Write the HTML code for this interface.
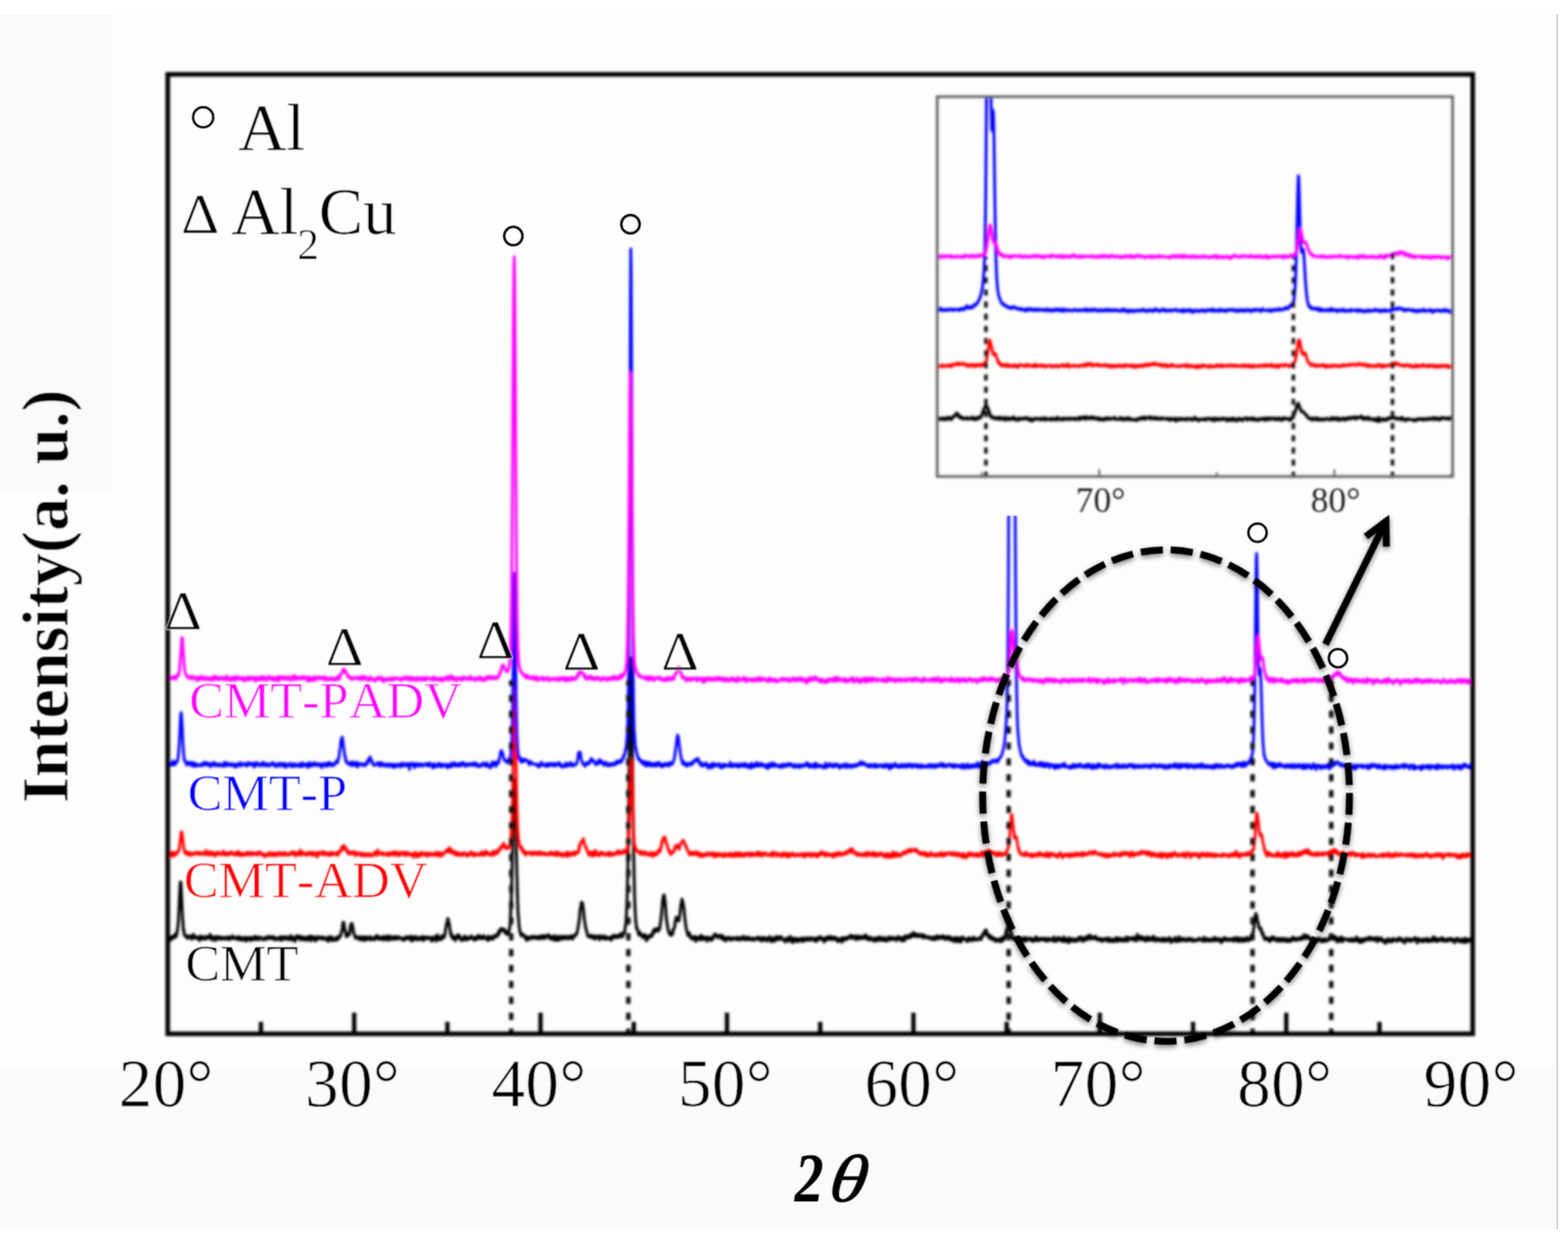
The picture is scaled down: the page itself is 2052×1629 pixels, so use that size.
<!DOCTYPE html>
<html lang="en"><head><meta charset="utf-8"><title>XRD patterns</title>
<style>html,body{margin:0;padding:0;background:#fff;}body{width:2052px;height:1629px;overflow:hidden;}svg{display:block;}</style></head>
<body>
<svg width="2052" height="1629" viewBox="0 0 2052 1629">
<defs>
<filter id="soft" filterUnits="userSpaceOnUse" x="0" y="0" width="2052" height="1629"><feConvolveMatrix order="3" kernelMatrix="0.0529 0.1242 0.0529 0.1242 0.2916 0.1242 0.0529 0.1242 0.0529" divisor="1" edgeMode="none" preserveAlpha="false"/></filter>
<filter id="pb" filterUnits="userSpaceOnUse" x="200" y="80" width="1750" height="1300"><feGaussianBlur stdDeviation="1.4"/></filter>
<filter id="soft2" filterUnits="userSpaceOnUse" x="1190" y="90" width="760" height="600"><feGaussianBlur stdDeviation="1.4"/></filter>
<filter id="soft3" filterUnits="userSpaceOnUse" x="1380" y="620" width="440" height="70"><feGaussianBlur stdDeviation="0.9"/></filter>
<filter id="sh" filterUnits="userSpaceOnUse" x="1200" y="600" width="700" height="850"><feGaussianBlur in="SourceAlpha" stdDeviation="3.5" result="b"/><feOffset in="b" dx="0" dy="3" result="o"/><feComponentTransfer in="o" result="s"><feFuncA type="linear" slope="0.5"/></feComponentTransfer><feMerge><feMergeNode in="s"/><feMergeNode in="SourceGraphic"/></feMerge></filter>
<clipPath id="cm"><rect x="219.5" y="97" width="1708" height="1256"/></clipPath>
<clipPath id="ci"><rect x="1226.5" y="126.5" width="674.5" height="497"/></clipPath>
</defs>
<rect x="0" y="0" width="2052" height="1629" fill="#ffffff"/>
<rect x="0" y="18" width="2038" height="1590" fill="#fdfdfd"/>
<rect x="0" y="18" width="147" height="626" fill="#f9f9f9"/>
<rect x="0" y="1398.5" width="2038" height="209.5" fill="#fafafa"/>
<rect x="2037.2" y="18" width="1.6" height="1590" fill="#c4c4c4"/>
<g filter="url(#soft)">
<g filter="url(#pb)">
<g clip-path="url(#cm)" fill="none" stroke-linejoin="round" stroke-linecap="round">
<path d="M221 1225.7l.5 2.4 .5 .6 .5 2 .5-3.1 .5-.5 .5-.1 .5-1.3 .5-.1 .5 2.7 .5-.1 .5-.7 .5-2.9 .5-.5 .5 2.1 .5 .1 .5-3.2 .5-1 .5 2.3 .5 1.1 .5-3.4 .5-.3 .5-3.4 .5-4.7 .5-3 .5-6.6 .5-9.3 .5-9.7 .5-12.1 .5-11 .5-8.1 .5 .2 .5 5.9 .5 10.9 .5 10.7 .5 11.3 .5 9.4 .5 5.5 .5 9.3 .5-.3 .5 4.7 .5 2.5 .5 .1 .5 .3 .5-.7 .5 2 .5-1.7 .5 .3 .5 3.4 .5 .1 .5-2.5 .5 .4 .5-.5 .5 .9 .5-.1 .5 .5 .5-2 .5 2.7 .5-1.1 .5 .7 .5 2.1 .5-4.1 .5 1.4 .5-1.3 .5-2.6 .5 4.7 .5-.3 .5-2.4 .5 3.2 .5 .1 .5-1.4 .5 .8 .5-.5 .5 1.1 .5-1.3 .5-.2 .5-.1 .5 1.5 .5 .2 .5 2.3 .5-3.6 .5 4.1 .5-4.4 .5-1.5 .5 3.4 .5-.1 .5 .2 .5-2.1 .5 2 .5-1.8 .5 .8 .5-.3 .5-1 .5 3.4 .5-1.5 .5-.4 .5-1.5 .5 2.7 .5-3.1 .5 1.3 .5-.8 .5 .4 .5 1.7 .5-.7 .5-1.8 .5 1.5 .5-1.1 .5-2.2 .5-.9 .5 3.8 .5-2.2 .5 5 .5 .3 .5-4 .5 1.6 .5-1.1 .5 .3 .5 .9 .5-.9 .5 1.1 .5 3.3 .5-1.8 .5-.3 .5-3.3 .5 3.6 .5-1.4 .5 1.4 .5-.9 .5-2.8 .5 1.6 .5 1.3 .5-.9 .5-.9 .5 2.5 .5-.3 .5-2.6 .5 .6 .5 1.1 .5 .2 .5-.2 .5 1.3 .5-2.7 .5 .1 .5 .2 .5 1.5 .5-.2 .5-.8 .5 .9 .5 .6 .5-1.1 .5-1 .5 2.5 .5-1.1 .5 .6 .5-.2 .5-2.1 .5-.5 .5 .8 .5 2 .5 .9 .5-1.8 .5 .5 .5-1.4 .5 1.6 .5-1.4 .5-1.6 .5-.3 .5-.4 .5 2.2 .5-.1 .5 1.3 .5-1.2 .5 .9 .5 .5 .5 0 .5-1.6 .5 .7 .5 .2 .5 1.5 .5-2.1 .5 1.9 .5-3.4 .5 2.5 .5-.2 .5-.4 .5 2.3 .5-.4 .5-.6 .5-2.5 .5 3.6 .5-.8 .5-.4 .5 1.6 .5-.4 .5-2 .5-.5 .5 .7 .5-1.2 .5 2.8 .5-.7 .5-2.5 .5 0 .5 5 .5-1.4 .5-3.1 .5 2.9 .5-1.3 .5 1.2 .5-.5 .5-.1 .5-1.7 .5-.9 .5 .1 .5 1.4 .5 2.7 .5-2.7 .5 .8 .5-2.1 .5 1 .5 1.8 .5-2.3 .5 2.2 .5-2 .5-.8 .5-.1 .5-1.2 .5 4.4 .5-2.1 .5-1.2 .5 1.5 .5-2 .5 2.9 .5-2.6 .5 1.2 .5 2 .5 .4 .5-1.5 .5 .1 .5-2.2 .5 1.2 .5-.5 .5-.4 .5 1.4 .5-.5 .5 .6 .5 .6 .5 1 .5-.6 .5 .8 .5-1.6 .5-.6 .5 .9 .5-.2 .5-1.9 .5 0 .5 3 .5-.7 .5-.1 .5-.9 .5-1.9 .5 1.5 .5-.8 .5-1.1 .5 2.2 .5-.1 .5 .2 .5-.8 .5 1.3 .5-1.4 .5-1 .5-.1 .5 .5 .5 1.6 .5 1.1 .5-3.2 .5 .9 .5 2.1 .5 .3 .5-.4 .5 1.4 .5-2.8 .5 2 .5-.8 .5-.6 .5 .7 .5-.8 .5-.3 .5 1.2 .5 .8 .5-2.8 .5 2.3 .5-3 .5 3.7 .5-1.9 .5 0 .5 1.1 .5 1.7 .5-5 .5 3.1 .5-.1 .5-1.3 .5-.5 .5-.2 .5 .6 .5 1.6 .5-2.7 .5 2.9 .5-.9 .5-.8 .5-1.5 .5 1.5 .5 0 .5 0 .5 2.5 .5-2.3 .5 .2 .5 .1 .5-1.7 .5 1 .5-2.8 .5 1.3 .5 4.8 .5-2.8 .5 1.3 .5-2.1 .5 1.3 .5-1.4 .5 .6 .5-.6 .5 2.5 .5 2.9 .5-2.1 .5-1.2 .5-.6 .5 0 .5-3.9 .5 2.2 .5-1.3 .5 2.7 .5-2.9 .5 3.3 .5-2.5 .5 2.2 .5-1.5 .5-1.1 .5 4.7 .5-1 .5-2.2 .5 .5 .5 1.7 .5-2.7 .5 1.6 .5-1.9 .5 1.6 .5 2.2 .5-.6 .5-2.3 .5 3 .5-1.1 .5-1.2 .5 .2 .5-.1 .5 2.7 .5-4.6 .5 3 .5-.8 .5 .2 .5 .4 .5 .7 .5-2.1 .5-2.5 .5 3.8 .5 2.5 .5-3.7 .5 .6 .5-.8 .5-1.2 .5 3.2 .5-1.1 .5-.8 .5-1.5 .5 .7 .5 3.3 .5 1.4 .5-2.1 .5 1.8 .5-3.9 .5 2 .5-.7 .5 .5 .5-3.2 .5 1.8 .5 1.1 .5-1.6 .5 .8 .5-.9 .5-.2 .5 2 .5-1.6 .5-.5 .5-.4 .5 1.2 .5 1.2 .5 .5 .5-1.6 .5 1.3 .5-2.2 .5 1.2 .5-.4 .5 1.3 .5 .8 .5 .2 .5-1.8 .5 .7 .5 .3 .5 1 .5-1.3 .5 3.5 .5-6.1 .5 1.4 .5 .4 .5 2.2 .5-.3 .5-2.6 .5 .7 .5-1.3 .5-.6 .5 1 .5 4.2 .5-.7 .5 0 .5-.7 .5 .8 .5 .1 .5-1.7 .5-.1 .5-.8 .5 1.1 .5-2.4 .5 3.6 .5-.8 .5-1.3 .5 .4 .5 .7 .5-3.2 .5-.4 .5-.6 .5 1.6 .5-.9 .5-1 .5-1 .5-2.7 .5-.6 .5-3.5 .5-.1 .5-6.3 .5-3.7 .5 1.6 .5-1.3 .5 5.9 .5 1 .5 4.5 .5 .1 .5 2.3 .5 4.6 .5 .2 .5-.6 .5-3.8 .5 3.6 .5-.8 .5-.5 .5-.2 .5-.4 .5-1 .5-4.2 .5-5.9 .5-1 .5-1.5 .5 .2 .5-1.1 .5 1.2 .5 3.7 .5 1.1 .5 5.4 .5 1.8 .5 .3 .5 1.9 .5 .5 .5 3 .5 .6 .5-1.4 .5 .4 .5-.8 .5 .5 .5 .5 .5-1.1 .5 .4 .5 2.7 .5-1.5 .5 .5 .5-2.2 .5 2.9 .5-1.7 .5 2.9 .5-1.4 .5-1.8 .5 1.6 .5-2.7 .5 4.5 .5-3 .5-.3 .5 .1 .5 2.1 .5-2.6 .5 4 .5-4.7 .5 1.7 .5-1.4 .5 2.1 .5 .9 .5-.3 .5 .1 .5-1.5 .5 1 .5-.8 .5-.4 .5-1.4 .5 4.2 .5-1.9 .5-1.4 .5-.4 .5 1.7 .5-.4 .5 .5 .5 .1 .5 1.3 .5-.1 .5 .6 .5-1.5 .5-2 .5 2.5 .5-1.9 .5-1.6 .5 2 .5-3.5 .5 3.7 .5-2.4 .5 2.8 .5 .6 .5-1.2 .5-1.9 .5 3.6 .5-2.2 .5 1.7 .5-.6 .5-1.4 .5 .6 .5-.5 .5-.7 .5 3.4 .5-.6 .5-.9 .5-2.7 .5 4 .5 .6 .5-1 .5-2.7 .5 3.3 .5-1.3 .5-.4 .5-1.5 .5-1.5 .5 4.3 .5 .4 .5-2 .5-.5 .5 3.4 .5-2.5 .5-3.2 .5 1.9 .5-.6 .5 1 .5 .4 .5 .1 .5 1.5 .5-2.1 .5 2.3 .5-2.3 .5-1.3 .5 2.2 .5 .2 .5 .5 .5 .3 .5-3.4 .5 2.2 .5-1.4 .5 1.9 .5 .8 .5-.2 .5-1.3 .5-.4 .5-1.3 .5 1.7 .5-.6 .5-.3 .5 1.5 .5 .6 .5-1 .5 0 .5 .1 .5 .2 .5 .8 .5-1.2 .5 1.2 .5 2 .5-1.6 .5-1.6 .5 .3 .5 1.5 .5-2.2 .5-.8 .5 .1 .5-.8 .5 2.9 .5-1.3 .5 .9 .5-1.8 .5 .5 .5 .6 .5 .3 .5 1.3 .5-1.9 .5 2.1 .5-4.5 .5 1.6 .5 3.8 .5 1.3 .5-5.3 .5 2.8 .5-1.1 .5 2.3 .5-1.4 .5 .1 .5-2.5 .5 .6 .5-1.5 .5 3.4 .5-1.9 .5 1.2 .5-.3 .5 1.8 .5 .6 .5-3.7 .5 2.8 .5-1.3 .5-.5 .5 1.2 .5-1.5 .5 2 .5-.3 .5-2.8 .5 3 .5-1.8 .5-.3 .5-1.4 .5 1.5 .5 3.6 .5-1.4 .5-.9 .5-2.5 .5 1.1 .5 1.8 .5-1.7 .5 1.4 .5-1.6 .5 1.3 .5-1.8 .5 .9 .5-1.2 .5 1.8 .5-.8 .5 1.3 .5-1.3 .5 .2 .5 .2 .5 .3 .5 .8 .5-.7 .5 3.6 .5-5.5 .5 4.9 .5-2.2 .5 1 .5-1.2 .5 .7 .5-.1 .5-.8 .5-1.3 .5-1.7 .5 3 .5 3.1 .5-2.8 .5-1 .5-4.4 .5 5.6 .5-.4 .5-.9 .5 .3 .5 2 .5-2.8 .5 2.5 .5-1.9 .5-1.4 .5 3.3 .5-1.5 .5-3.8 .5 1.6 .5 1.5 .5-.9 .5-1.7 .5 2.3 .5-2.5 .5-.1 .5-2.7 .5-5.8 .5-1.4 .5-2.7 .5-3.6 .5-.5 .5-2.5 .5-3.3 .5 .5 .5 5.1 .5-.2 .5 2.1 .5 4 .5 3.1 .5 4.9 .5 .4 .5 3.5 .5-3.4 .5 3.6 .5-.7 .5 3.5 .5-2.7 .5 2.9 .5-1.2 .5-1.4 .5 1.1 .5 .9 .5 2.9 .5-4.5 .5 .3 .5-1.8 .5 .1 .5 1.8 .5-.3 .5-3.3 .5 4.6 .5-1.8 .5 1.1 .5-2.4 .5 2 .5 2.3 .5-1.2 .5 1.1 .5 .9 .5 1.3 .5-2.4 .5 1.1 .5-2.2 .5 1.8 .5-1.9 .5-2.1 .5 2.7 .5 .9 .5-2.3 .5-1.2 .5 3.6 .5 1.3 .5-1.5 .5 .4 .5-2.3 .5 1.8 .5-1.2 .5-.3 .5 1.3 .5-.2 .5-2.1 .5 0 .5 1.9 .5-3.6 .5 1.6 .5 .7 .5 .4 .5-.2 .5-.3 .5 .4 .5 1.2 .5 2 .5-2.9 .5 .5 .5 .8 .5-2.6 .5 3.4 .5-3.1 .5 1.5 .5 .5 .5-.5 .5-3.6 .5 1.3 .5 1.9 .5-2.2 .5-.9 .5 3.8 .5-.8 .5-1.9 .5 .5 .5 1.7 .5-1.3 .5 2.1 .5-.6 .5-3 .5 2.1 .5-2.7 .5 2.8 .5 .6 .5-.4 .5-.3 .5 0 .5 .2 .5 1.9 .5-.4 .5-1.3 .5-1.2 .5-1.1 .5 5.5 .5-3.2 .5 .7 .5-.7 .5-.3 .5 1.3 .5 .4 .5-3 .5-.5 .5 2 .5-.7 .5 1.6 .5 .8 .5-2.9 .5 .9 .5 .2 .5-1.2 .5-2.2 .5 1.1 .5 .8 .5-.2 .5-1 .5-.4 .5 1.6 .5-2.8 .5-.6 .5-2.3 .5 .3 .5 2.2 .5-4.9 .5-.2 .5 1.9 .5-3.9 .5 1 .5-1.3 .5 .6 .5-.3 .5 1.5 .5 .5 .5-1.1 .5-.8 .5 1.2 .5-.5 .5 .8 .5 3.7 .5-2.4 .5 3.2 .5 .6 .5-1.4 .5 1.5 .5-1.4 .5 2 .5-4.3 .5 1.7 .5-1.4 .5-2.9 .5-.9 .5-7.2 .5-6.7 .5-11.2 .5-10.1 .5-18.5 .5-20.5 .5-20.5 .5-25.6 .5-26.2 .5-20.2 .5-18.2 .5-10.2 .5 1.4 .5 12.6 .5 19.9 .5 18.2 .5 27.6 .5 26.4 .5 20.3 .5 18.8 .5 16.5 .5 14.5 .5 3.9 .5 7.6 .5 5.3 .5 2.7 .5 4.3 .5 1.6 .5-1.3 .5 4.5 .5-2.8 .5 2.4 .5-.7 .5 .1 .5-1.1 .5 .6 .5 .8 .5 1.3 .5-.7 .5 1.9 .5 1.6 .5-2 .5 .5 .5-.8 .5 4.8 .5-3.9 .5-.3 .5 .5 .5-.7 .5 2.7 .5-.7 .5 .3 .5-.4 .5-.3 .5-1.3 .5-.7 .5 1.6 .5-.3 .5 1 .5-3.1 .5 2.8 .5-1 .5-.6 .5 1.2 .5-1.2 .5 .9 .5-1.6 .5 1.6 .5-.1 .5 1 .5-1.8 .5-.7 .5 .7 .5 2 .5-1 .5-1 .5-.1 .5 2.5 .5-3.6 .5 2.5 .5-.7 .5 .6 .5-.7 .5-2.1 .5 3.6 .5-.7 .5 0 .5-.5 .5-2.9 .5 2.6 .5-.6 .5 2.1 .5-2.3 .5-.5 .5 .3 .5-.3 .5-1.3 .5 .8 .5 .6 .5 .4 .5 .7 .5-3.7 .5 4.5 .5-1.8 .5 1.7 .5 1 .5-2.5 .5 2.8 .5-3.1 .5 3.3 .5-2.9 .5 .3 .5 2.6 .5-3.4 .5 .5 .5 4.3 .5-5.3 .5-.6 .5 3 .5 .7 .5 0 .5 2.6 .5-3 .5-.9 .5 2.1 .5-1.9 .5-1.9 .5 5.5 .5-.3 .5-1.4 .5-2.4 .5 .6 .5 1.4 .5 .1 .5-.9 .5-2.7 .5 3.7 .5-.3 .5-1.9 .5 1.4 .5 .8 .5-3.1 .5 1.7 .5 1.1 .5-.9 .5-2.2 .5 2.2 .5-.6 .5-.5 .5-1 .5 3.2 .5-1.7 .5 .2 .5 .5 .5-1.3 .5-.8 .5 1.4 .5 1.4 .5-1.5 .5 1.1 .5-3.3 .5 1.8 .5 .7 .5-1.4 .5 3 .5-1.1 .5-1.2 .5-1.5 .5-1.2 .5 1.1 .5-.8 .5 .6 .5-1 .5-.3 .5-2.5 .5 .5 .5-1.9 .5-2.8 .5-3.7 .5-1.8 .5-3.7 .5-3.5 .5-3.6 .5-8.2 .5-3.3 .5-.9 .5-3.8 .5-3.6 .5 .9 .5 1.9 .5-.9 .5 4.6 .5 3.9 .5 4.3 .5 6.6 .5 3.3 .5 2.8 .5 3 .5 4.4 .5 .1 .5 3.2 .5 .1 .5 3.7 .5 1.9 .5 .7 .5 .9 .5-.6 .5 0 .5-.3 .5 .6 .5 .9 .5-2.6 .5 1.7 .5-.1 .5-1.3 .5 .3 .5 3.2 .5-1.2 .5-1.3 .5-.3 .5 .5 .5-.7 .5 4.2 .5-2.4 .5 2.1 .5-1.3 .5-.4 .5-1.3 .5-.6 .5 .8 .5 .1 .5 .8 .5-1.8 .5 1.9 .5 3 .5-1.6 .5-1.3 .5 1.2 .5-2.5 .5-1 .5 2.4 .5-.5 .5-.1 .5 1.4 .5 .3 .5 .6 .5-1.3 .5-.2 .5-2.5 .5 1.7 .5-.6 .5 3.4 .5-1.1 .5-.9 .5-.4 .5 1.2 .5-.3 .5-.6 .5 1.3 .5-.3 .5-.9 .5 1.3 .5 .9 .5-1.7 .5-.9 .5 3.4 .5-5.2 .5 1.8 .5-.9 .5 1.8 .5-1.2 .5-2.4 .5-.1 .5 1.3 .5 1.1 .5-.4 .5-1.6 .5 2 .5 .3 .5-1.4 .5-.9 .5 2.6 .5-1.3 .5 .3 .5-.1 .5-.2 .5-2.3 .5 .4 .5 2.5 .5-4.4 .5 1.9 .5-.4 .5 1 .5-.3 .5 2 .5-3.1 .5-2 .5-.7 .5 .7 .5 .5 .5-2.6 .5-3.3 .5-4.5 .5-.3 .5-8.2 .5-9.8 .5-12.3 .5-16.6 .5-19.5 .5-34.4 .5-34.9 .5-41.6 .5-43.6 .5-45.3 .5-43.3 .5-26.5 .5-13.5 .5 7.2 .5 21 .5 39.4 .5 41.9 .5 43.7 .5 44.3 .5 37 .5 33.2 .5 24.5 .5 21.3 .5 13.5 .5 8.9 .5 10.2 .5 1.1 .5 6.8 .5-1 .5 1.2 .5 1.7 .5 2.2 .5 1.7 .5 2.4 .5-3.1 .5 2 .5-2.6 .5 3.5 .5-.9 .5 1.8 .5-.6 .5 1 .5 .8 .5 1.6 .5-1.4 .5-1.3 .5-1.2 .5 2.1 .5 2 .5-4.1 .5 1.3 .5-.3 .5 3.3 .5 3.7 .5-3 .5 .7 .5-2.2 .5 2.1 .5-1.6 .5-.1 .5-2.4 .5 1.6 .5-2.4 .5 .3 .5 .3 .5 1.4 .5 0 .5-2.9 .5 1.7 .5-4.1 .5 1.1 .5-3.2 .5-1.4 .5 .6 .5 2.8 .5-4.5 .5 1.8 .5-.1 .5-.7 .5 .9 .5-1.8 .5 1.5 .5-2.6 .5 .4 .5 3.3 .5-1.7 .5-.3 .5-.6 .5-2.2 .5-4.3 .5-3.2 .5-2.7 .5-5.2 .5-5.5 .5-4.4 .5-7.6 .5-4.2 .5-3.3 .5-1.5 .5-.8 .5 2.7 .5 3.3 .5 4.2 .5 5.2 .5 9.1 .5 6 .5 3.2 .5 4.1 .5 2.5 .5 3.2 .5 1.9 .5 4 .5-.6 .5 1.6 .5-.8 .5-.1 .5 3.5 .5-.2 .5-3.5 .5 3.2 .5-.8 .5-.1 .5-1.4 .5-5.5 .5 1 .5-1.7 .5-1.4 .5-.8 .5-6.9 .5-.8 .5-2.1 .5-2.9 .5 2.1 .5 .6 .5 .1 .5-1.1 .5 3.3 .5-1.2 .5 1 .5-4.9 .5-2.5 .5-2 .5-6.3 .5-3 .5-5.1 .5-.7 .5-3.8 .5 3.2 .5-.1 .5 2.6 .5 4.6 .5 1.4 .5 4.8 .5 7.4 .5 2.6 .5 5.3 .5 2.9 .5 2.8 .5 3.3 .5 1.3 .5 1.4 .5 3.1 .5 .9 .5-1.6 .5 1.3 .5-3.1 .5 1 .5 4.2 .5-.8 .5 2.2 .5-1.7 .5 .2 .5 .5 .5 2.6 .5-2.5 .5 .7 .5 .9 .5-1.2 .5-1.3 .5-.3 .5 4.5 .5-3.1 .5 5.2 .5-.7 .5-.8 .5-3.5 .5 1 .5 .2 .5-1.3 .5 1.3 .5 .2 .5-2.6 .5 2.8 .5 1.4 .5 .2 .5-3.9 .5-2.1 .5 1.8 .5 1 .5-1.5 .5 3.7 .5-2.2 .5 1.8 .5-2.6 .5 3.6 .5-2.4 .5 .2 .5 .1 .5-.7 .5 1.9 .5-2.5 .5 2.5 .5 2.8 .5-4.4 .5-.1 .5 1.3 .5-1.7 .5 .4 .5 .9 .5 1.8 .5-.8 .5-.1 .5-.8 .5 2.6 .5-1 .5-3.7 .5 2.1 .5-.2 .5 .5 .5-4.1 .5 .7 .5-.9 .5-1.8 .5 1 .5-.8 .5 2 .5-.8 .5 .6 .5 .3 .5 2.5 .5-1.6 .5 .3 .5 1 .5-.7 .5-2.5 .5 .9 .5 1.9 .5-.2 .5-1.4 .5 3.4 .5-2.2 .5-1.7 .5-.1 .5 1.5 .5 .5 .5 3.7 .5-1.6 .5-.4 .5-.8 .5 1 .5 3.4 .5-2.2 .5-1.3 .5 1.7 .5-1.2 .5-1.5 .5 .3 .5 .6 .5-.4 .5-1 .5 2.3 .5 .9 .5-.4 .5-.4 .5-.2 .5 1.5 .5-.9 .5-1.2 .5-1.3 .5 1.2 .5 1.1 .5-.9 .5 .7 .5-.1 .5-1.2 .5 1 .5 .3 .5-1.5 .5 .9 .5-1.2 .5 2.8 .5-1.1 .5-2.2 .5 2.4 .5-1 .5 .6 .5 1.2 .5-2.3 .5 .7 .5-1.3 .5 2.9 .5-1.3 .5 .1 .5 .4 .5-2.3 .5 2.3 .5 0 .5-3.8 .5 3.4 .5 .3 .5-.7 .5 1.6 .5-2.2 .5 1.8 .5-.2 .5 .3 .5-2.6 .5 .2 .5-1 .5 .2 .5 3.2 .5-2.1 .5 .9 .5 1.7 .5-1.9 .5 .7 .5 0 .5-.4 .5-.8 .5 .5 .5-.1 .5 2.3 .5-2.5 .5 1.8 .5 .5 .5-1.4 .5-.7 .5-.2 .5 1.3 .5 .3 .5 .1 .5-1.7 .5-.1 .5 .1 .5 1.3 .5-3.1 .5 1.8 .5-.2 .5 .6 .5 .7 .5-1.4 .5 3.3 .5-1.7 .5-.5 .5-1.2 .5 1.7 .5-1.5 .5 3.8 .5-4.8 .5 1.1 .5-.3 .5 2.3 .5-1.9 .5 1.4 .5-1.6 .5 2.1 .5-2.3 .5 .5 .5 3.7 .5-2.1 .5 .7 .5-2.1 .5 1.8 .5-.9 .5-2 .5 2.8 .5-4.1 .5 2.9 .5 .8 .5 2.5 .5 .5 .5-3.3 .5 1.3 .5-.3 .5-2.7 .5 .9 .5 1.1 .5 1.8 .5 .7 .5-3.9 .5 .6 .5-.2 .5-2.6 .5 4 .5-1.6 .5-2.3 .5 1.6 .5 1.2 .5 .2 .5-2.9 .5 3.8 .5-2.6 .5-.4 .5 1.8 .5-1.8 .5 .7 .5-1.8 .5 2.1 .5 1.3 .5 0 .5 .1 .5 .8 .5-.6 .5 1.5 .5 .1 .5-1.6 .5 3.4 .5-3.3 .5 0 .5 .5 .5-2.7 .5 .7 .5 1.6 .5-.8 .5-.4 .5 3.5 .5-2.7 .5-.2 .5-1.4 .5-2.2 .5 4.1 .5-.3 .5 1.7 .5-1.4 .5 0 .5 4 .5-5.2 .5-.5 .5 4.9 .5-1.9 .5-2.5 .5 .8 .5-1.4 .5 1.9 .5-1.3 .5 3.2 .5-2.4 .5 .8 .5 .8 .5 1.7 .5-1.7 .5-2.5 .5 2.4 .5-.6 .5-1 .5 1.2 .5-1.6 .5-.2 .5 1.5 .5 2 .5-4.5 .5 2 .5 .1 .5 .8 .5 .2 .5 1 .5-2.9 .5-.1 .5-.8 .5 0 .5 2.9 .5-3.5 .5 1.3 .5-.6 .5 1.7 .5-1.7 .5 2.1 .5-1.4 .5 2.2 .5-2.1 .5-.4 .5-.8 .5-.2 .5 1.2 .5 1.3 .5-1.8 .5-.1 .5 2 .5-1.8 .5 1.9 .5-2 .5 .5 .5 .4 .5-.4 .5 3.2 .5-3.7 .5 3.6 .5-3.7 .5 .6 .5 3.2 .5-2.4 .5 .2 .5 .5 .5-3.6 .5 1 .5 .9 .5-1.1 .5 1 .5 .6 .5-2.8 .5 3.3 .5-2 .5 1.2 .5 .2 .5 .6 .5-1.1 .5 .9 .5 .3 .5 3.6 .5-4.2 .5 2.2 .5-3.8 .5 2.2 .5-1.6 .5-.5 .5-.2 .5 3 .5-4 .5 1.3 .5-.2 .5 2 .5-3.4 .5 2 .5-.3 .5 1.8 .5-3 .5 .1 .5 1.9 .5-2.5 .5 4 .5-2.1 .5-.1 .5-.2 .5 1.6 .5 0 .5-1.8 .5-.7 .5 1.5 .5 .5 .5 1.6 .5-2.7 .5 1.7 .5-.1 .5 3 .5 .4 .5-1.4 .5 .5 .5-2.6 .5 0 .5 .7 .5-.6 .5-.7 .5 2 .5-2.6 .5 5.4 .5-5.5 .5 4.4 .5-3 .5-.5 .5-1.1 .5 1.5 .5-1.1 .5 2.2 .5-2.8 .5 1.1 .5-.7 .5-.6 .5 2.6 .5-1.2 .5 .2 .5-1.3 .5 .3 .5-1.8 .5 1.1 .5 .5 .5-.4 .5-1 .5-.4 .5-1.7 .5 3.9 .5-1.8 .5 2.4 .5-1.2 .5-1 .5-.9 .5 1.8 .5-1.4 .5 .3 .5-1 .5 .1 .5 .9 .5 3.8 .5-.7 .5-2.5 .5 .3 .5-1.9 .5 3.1 .5-.7 .5 1.8 .5 0 .5-2.4 .5-1.3 .5 2 .5 .7 .5-1.6 .5-1.1 .5 .2 .5 .8 .5 1.5 .5 .4 .5-.8 .5-.2 .5 .8 .5-3.5 .5 1.3 .5 1.8 .5-2.2 .5-2.2 .5 2.8 .5 .5 .5-.5 .5 3.3 .5-1.4 .5 .1 .5-1.7 .5 3.7 .5-2.6 .5 1.1 .5 .5 .5 .3 .5-3.1 .5 2.9 .5 1 .5-1.3 .5 1 .5-.8 .5 .2 .5 .1 .5-1.2 .5 3.2 .5 .3 .5-4.3 .5 4 .5-2.5 .5 1.2 .5-1.4 .5 .3 .5-1.8 .5 2.3 .5 1.4 .5-.5 .5-2.6 .5-.7 .5-1.1 .5 0 .5 4.2 .5-1.3 .5 1 .5-1.7 .5-.7 .5 3.4 .5-2.6 .5-.5 .5 2.1 .5-.5 .5-2.7 .5 2.4 .5 2 .5-1.2 .5-1.7 .5 .2 .5 3.2 .5-1.1 .5-1.1 .5-.8 .5-.1 .5 .4 .5-3.1 .5 1 .5 3.6 .5-1.2 .5-1.6 .5 2.1 .5-1.8 .5 .8 .5 .7 .5-1.2 .5-1.9 .5 2.8 .5-1 .5 1 .5-1.7 .5 .3 .5 1.6 .5 .3 .5-1.6 .5 1.2 .5 1.6 .5-.8 .5-1 .5-2.9 .5 .6 .5-1.1 .5 .7 .5-.1 .5 .6 .5 2.9 .5-1.9 .5-.3 .5 .1 .5 .2 .5 3.4 .5-4 .5 1.2 .5-1.8 .5 1.8 .5 .3 .5-.6 .5 3.1 .5-3.4 .5 .3 .5-3.5 .5 2.9 .5 .6 .5-3.3 .5 1 .5 .8 .5-.6 .5 .7 .5-.2 .5 1.1 .5-3.2 .5 .4 .5-1.8 .5 1.7 .5 1.8 .5-2.9 .5 .5 .5-1.3 .5 2.6 .5-1.8 .5-3.3 .5 .4 .5 4.3 .5-2.3 .5 .1 .5-1 .5 2.5 .5 1.1 .5-3 .5 1.9 .5 .4 .5 .8 .5-2.8 .5 2.4 .5-2.3 .5 .9 .5 1.9 .5-1.8 .5-.4 .5 1.7 .5 .5 .5-1.7 .5 1.3 .5-1.5 .5-.8 .5 3.8 .5 .7 .5-3.4 .5 1.8 .5-.8 .5-.9 .5 1.8 .5-1.1 .5 2.1 .5-.4 .5-.2 .5-.4 .5 1.6 .5-.2 .5-.5 .5 .3 .5 .1 .5-1.3 .5 2.5 .5-1.4 .5-.4 .5 0 .5 1.7 .5-1.1 .5 .9 .5 1.3 .5-1.9 .5 1.6 .5-1.5 .5-1.5 .5 .5 .5 2.8 .5 .3 .5-1.3 .5-.7 .5-1.6 .5 1 .5-2.5 .5 2.5 .5-2.1 .5 3.8 .5-1.7 .5 0 .5-1.4 .5 .9 .5 1.3 .5 0 .5-2.3 .5-.4 .5 1.4 .5-.3 .5 1.7 .5-2.8 .5-.7 .5 3 .5 .5 .5-2.6 .5 .4 .5 2 .5 .2 .5 1.5 .5-2 .5 .8 .5 .1 .5-2.7 .5 2.8 .5 .3 .5-1.5 .5 .5 .5-2.4 .5 3.4 .5-.1 .5-2.1 .5 3.3 .5 .8 .5-1.3 .5 .1 .5 .3 .5-1.2 .5-1.1 .5 3.1 .5-1.4 .5 3 .5-3.7 .5 2.6 .5-2.1 .5-2 .5 .5 .5 1 .5 3.8 .5-5.5 .5 2.9 .5-2.2 .5 2.1 .5 .2 .5-1.8 .5 4.5 .5-.9 .5-2.3 .5-2 .5 5.5 .5-3.8 .5 1.7 .5-2.2 .5-2.4 .5 2.4 .5-.3 .5-.7 .5 1.7 .5-1 .5 .4 .5 .1 .5 .9 .5 .3 .5 .6 .5-1.4 .5 3.2 .5-2.4 .5-1.7 .5 2.9 .5-.2 .5-3.9 .5 2.1 .5 .6 .5-2 .5 .4 .5 .9 .5 .6 .5 1.7 .5-1.1 .5-.7 .5-1.7 .5 .5 .5-2 .5 2.9 .5-1.1 .5 .8 .5 1.6 .5-2.3 .5 .8 .5 .4 .5 .5 .5-.1 .5 .4 .5-1.1 .5-1 .5 0 .5 .3 .5 .9 .5-1.1 .5-1.6 .5 .9 .5 1.6 .5 .5 .5-2.1 .5-2.2 .5 .4 .5-3.4 .5 2.5 .5-1 .5-1.7 .5 .3 .5-4.2 .5 2.1 .5-.5 .5 .1 .5-3.1 .5 .9 .5 4.9 .5 1.7 .5-1.1 .5-.4 .5 1.7 .5 .5 .5 2.8 .5-4.1 .5 1.9 .5 .1 .5 1.6 .5-.6 .5-1 .5 3.9 .5-1.5 .5-1.1 .5 .9 .5 1.8 .5 .1 .5-2 .5 .8 .5 1.2 .5-.9 .5 3.2 .5-2.4 .5-.9 .5 .3 .5 2.2 .5-.8 .5-.4 .5-.7 .5 1.3 .5 .4 .5-.6 .5 .9 .5 1 .5-4.9 .5 3.3 .5-.5 .5 .4 .5 .8 .5-2.9 .5 2.6 .5-5 .5 3.5 .5-.9 .5-.6 .5-.5 .5-2.1 .5-3.4 .5-1.6 .5-3.1 .5 2.8 .5-5.3 .5-1 .5 .4 .5 1.1 .5-5.4 .5 1.9 .5 4.2 .5-2.7 .5 2.7 .5 1.9 .5 .9 .5 2.6 .5 1.1 .5 .1 .5 4.4 .5 1.5 .5 .8 .5-2.4 .5 2.2 .5-.7 .5 0 .5-.9 .5 .3 .5 1.5 .5-3 .5 1.7 .5-.4 .5 .9 .5 0 .5 .2 .5-.6 .5-.5 .5 .7 .5 1.4 .5 .2 .5-2 .5-.9 .5-.3 .5 2.9 .5 2.1 .5-2.4 .5-1 .5 0 .5 1 .5 1.5 .5-.7 .5 1.6 .5-5.3 .5 1.9 .5 .4 .5-1 .5 1.7 .5 1.3 .5-2.3 .5-.1 .5 .5 .5-1.3 .5 .3 .5 .6 .5 .5 .5-.9 .5 2.1 .5-1.7 .5-1 .5 3.1 .5-1.7 .5 2.6 .5-2.2 .5 2.7 .5-.5 .5-1.6 .5-1.5 .5 1 .5 .7 .5 .3 .5-1.1 .5-3.6 .5 1.5 .5 3.5 .5-.4 .5 .8 .5-2.9 .5 1.1 .5 1.5 .5-1.6 .5 0 .5 .8 .5-.8 .5-1.3 .5 1.8 .5-1.1 .5 1.3 .5-.5 .5-1.7 .5 .4 .5 1.9 .5-.5 .5-1.8 .5 1.6 .5 1.3 .5-2.5 .5 1.3 .5-.2 .5-1 .5 3.4 .5-.8 .5 .1 .5-1.4 .5 .2 .5-2.1 .5 1.5 .5 1.4 .5-1.5 .5 .6 .5-.6 .5 .3 .5 .8 .5-1.2 .5 1.4 .5 .7 .5-2.2 .5 1.4 .5-4.3 .5 5.7 .5-2.9 .5-.6 .5 1.4 .5 0 .5-.6 .5 3 .5-2.6 .5 .5 .5 0 .5-3.3 .5 1.7 .5 .6 .5 1 .5-.4 .5 .5 .5-2.4 .5 2.1 .5 1.1 .5-.3 .5-1.4 .5 2.8 .5-.7 .5 .4 .5 .3 .5-5.9 .5 4.2 .5-2.7 .5 2.3 .5 .4 .5 2.1 .5-2.7 .5-1 .5 1.6 .5-.8 .5-.5 .5 1.5 .5 .3 .5 2.8 .5-6.4 .5 2.6 .5 2.7 .5-.1 .5-1 .5 .1 .5-1.6 .5 .5 .5-1.8 .5 .7 .5 .2 .5 1.8 .5-2.4 .5-.1 .5 1.3 .5 2.2 .5-2.9 .5 2.1 .5-1.4 .5-.3 .5-.6 .5 1.8 .5-1.6 .5-1.1 .5 3 .5-1.1 .5-1.8 .5-1.9 .5 3.2 .5-.4 .5-2.6 .5-.5 .5 3.6 .5-.6 .5-.7 .5 1.3 .5 2.3 .5-2.7 .5-1.2 .5 2.8 .5-4 .5 2 .5 1.1 .5-2.2 .5 2.3 .5-3.6 .5 .9 .5-1.8 .5 4.1 .5-2.4 .5-2.7 .5-.2 .5 .8 .5 .6 .5 0 .5-.7 .5-1.1 .5 5.3 .5-.8 .5 0 .5-1.7 .5 0 .5 1.1 .5 0 .5-1 .5-.8 .5 2.4 .5-.6 .5-.4 .5-2.5 .5 4 .5-.8 .5 .3 .5 .4 .5-1.1 .5 1.5 .5 1.3 .5-1.7 .5-.8 .5 1.1 .5 .9 .5-2.2 .5 2.1 .5-1.1 .5 1.9 .5 .8 .5-.1 .5 .6 .5-3.3 .5-.1 .5 .8 .5 .4 .5-.5 .5-.1 .5-1.4 .5 2 .5 .6 .5-1.9 .5 .8 .5 .7 .5 1.2 .5-2.9 .5-1 .5 4.1 .5 .6 .5-1.1 .5-1.4 .5-1.3 .5 .6 .5 2.8 .5-1.9 .5-.5 .5 1.3 .5-1.1 .5 2.6 .5-2 .5 1.4 .5-1.7 .5-.6 .5 3 .5-2.6 .5-1.4 .5 1.1 .5-1.9 .5 2.4 .5-2.7 .5 2.8 .5 2.1 .5-1.4 .5 .8 .5-2.9 .5-.3 .5-.2 .5 .9 .5 1.2 .5 .5 .5 .6 .5-3 .5 1.7 .5-.6 .5-.8 .5 .6 .5 2.6 .5-.3 .5-.3 .5-2.4 .5 2.7 .5-.5 .5-2.8 .5-.8 .5-1.2 .5 2.2 .5-.6 .5 4.1 .5-2.7 .5-1 .5-.7 .5 2.1 .5-2.3 .5-.3 .5 1.8 .5-.1 .5 .6 .5-.1 .5-1.1 .5 1.8 .5 .1 .5-1.2 .5 .4 .5-2.7 .5 2.1 .5 .4 .5 1.4 .5-2.1 .5 1.2 .5 1.5 .5-4.4 .5 4.5 .5-6.2 .5-2.1 .5 4.4 .5 1.2 .5-1.9 .5 1.6 .5-.4 .5-.9 .5 3.2 .5-4.5 .5 2.3 .5-.8 .5-1 .5 3.8 .5-.5 .5-2 .5-.6 .5 .5 .5-.2 .5 .8 .5 2.5 .5 1.2 .5-1.3 .5-1.3 .5-.6 .5 2.7 .5-4.4 .5-.8 .5 2.8 .5 1.9 .5-.5 .5-.6 .5 1.2 .5-3.1 .5 2.5 .5-1.6 .5 1.5 .5-2.7 .5 2.5 .5-.6 .5 1.4 .5-.9 .5 1 .5-5.5 .5 4.1 .5 .4 .5 .3 .5-1.1 .5 .4 .5 2.5 .5-3.8 .5 2 .5 .2 .5-2.1 .5 1.2 .5 1 .5 .1 .5-2 .5 1.6 .5-.1 .5 2 .5-2.6 .5 1.1 .5 .5 .5-1.7 .5 1 .5 .6 .5-2.1 .5-.8 .5 4.5 .5-3.4 .5 .5 .5 .5 .5-1.6 .5 .7 .5 1.8 .5-1.9 .5 2.4 .5-.3 .5 .7 .5-2.5 .5-.7 .5 1.5 .5-.6 .5-2.4 .5 2.4 .5 .9 .5-1.9 .5 3.1 .5 2.2 .5-2.5 .5-1.5 .5 1.7 .5 .1 .5 0 .5-.2 .5 .2 .5-1.2 .5-1 .5-2.5 .5 2.4 .5 .7 .5 1.8 .5-.7 .5 1.4 .5-2 .5 1.8 .5-3.4 .5-1.3 .5 1 .5-2.6 .5 5.3 .5-3 .5 1.6 .5-.7 .5 2.4 .5-1.6 .5 0 .5 .2 .5-2.2 .5 .1 .5 .1 .5 2.4 .5 .2 .5 .5 .5-2.4 .5 .6 .5 1.2 .5 .7 .5-1.1 .5-.3 .5 0 .5 1.2 .5-2.4 .5-1 .5 2.5 .5-1.6 .5 .8 .5 1.5 .5-.6 .5-.8 .5-1.2 .5 2.4 .5-1.1 .5 .3 .5 .2 .5 1.8 .5-2.7 .5 2.4 .5-.9 .5-.7 .5 .7 .5 .6 .5-.8 .5-.3 .5 0 .5-.7 .5 1.2 .5 0 .5 .3 .5-.3 .5-.8 .5-1.5 .5-.5 .5 .4 .5 1.1 .5 .4 .5-.2 .5 .1 .5-.2 .5 1.3 .5-.9 .5 2 .5-.9 .5-.1 .5-4.3 .5 3.3 .5-1.1 .5 3 .5-2 .5 1 .5-2 .5 1.3 .5 .7 .5-2.7 .5 1.5 .5 1.8 .5-1.1 .5 .9 .5-1.5 .5 1.1 .5-.4 .5 1.3 .5-2.8 .5 2.1 .5-1.2 .5 .4 .5-.7 .5 1.5 .5-1.9 .5-.8 .5 1.8 .5-3.1 .5 4.1 .5-.1 .5 .1 .5-3.4 .5 2.1 .5 .2 .5-.5 .5 .1 .5-1.3 .5 2.5 .5 .2 .5 .1 .5-.3 .5-1.8 .5-.1 .5 1.6 .5 .3 .5 2.9 .5-4.3 .5-.6 .5 3.8 .5-1.3 .5-.1 .5-2 .5-.1 .5-1.3 .5-.8 .5 1.3 .5 1.9 .5 .3 .5-.5 .5-1.4 .5 .5 .5 1.8 .5-2.2 .5 2.1 .5-.3 .5-1.8 .5 1.5 .5 .5 .5-.2 .5-1.2 .5-.5 .5 .5 .5 1 .5-1.2 .5-.2 .5 2.3 .5-3.3 .5 1.2 .5-.3 .5-.9 .5 3.9 .5-1 .5-2.4 .5-.4 .5 2 .5-.1 .5-3.2 .5 1.3 .5 1.2 .5 2.9 .5-2 .5 2.2 .5-1.3 .5-3.1 .5 .5 .5-.2 .5 2.7 .5-.1 .5 .4 .5-3.3 .5 3.2 .5 1.1 .5-.5 .5-2.8 .5 1.7 .5-2.3 .5 2.8 .5-.6 .5 1.1 .5-.5 .5-1.3 .5-1.3 .5-1.7 .5 1.5 .5 2.7 .5-.7 .5 .4 .5-1.6 .5 1.6 .5-.8 .5 .6 .5-3.7 .5 1.3 .5-2.4 .5 .7 .5-3.1 .5 4.4 .5-3.9 .5-2.3 .5-1.2 .5-4.4 .5-3.1 .5-4.8 .5-3.2 .5-6.3 .5 .5 .5-3.5 .5 1.1 .5 1.7 .5 1.5 .5 4.8 .5 2.7 .5 .3 .5 5 .5 .8 .5-.6 .5 3 .5-1.9 .5 3.3 .5-2.2 .5 1.5 .5 3.3 .5-.3 .5 3.7 .5-2.5 .5 1.1 .5 4 .5 .1 .5 1.5 .5 2.1 .5-.4 .5-1.2 .5 .3 .5-1 .5 2.4 .5 .3 .5-2.4 .5 .3 .5 2 .5 .2 .5 .8 .5-.6 .5 2.1 .5-.3 .5-3.9 .5 2 .5 .7 .5-2.3 .5-2.4 .5 1.2 .5 1.4 .5 1.2 .5-2.8 .5-.6 .5 2.1 .5 .9 .5-.6 .5-1 .5 .8 .5 1.3 .5 .2 .5 1.7 .5-2.5 .5-.8 .5 1.7 .5 0 .5-2.3 .5 2.6 .5-1.7 .5 1.9 .5 1.3 .5-3 .5 .4 .5 .3 .5 .4 .5-2.4 .5 2.3 .5 1.3 .5-1.9 .5-.6 .5 .2 .5 .1 .5-.7 .5 3.3 .5-1.4 .5-.4 .5-1.3 .5 3.1 .5-3.1 .5 3.5 .5-2.2 .5 .8 .5 .4 .5-1.4 .5 2.3 .5-2.8 .5 1.5 .5 1 .5-3.5 .5 2.2 .5-1.6 .5 1.4 .5-.1 .5-3.7 .5 2 .5 .6 .5-.9 .5 1.8 .5-2.1 .5 3.1 .5-2 .5 .9 .5-2 .5 2.3 .5-.6 .5-.9 .5 1.6 .5-1.4 .5-.5 .5 1.3 .5-.5 .5-2.2 .5 .3 .5 2.2 .5-1.6 .5 1.9 .5-2.4 .5-.4 .5 1.3 .5-.9 .5-2.7 .5 1.6 .5-3.1 .5 1.6 .5 3.9 .5-3.1 .5-.8 .5-.2 .5 1 .5 2.1 .5-1.6 .5 .7 .5-2.5 .5 1.3 .5 .3 .5 3 .5-1.2 .5 .8 .5 .9 .5-.2 .5 .3 .5-1.8 .5 1.8 .5-.7 .5 .5 .5 1.3 .5 .3 .5-2.3 .5 0 .5 2.2 .5-1.6 .5 3.8 .5-3.4 .5-1 .5 1.5 .5 2.2 .5-1.3 .5-1.8 .5 .4 .5 1.5 .5-1.6 .5-2 .5 1 .5-.1 .5 2.2 .5-1.4 .5 1.8 .5-.1 .5 1.8 .5-2.5 .5-1.3 .5 .9 .5 2.5 .5-2 .5 2.1 .5-2.1 .5 1 .5-2.8 .5 2.6 .5-1.9 .5 2.4 .5-1.8 .5-.2 .5 1.9 .5-1.1 .5-.1 .5-.9 .5-.4 .5 .9 .5-4.2 .5 .2 .5 1.1 .5-1.5 .5 1.7 .5 .5 .5-.2 .5 1.3 .5-3.6 .5-.2 .5 1.6 .5 1 .5-1.8 .5 3.8 .5-3 .5-1 .5 3.4 .5-2.3 .5 3.6 .5 .7 .5 2 .5-3.6 .5-.5 .5 0 .5 .1 .5-1.3 .5 1.7 .5 2.2 .5-1.7 .5-1 .5-2.7 .5 4.3 .5-.1 .5 2.1 .5-.6 .5-.8 .5-3.3 .5 1.4 .5-.2 .5 1 .5-.1 .5 .1 .5-.3 .5 0 .5-.9 .5-.2 .5 .7 .5 0 .5 1.6 .5 .5 .5-.9 .5 .1 .5 .6 .5-.1 .5 .3 .5-3 .5 2.9 .5-.5 .5 .8 .5 .3 .5-3.1 .5 3.1 .5-2.5 .5 .9 .5-.7 .5 1.8 .5-2.3 .5-.7 .5 .9 .5 1 .5 .8 .5-4.8 .5 5.1 .5-.7 .5-2 .5 0 .5 3 .5-1 .5 2.8 .5-3.7 .5-.2 .5 .8 .5-1.3 .5 1.1 .5 3 .5-3.9 .5 .6 .5-.7 .5 2.4 .5-1.2 .5 1.4 .5-2.2 .5-1.3 .5 2 .5 .4 .5-.6 .5-1.8 .5 .1 .5 .9 .5-1 .5 .4 .5 1.4 .5-3.2 .5-.5 .5 0 .5 3.8 .5-3.2 .5 2.9 .5-.9 .5 0 .5-1.9 .5 1.1 .5 1.7 .5-.7 .5 .8 .5 .5 .5-2.3 .5 0 .5 1.5 .5-2.1 .5-.6 .5 1.7 .5-.5 .5 .5 .5 3.6 .5-4.9 .5-.1 .5 1.2 .5 1.1 .5 1.2 .5-2.6 .5 2.7 .5-1.5 .5 0 .5-1.4 .5-.7 .5 2.4 .5 .1 .5 1.9 .5 .2 .5-1.5 .5-.3 .5-.1 .5 .8 .5 .1 .5 3.5 .5-3.4 .5 3.5 .5-1.2 .5-.9 .5-2.9 .5 2.3 .5-1.7 .5-1.6 .5 2.1 .5-.1 .5 1.9 .5-1.1 .5 1.2 .5-2.4 .5 0 .5-.8 .5 1.7 .5-.6 .5 2.3 .5-2.3 .5-1.6 .5 0 .5-.6 .5 2 .5-.5 .5 .6 .5 .5 .5-.4 .5-.6 .5 1.6 .5 .3 .5 .1 .5-2.8 .5 .6 .5-.6 .5-1.5 .5 .2 .5 2.4 .5 .4 .5-2.1 .5 1.6 .5-2.1 .5 1 .5 1.7 .5 1.4 .5-2.2 .5 .4 .5 2.2 .5 0 .5-1 .5-.3 .5 3.1 .5-2.1 .5-1.2 .5-2.9 .5 2 .5 .1 .5 .1 .5 .2 .5-.2 .5 1.2 .5-1.1 .5-1.9 .5 3.1 .5-.8 .5-1.7 .5 2.8 .5-1.6 .5 1.1 .5-1.6 .5-.3 .5 .8 .5 .7 .5 .1 .5-1 .5-1.5 .5 .9 .5-1.7 .5-.7 .5 3.1 .5-2.1 .5 1.2 .5 1.4 .5 3.5 .5-2.5 .5-1.9 .5 2.2 .5-3.6 .5 2.9 .5-1.3 .5 .6 .5 .1 .5-.9 .5 2.3 .5-1.7 .5 1 .5-1.6 .5 2.6 .5-3.5 .5 .5 .5 3 .5 0 .5-1.6 .5-.9 .5-.8 .5 .4 .5-.6 .5 1.3 .5 1.2 .5 .5 .5-1.3 .5 1.5 .5-3.9 .5 4.5 .5-3.1 .5 .7 .5 1.1 .5 .4 .5-1.5 .5 .2 .5 1 .5-1.6 .5 2 .5-.3 .5-2.2 .5-3.3 .5 2.1 .5-.7 .5 3.9 .5-1.8 .5 1 .5-3.4 .5 3 .5-1.2 .5 2.4 .5 .9 .5-2.6 .5-.1 .5 2.1 .5-2.1 .5 1.5 .5-.1 .5-2.3 .5 1.6 .5-.8 .5-.4 .5 .8 .5 .4 .5-3 .5 0 .5 4.5 .5-.8 .5 0 .5 .3 .5-2.3 .5 2.2 .5-.5 .5 0 .5-1.1 .5 1.5 .5-1.1 .5 2.2 .5-2.6 .5 1.4 .5-.6 .5-1.7 .5 .8 .5 .9 .5-1.3 .5-.4 .5 .6 .5 1.8 .5-2.9 .5 2 .5 .9 .5-1.8 .5 1.8 .5-.4 .5 .4 .5 .1 .5-1.5 .5 4.2 .5-4.1 .5-.5 .5-.2 .5 .8 .5 1.1 .5-1.4 .5-.9 .5-.8 .5 1.8 .5 2.2 .5-1.3 .5 1.5 .5-1.6 .5 .5 .5-.3 .5 .5 .5 1.8 .5-2.1 .5-2.2 .5 2.9 .5-.1 .5 .9 .5-1.5 .5-.5 .5 3.2 .5-2.7 .5 1.2 .5-4.2 .5 3.6 .5-.7 .5 2.7 .5-3.5 .5 1 .5 .8 .5-2.8 .5 2.3 .5 .3 .5-2 .5 2.3 .5-1.9 .5 1.9 .5 0 .5-3.3 .5 1.4 .5-.4 .5 .4" stroke="#000000" stroke-width="3.8"/>
<path d="M221 1117.1l.5 1 .5-.7 .5-1.5 .5 .8 .5 .4 .5-1.8 .5 2.1 .5 3.5 .5-2 .5-2.1 .5 .4 .5-2.1 .5 1.2 .5 3.3 .5-1.8 .5-1 .5-.2 .5 .8 .5 .7 .5-.1 .5-1.1 .5-2.9 .5 1.1 .5-1.2 .5-1.2 .5 .7 .5-1.9 .5-2.7 .5-5.5 .5-4.8 .5-3.4 .5-6.4 .5-.3 .5 .1 .5 2.6 .5 5.6 .5 4.2 .5 3.2 .5 6.3 .5 .7 .5 3.5 .5 1.1 .5 1.2 .5-2.5 .5 1.3 .5-.8 .5-.3 .5 3.2 .5 .3 .5-1.7 .5 1 .5-2.4 .5 .3 .5 .9 .5 2.8 .5 .4 .5-3.4 .5 .1 .5 1.5 .5-.4 .5 .7 .5-1.1 .5 .7 .5 .7 .5-.2 .5-1 .5 1.2 .5-2.6 .5 1.4 .5-1.8 .5-.1 .5 1.1 .5 .4 .5-.9 .5 1.6 .5 .3 .5-.2 .5 .2 .5-2.2 .5 1.1 .5 1.4 .5-1.2 .5 .6 .5-.7 .5-1.1 .5 2.5 .5-2.5 .5 .2 .5 .2 .5 .4 .5 .1 .5 .2 .5-.2 .5 2.1 .5-2.6 .5-1.1 .5-2.1 .5 4.9 .5-1.4 .5 1.7 .5-2.6 .5 .7 .5-.8 .5 3.4 .5-1.3 .5-1.3 .5-1.6 .5 1.5 .5 1.5 .5 .6 .5-1.8 .5 1.3 .5 1.3 .5-3.9 .5 1.7 .5-.8 .5 1.2 .5 .8 .5-.9 .5 1.6 .5 1.9 .5-4.4 .5 2.4 .5-1.6 .5 1.2 .5-2.8 .5 3 .5-.9 .5-2.5 .5 2.5 .5-1 .5 1.1 .5 .4 .5-.5 .5-.7 .5 1.5 .5 .3 .5-2.1 .5 .5 .5 .9 .5-1.8 .5-2.3 .5 3.8 .5 1 .5-3.1 .5 2.3 .5 .1 .5-2 .5 3.1 .5-1.8 .5-.1 .5-.9 .5-.1 .5 1.6 .5-.6 .5 2.1 .5-1.8 .5-1.4 .5 1.8 .5-1.9 .5-.5 .5-.1 .5 1.5 .5-.3 .5-1.8 .5 2.8 .5-1 .5 0 .5 .1 .5 1.5 .5 .8 .5-.7 .5-1.2 .5 1.8 .5-.8 .5-.7 .5-2.2 .5 1.2 .5 2.3 .5-2.9 .5 .6 .5-1.9 .5 2.4 .5-1.6 .5 4.2 .5-1.6 .5 .6 .5 1.4 .5-3.3 .5 3.1 .5-1.6 .5-1.3 .5 .7 .5-.3 .5 1.9 .5-2 .5 2.6 .5-2.4 .5 .7 .5-1.1 .5 .5 .5 1.3 .5-1.1 .5 0 .5-2.5 .5 .5 .5 0 .5 3.5 .5-1.9 .5-.3 .5 1.4 .5-1.3 .5-.9 .5 2.3 .5-.1 .5 1 .5-4 .5 1 .5 1.2 .5-.6 .5 1.1 .5-1.3 .5 .5 .5-.4 .5 1.7 .5-.5 .5-.2 .5-1.5 .5-.3 .5 2.6 .5-1.6 .5 2.1 .5-.9 .5-.2 .5-2.6 .5 2.1 .5-1.2 .5 .2 .5 0 .5-1.5 .5 1.3 .5 2.4 .5-1.4 .5 .2 .5-.2 .5 1 .5 .7 .5-.6 .5-.3 .5 3.1 .5-.5 .5-3 .5 .3 .5 .9 .5 .2 .5 .1 .5 .9 .5-1.7 .5-.6 .5 .3 .5-1.6 .5 2.4 .5-3.2 .5 4.1 .5-2.2 .5 .4 .5 .7 .5 .2 .5 0 .5-.7 .5-2.3 .5 1.9 .5 2.4 .5-.4 .5 .1 .5-2.5 .5 0 .5 .2 .5-1.5 .5 2.4 .5 1 .5-.5 .5-1.4 .5 2.3 .5-1.9 .5-.6 .5-1.1 .5 .8 .5-1.7 .5 .7 .5 .5 .5 2.4 .5-1.4 .5 1 .5-1.2 .5 1.7 .5-3.1 .5 .8 .5 1 .5 .5 .5 .8 .5-.8 .5-2.4 .5 1.7 .5 1.3 .5-.6 .5-1 .5-.8 .5 2.2 .5 .2 .5-.1 .5 .4 .5-1.7 .5 1.8 .5-1.4 .5-.3 .5-.9 .5 1.2 .5 .1 .5-.2 .5-2.1 .5 .9 .5-1.7 .5 3.4 .5-3.8 .5 2.1 .5-1.4 .5 .3 .5 2.1 .5-.4 .5 2.9 .5-2.4 .5-.6 .5 2.1 .5-3.5 .5 0 .5 2.4 .5 .7 .5-2.8 .5 2.1 .5-2.3 .5 .5 .5 2.5 .5-6.2 .5 4.8 .5-.4 .5 2.4 .5-.4 .5-3.3 .5-.4 .5 .2 .5 .3 .5 .9 .5-.8 .5 .3 .5 2 .5-.1 .5 .8 .5-1 .5-.9 .5 .4 .5 1.9 .5-.5 .5-.8 .5-.8 .5-2 .5 2.4 .5-1.4 .5 2.1 .5-2.3 .5-.5 .5 0 .5 2.1 .5 .3 .5-.3 .5 2.1 .5-2 .5-2.4 .5 2 .5 1.3 .5 .6 .5-2.5 .5-.4 .5 1.6 .5 .5 .5 0 .5 1.3 .5 2 .5-2.2 .5-3.8 .5-.2 .5 2.4 .5-2.9 .5 1.4 .5 .9 .5 .9 .5-.8 .5-.7 .5-.2 .5 .6 .5-1.2 .5 .2 .5-1.9 .5 4.6 .5-3 .5 1.1 .5-.1 .5 .3 .5-1.4 .5 2.9 .5-.6 .5-1.2 .5-.9 .5 3.2 .5-.8 .5 .5 .5-.1 .5 .3 .5-1.3 .5-.9 .5 .9 .5 2 .5-.5 .5-4 .5 2.1 .5 0 .5-1.5 .5 2.2 .5 .8 .5 0 .5-2.3 .5 0 .5 1.2 .5-.1 .5 .4 .5-1.3 .5 1.3 .5 0 .5-2.2 .5 1 .5 2.1 .5 .7 .5-1.6 .5-1.8 .5-.1 .5-2.1 .5 .4 .5 .8 .5-2.3 .5 .8 .5-.4 .5-2.6 .5-2.7 .5 .8 .5 1.3 .5-1.2 .5 2.8 .5-5.4 .5 1.2 .5 .1 .5 1.5 .5 1.1 .5-.2 .5 0 .5 3.9 .5 1 .5-2.1 .5 1.2 .5 1.5 .5 2.1 .5-2.4 .5-.1 .5 1.8 .5-.9 .5 1.6 .5-.2 .5-.9 .5-1.3 .5 2.6 .5-1.6 .5 .5 .5-1.8 .5 0 .5 .4 .5-.7 .5 .2 .5 .8 .5 4.3 .5-2.5 .5-.9 .5 2 .5-2.4 .5 .7 .5 1 .5 .3 .5-1.3 .5 .8 .5-.3 .5 .3 .5-1.5 .5 1.5 .5 2.3 .5-.8 .5-2 .5 2.5 .5-1.1 .5-1.3 .5 2.9 .5-2.3 .5-1 .5 2.3 .5 .8 .5 .2 .5-2 .5-.1 .5 .2 .5 1 .5-1.8 .5 2 .5-2.2 .5 3 .5-1.9 .5-.2 .5 1.4 .5-1.1 .5-1.2 .5 .9 .5-.5 .5 2.3 .5-1.3 .5 .6 .5 1.2 .5-1.5 .5 .2 .5-.9 .5-.9 .5 .5 .5 .4 .5-3.4 .5 .9 .5 0 .5 .2 .5 1.8 .5 2.1 .5-3.4 .5 1.4 .5-5.4 .5 3 .5 .7 .5 1.2 .5-.3 .5 .4 .5 .4 .5 0 .5-1.3 .5-.6 .5-.1 .5-.3 .5 2.5 .5 1.2 .5-2.7 .5 0 .5 1.6 .5 0 .5-.6 .5 .2 .5-.6 .5 1.7 .5-.3 .5-.2 .5 .7 .5-1.3 .5-1.7 .5 1 .5 2.9 .5-2.7 .5 .3 .5-.5 .5 1.5 .5-2 .5 2.2 .5-.3 .5-.1 .5-2.9 .5 2.3 .5 1 .5-1.2 .5 0 .5-.9 .5 .4 .5-2.2 .5-.5 .5 5.4 .5-3.1 .5-.5 .5 1.1 .5 1 .5-.9 .5 1.1 .5-.8 .5-2.3 .5 3.8 .5 1.1 .5-3 .5 1.4 .5-2.3 .5 .8 .5 .9 .5-.7 .5-2.1 .5 1.8 .5 1 .5-2.5 .5 .2 .5 1.6 .5 0 .5-.3 .5 3 .5-4.7 .5 2.3 .5 .8 .5-1.6 .5 1.5 .5 .5 .5-3.3 .5 3.5 .5-2.1 .5 1.2 .5-1.2 .5 1.3 .5-.3 .5-.7 .5 1.9 .5-1.3 .5 .4 .5-.9 .5-.1 .5 1.6 .5-.1 .5 3.5 .5-4.5 .5 .9 .5 .7 .5-1.8 .5-2 .5 1.5 .5 3.3 .5-.7 .5-2.7 .5 .6 .5 4.3 .5-2.4 .5-1.2 .5-.1 .5-1 .5 2.1 .5-.8 .5 1.9 .5-2.3 .5-2.9 .5 2.5 .5-1.6 .5 .3 .5 1.9 .5 0 .5 .3 .5 1 .5-1.3 .5 .4 .5-1.4 .5 1.4 .5-2.8 .5 2.5 .5-.3 .5 .1 .5 2.7 .5-3.1 .5-.4 .5-.7 .5 0 .5 1 .5 .7 .5 1.2 .5-2.3 .5 .7 .5-1.5 .5 2.7 .5-1.3 .5-.4 .5 1.9 .5-1.9 .5 1.2 .5-.4 .5-.3 .5 1.5 .5-1 .5-1 .5-1.7 .5 1 .5 2 .5-1.3 .5-.9 .5 3.6 .5-1.9 .5-2.7 .5 3.2 .5 1 .5-2.6 .5-1 .5 4.5 .5 .2 .5-2.7 .5-1.3 .5 2.6 .5-.6 .5-2.5 .5 3 .5-2.2 .5 .2 .5-1.2 .5 0 .5-.2 .5-.2 .5-1.1 .5 .8 .5-2.4 .5 .6 .5-1.4 .5 1.8 .5 .5 .5-2 .5 2.7 .5-4.7 .5-1 .5 3.4 .5-2.9 .5 5.9 .5-4 .5 1.3 .5 .9 .5-.1 .5 2.1 .5-2.7 .5 3 .5-.9 .5-.9 .5 1 .5 2.9 .5-1.6 .5 1.8 .5-2.2 .5 1.3 .5-2.9 .5 2.7 .5 1.6 .5 .3 .5-2.7 .5 1.1 .5-.5 .5 1.6 .5-2.6 .5 .1 .5 .9 .5 .9 .5 0 .5 1.9 .5-2.3 .5 1 .5-1.7 .5-1 .5 0 .5-.3 .5 2.2 .5-1.2 .5 1.4 .5-1.3 .5 1.4 .5 1.7 .5-1.2 .5-2.1 .5 .7 .5 1.4 .5 1.2 .5-.6 .5-1.6 .5 .5 .5-1.3 .5 1.3 .5 .5 .5-4.3 .5 1.6 .5 1.1 .5-1.1 .5 1.6 .5-.9 .5 1.9 .5-2.2 .5 3.8 .5-3 .5 2.3 .5-3.3 .5 2.2 .5 .1 .5 .5 .5-.2 .5-.9 .5 .2 .5-.2 .5 1 .5-.5 .5-1.1 .5-.7 .5 1.7 .5-.1 .5-.6 .5 1.6 .5-.8 .5-1.2 .5-2.9 .5 1.4 .5 1.5 .5 1.1 .5 .7 .5-2.1 .5 2.5 .5-2.3 .5 1.4 .5-3.8 .5-1.2 .5 2.8 .5-.2 .5 1.7 .5-.2 .5-2.4 .5 0 .5 1.8 .5 1.1 .5-1.1 .5 1.9 .5-.9 .5 1.1 .5-1.8 .5 .4 .5 .9 .5-.7 .5-2.1 .5 3.2 .5-5.2 .5 3.3 .5 2 .5-1.2 .5-.5 .5-.2 .5-3.1 .5-.1 .5 3.4 .5 0 .5-1.3 .5-.9 .5-2.4 .5 3.8 .5-2.9 .5-1.2 .5 .5 .5-.4 .5-3.2 .5 2.8 .5-2.1 .5-2.2 .5 2.2 .5-1.2 .5-2.8 .5-.3 .5 0 .5 2.2 .5-4.9 .5 4.1 .5-1.4 .5 .8 .5-.1 .5 .4 .5 3.8 .5-.3 .5-.2 .5-1.2 .5-.4 .5 1 .5-1.7 .5 .6 .5 1.6 .5-1.8 .5-2.5 .5-2.8 .5-4.1 .5-3.3 .5-5 .5-9 .5-6.3 .5-17.9 .5-24.1 .5-33.1 .5-33.3 .5-34.9 .5-26.6 .5-11.9 .5 10 .5 28.3 .5 33.2 .5 34.9 .5 30.4 .5 24.1 .5 19.3 .5 11.1 .5 7.1 .5 7.5 .5 2.1 .5 1 .5 4.8 .5 .5 .5 1.1 .5 .3 .5 1.7 .5-2.7 .5 .9 .5 4.7 .5 .7 .5-.5 .5-1.8 .5 .9 .5 2.6 .5 1.9 .5-.2 .5 1.2 .5 .2 .5-3.9 .5 .4 .5 .3 .5 .4 .5 .9 .5-1 .5-.2 .5 .4 .5-1 .5 1.3 .5-1.1 .5 .4 .5 1.2 .5-1.4 .5 3.2 .5-3 .5-.3 .5 1.5 .5 1.2 .5-1.8 .5 .3 .5-1.5 .5 1.9 .5-1.8 .5 1.7 .5-.6 .5-.5 .5 2.6 .5-.7 .5-1.1 .5-.5 .5 .7 .5-1.9 .5 3.5 .5-.4 .5-3.4 .5 .3 .5 1 .5 .8 .5 .9 .5-1.6 .5 2.5 .5-.3 .5-1.6 .5-.8 .5 .5 .5 1.4 .5-1 .5 1 .5-1.8 .5 2 .5 .4 .5-1.1 .5 .1 .5 1.7 .5-.8 .5 0 .5-.6 .5 .6 .5-1.2 .5 .1 .5-1.4 .5-.5 .5 3.2 .5-1.3 .5-.3 .5-.5 .5-1.1 .5 1.1 .5 .1 .5 2.3 .5-1.4 .5-1 .5-.3 .5 1 .5-.6 .5-.7 .5 3.5 .5-1.8 .5-.5 .5-1.1 .5-1.2 .5 4.9 .5-2.9 .5-.5 .5 2.3 .5-.4 .5 .3 .5 0 .5-1.9 .5 1.8 .5-.3 .5 2 .5-3.4 .5 4 .5-2.8 .5-.1 .5 1.9 .5-1.3 .5-.1 .5-.8 .5 2.3 .5-2.3 .5 .7 .5-1.8 .5 1.1 .5 3.3 .5-.8 .5-4.8 .5 1.7 .5 .8 .5 .4 .5-2.3 .5 4.6 .5-2.9 .5 1.3 .5-1.1 .5 .7 .5-1 .5-.2 .5-1.1 .5 2.8 .5-2.3 .5 2 .5-1.4 .5-.2 .5-2.1 .5 1.8 .5 2.4 .5-1.9 .5 0 .5-.7 .5 .2 .5-1.8 .5-.6 .5 1.2 .5-1.7 .5 2.2 .5-2.3 .5-6.9 .5 3.6 .5-3.5 .5-3.8 .5 .4 .5 0 .5-2.2 .5-.2 .5-.6 .5-.9 .5-1.1 .5-.8 .5 3.2 .5 3 .5 .1 .5 3 .5 .6 .5 2 .5-1.1 .5 1.7 .5 .9 .5 3.1 .5 .3 .5 1 .5 1.8 .5 2.2 .5-2.3 .5 .3 .5 .8 .5-2.4 .5-.9 .5 .6 .5 2.6 .5-1.1 .5 3.7 .5-5.7 .5 3.7 .5-1.6 .5-.8 .5 2.7 .5 .6 .5-3.6 .5-3.3 .5 2.9 .5 1.5 .5-2.1 .5 3.4 .5-1.2 .5 .2 .5-.2 .5 1.7 .5 1.3 .5-1.5 .5 0 .5 .2 .5-3.8 .5 1.4 .5 .2 .5 .5 .5-1.1 .5 .6 .5 1.5 .5-2.7 .5 1.3 .5-.4 .5 1.3 .5 .3 .5 1.1 .5-.9 .5 .8 .5-1.2 .5 .4 .5-.8 .5 .8 .5 .5 .5-3.3 .5 1.8 .5 2.5 .5-.1 .5-2 .5-.7 .5-1.5 .5 2.4 .5 .2 .5-.5 .5 2.2 .5 0 .5-.9 .5-1.2 .5-1 .5 1.8 .5-.2 .5-.3 .5 .2 .5 .1 .5-2.3 .5 1.7 .5 .2 .5-.9 .5 .4 .5-.4 .5-3.8 .5 2 .5 .8 .5-1.3 .5-.4 .5 3.4 .5-.4 .5-1.7 .5 0 .5-.1 .5 1.8 .5-2.2 .5 1.7 .5 0 .5-.8 .5-3.4 .5 2.9 .5-1.4 .5-.2 .5 1.2 .5-.3 .5 1.6 .5-2.8 .5 .7 .5-5.1 .5 1 .5-.6 .5-4.9 .5-3.7 .5-10.4 .5-9.3 .5-16 .5-20.3 .5-21.4 .5-18.1 .5-10.6 .5 .9 .5 15.3 .5 19.9 .5 17.6 .5 19.8 .5 13.8 .5 10.6 .5 9.5 .5 4.6 .5 .8 .5 .6 .5 2.8 .5 0 .5 2.7 .5 .4 .5-.6 .5 .6 .5 .7 .5-.1 .5 .4 .5 .1 .5 1.5 .5-2.7 .5 4.1 .5-1.8 .5 .4 .5 .5 .5-2.8 .5 1.9 .5-.6 .5 1.8 .5-1.5 .5 2.6 .5-2.5 .5-1.3 .5 3.3 .5-2 .5 .9 .5-1.7 .5 1.8 .5-.1 .5 .6 .5 .8 .5-.7 .5 1.7 .5-1.1 .5 1 .5-2.7 .5 .6 .5 1.2 .5-2.9 .5 3 .5-.1 .5-1.5 .5 2.3 .5 1.9 .5-2.8 .5-2.4 .5 .1 .5 1.2 .5-1.1 .5 .7 .5 1 .5 1.5 .5-1.3 .5 .7 .5-1.6 .5 .4 .5-2.6 .5 1.9 .5-4.4 .5 2.9 .5-.8 .5-.3 .5-1.5 .5 1.7 .5-5 .5-2 .5 1.8 .5-8.2 .5 2.8 .5-2.2 .5-3 .5-2.2 .5 .6 .5-1.1 .5-.5 .5 1 .5-.4 .5 2 .5 4 .5 2.2 .5-.3 .5 .9 .5 2.1 .5 3.2 .5 1.1 .5 1.8 .5 1.2 .5-1.6 .5 1 .5 4.1 .5 0 .5-1.5 .5 2.1 .5-2.9 .5-.4 .5 .2 .5 0 .5-1.1 .5-.2 .5 1 .5-2.7 .5-3.1 .5 1.2 .5-2.8 .5-.8 .5 .5 .5-1.1 .5-.2 .5 1.3 .5 1.9 .5 1 .5-.6 .5-2 .5 3.9 .5-3.7 .5-2.5 .5 .2 .5-1.7 .5-.2 .5-1.4 .5-.1 .5-1.7 .5 .7 .5-1.5 .5 1 .5 1.2 .5 .5 .5 1.6 .5 2.3 .5-.2 .5 2.3 .5-1.2 .5 2 .5 2.8 .5-.4 .5 1.5 .5 1.4 .5 1.6 .5-.3 .5 .1 .5 3.2 .5-1 .5 0 .5-1.5 .5-1.4 .5 3.2 .5-2.9 .5 1.7 .5 0 .5 .9 .5-.5 .5 .9 .5-3 .5 1.9 .5 .8 .5-1.1 .5 .8 .5-.8 .5-2.3 .5 3.7 .5 .3 .5-.1 .5-.1 .5 1.7 .5-2.4 .5-1.9 .5 3.4 .5-1.4 .5 2.6 .5-2.5 .5 1.1 .5-.8 .5-.8 .5 3.1 .5 .9 .5-2.4 .5 .7 .5-.9 .5-1.4 .5 1.9 .5-1.1 .5 .8 .5-1.1 .5 1.5 .5 .6 .5-2.9 .5-.8 .5 1.5 .5 .1 .5-1.5 .5 1.1 .5 .4 .5-.1 .5 1.5 .5-2.6 .5 .9 .5-.9 .5 .7 .5 1.5 .5-1.9 .5 .6 .5-1.3 .5 1.7 .5-1.7 .5 5.3 .5-1.9 .5 1.8 .5-4.3 .5 2.8 .5-.6 .5-2.6 .5 2.2 .5 .9 .5-.2 .5 .6 .5-3.1 .5 .6 .5-.1 .5-.5 .5 2.5 .5-3 .5 2.3 .5-.9 .5 1.3 .5-.3 .5 1.7 .5-2.5 .5-.1 .5 2.6 .5 0 .5-3.2 .5-1.1 .5 4 .5-3.6 .5 2.3 .5-1.4 .5 1.5 .5-.5 .5 1.6 .5-2.1 .5-.6 .5-.3 .5 2.5 .5-2.3 .5 .5 .5 .7 .5-1.4 .5-1.1 .5 4.5 .5-3.1 .5 1.3 .5-1.4 .5 1.6 .5-.8 .5-.6 .5 1 .5 2.5 .5-3.6 .5-.2 .5-1.6 .5 2.2 .5-1.7 .5 3.2 .5-.9 .5 .5 .5 .9 .5-3.9 .5 .2 .5 4.4 .5-.9 .5-1.7 .5-2.2 .5 2.8 .5 .4 .5 1 .5-.8 .5-2.3 .5 1.4 .5 1.1 .5 .3 .5 .9 .5-3.9 .5 2.5 .5-1.8 .5 1.4 .5 .7 .5 .3 .5-2.5 .5-1.2 .5 .2 .5 .5 .5 1.1 .5-1.6 .5 .6 .5 .6 .5 2.3 .5-2.7 .5-.9 .5 2.3 .5 0 .5 1.2 .5-3.5 .5 3.8 .5-1.7 .5-.8 .5-1.3 .5 .3 .5 2.6 .5 .3 .5-1.7 .5 1.3 .5-.6 .5-.2 .5 1 .5-.1 .5-3.6 .5 2.6 .5-2 .5 1.9 .5-3.1 .5 4.2 .5 .8 .5-3.9 .5 2.8 .5-3.2 .5 .4 .5 2.4 .5-2.3 .5 2.1 .5-1.7 .5 4.1 .5-3.8 .5 .3 .5 0 .5 .3 .5 .4 .5-1.9 .5 .3 .5-.1 .5 1.8 .5-1.6 .5 2.1 .5 .5 .5 .1 .5 .1 .5 .2 .5-1.1 .5 .1 .5 .6 .5 0 .5 .4 .5-2.1 .5 1.7 .5-.1 .5-2.3 .5-.2 .5 0 .5-1.5 .5 5.8 .5-3 .5-2 .5 2.1 .5-.2 .5-.3 .5-.3 .5 0 .5 .2 .5-1.2 .5 4.3 .5-3.4 .5 2.4 .5-2.5 .5 .8 .5-.5 .5 .5 .5 1.4 .5-.3 .5 .1 .5 .4 .5 1.6 .5-.5 .5-2.4 .5 .8 .5-2.7 .5 4.5 .5-2.3 .5-.9 .5-.5 .5 1.5 .5-.5 .5-1.4 .5 1.9 .5-1.7 .5 3.9 .5 .7 .5-2.9 .5-.5 .5-1.3 .5 2.6 .5 .8 .5 .6 .5 1 .5-4.4 .5 2.3 .5-.1 .5-1.4 .5-.8 .5 2.3 .5-.6 .5-2.4 .5 2.8 .5-.7 .5 .3 .5-1.4 .5 1.9 .5-.2 .5 1.5 .5-1.9 .5 .2 .5-.2 .5-.5 .5 1.4 .5-1.4 .5-1.1 .5 1.6 .5 .3 .5 .3 .5 .4 .5 .5 .5-1.2 .5-.4 .5 0 .5-1.7 .5 .4 .5 1 .5-.5 .5 2.3 .5-2.9 .5 3.1 .5-.3 .5-2.4 .5 3.7 .5-1.2 .5-1.4 .5-2.2 .5 .7 .5 1.4 .5-.3 .5 1.1 .5-1.5 .5 2.2 .5-3.3 .5 1.9 .5-2 .5-.4 .5 .1 .5 2.3 .5 .3 .5 1.6 .5-.6 .5-.2 .5-.1 .5 .8 .5-3.9 .5 .6 .5 .1 .5 1 .5 .5 .5 .3 .5-1.9 .5-.2 .5 1.8 .5 2.5 .5-3.1 .5-1.1 .5 1.2 .5-.6 .5 3 .5-.8 .5-3 .5 1.6 .5-2.5 .5 2.3 .5-2.1 .5-1.6 .5 3.6 .5-2.8 .5 .1 .5 2.2 .5-2.8 .5 1.5 .5 .7 .5 1.2 .5 .1 .5 2.1 .5-1.9 .5 1 .5-3.6 .5 .3 .5 .2 .5 2.1 .5 .6 .5-1.2 .5 .9 .5 .9 .5-2.1 .5-.5 .5 .6 .5 0 .5 .4 .5 .4 .5-.5 .5 .5 .5 2.3 .5-1.6 .5 .7 .5 1.3 .5-4.3 .5 2.4 .5-1.5 .5 1.2 .5-1.7 .5-1 .5 3.9 .5-2.6 .5-.1 .5 1.7 .5-2.3 .5-1.4 .5 3.1 .5-.5 .5-1.1 .5 1.3 .5 .5 .5-3.3 .5 1.1 .5 2.4 .5-1.7 .5 1.2 .5-1.5 .5 1.9 .5-2 .5-.5 .5 .4 .5 .5 .5 .1 .5 .5 .5-2.9 .5 1.7 .5-2.2 .5 .9 .5 1.9 .5-3.8 .5 .3 .5 .8 .5-.7 .5 .1 .5-1.2 .5 2.1 .5-.8 .5 1.2 .5-4.6 .5 5.2 .5-5.4 .5 1.5 .5-1.6 .5 .9 .5 .2 .5 1.9 .5 .9 .5 .6 .5 1.8 .5-.4 .5-.6 .5 .4 .5-1.1 .5 3.1 .5-2 .5 1 .5 1.7 .5-2.4 .5 2.1 .5-1.5 .5 2.4 .5-1.2 .5 .8 .5-1.7 .5 .3 .5 .3 .5-.9 .5 1.4 .5 1.3 .5-2 .5 1.5 .5-.2 .5 .8 .5-1.2 .5-2 .5 2.3 .5-2.3 .5 1.1 .5 1 .5-1.7 .5-.7 .5 4.3 .5-3.3 .5-2.4 .5 3 .5 0 .5 .1 .5 .4 .5-.4 .5 .1 .5-1.3 .5 .5 .5-1.5 .5 3.9 .5-1.4 .5 .1 .5-1.6 .5 .1 .5 2.1 .5-3.8 .5 3 .5 2.4 .5-1.9 .5 1.4 .5-3.1 .5-.7 .5 2.3 .5 1 .5-1.6 .5-1 .5 1.7 .5-.4 .5 1.6 .5-1.7 .5 .1 .5-2.2 .5 2.3 .5-.5 .5-1.5 .5-.5 .5 2.5 .5-.1 .5 .7 .5-.8 .5 .8 .5 .4 .5 2.3 .5-2.3 .5-1.5 .5 .3 .5 1.2 .5 1.4 .5-4.3 .5 1.2 .5-.8 .5 1.2 .5 4 .5-3 .5-1.2 .5 1 .5 .6 .5 .4 .5-2.5 .5 1.6 .5 3.3 .5-3.1 .5 .7 .5 .1 .5 .4 .5-5.8 .5 2.6 .5 .7 .5 .6 .5 2.9 .5-1.8 .5-1.4 .5-2.1 .5 2.8 .5-3.2 .5 2.5 .5 2.1 .5-3.2 .5 1.2 .5-1.1 .5 1.4 .5-.4 .5 .3 .5 2 .5-2.2 .5-.4 .5 1.5 .5-.9 .5 0 .5-1.6 .5 1.5 .5-1.1 .5-1.1 .5-1.8 .5 .4 .5 .8 .5-.5 .5 1.7 .5 0 .5 .2 .5-1.7 .5-2.5 .5 2 .5-1.3 .5 1.2 .5-1.6 .5 .7 .5-1.6 .5 2.6 .5-.1 .5-3.9 .5 3.7 .5-.2 .5-.2 .5-1.5 .5 .1 .5 .1 .5 .3 .5 .1 .5-1.8 .5 1.9 .5-.8 .5-.4 .5-.9 .5 1.7 .5 1 .5-1.6 .5-1 .5 1.2 .5 .8 .5 .9 .5 1.7 .5-.3 .5 .1 .5-1.2 .5 2.8 .5-1.5 .5 1.9 .5 .7 .5-.4 .5 .2 .5-.8 .5 0 .5-1.8 .5 1.8 .5 0 .5-.1 .5-2 .5 4 .5-2.1 .5 1.8 .5-3.1 .5 1.6 .5-.4 .5 3.1 .5-3.4 .5 1.8 .5 1.5 .5-2.6 .5 .3 .5 1.1 .5 1.1 .5-1.8 .5-1.3 .5 1.2 .5-3 .5 3.6 .5 0 .5 .7 .5-.1 .5 .2 .5-1.4 .5 1.6 .5-1.7 .5 1 .5 1 .5-2.1 .5 1.3 .5-1 .5-1.2 .5 2.9 .5-2.2 .5 .7 .5 1.5 .5-2.4 .5 1.1 .5-1.2 .5 1 .5 .9 .5-.9 .5-3.1 .5 2.3 .5 1.1 .5 1.4 .5-.5 .5-1.3 .5-1.8 .5 .6 .5 .3 .5 .2 .5 2.5 .5-.3 .5-3.9 .5 2.1 .5 .2 .5-1.1 .5-.5 .5 .1 .5 1.1 .5-.7 .5-.2 .5-1.4 .5 .3 .5 .3 .5-.3 .5 .7 .5 .9 .5 1 .5-2.2 .5 1.2 .5 1.5 .5-1.2 .5 .2 .5-2.4 .5 1.8 .5 1.7 .5-2 .5 .4 .5 .8 .5-1 .5-1.4 .5 3.7 .5-2.7 .5 2.2 .5 1.1 .5-2.7 .5-.2 .5 1.5 .5-1.5 .5-.5 .5 .4 .5 1.2 .5 1.3 .5 1.1 .5-2.9 .5 1.6 .5 .5 .5-.9 .5 2.9 .5-5.3 .5 1.5 .5 1.7 .5-1.7 .5 1.2 .5-.2 .5 3.5 .5-.7 .5-2.9 .5 1.1 .5-1.1 .5 2.4 .5-4.5 .5 2.8 .5-3.9 .5 .7 .5 2.8 .5 0 .5-.9 .5-.6 .5-1.2 .5-.1 .5 1.4 .5-1.8 .5 3.5 .5 .4 .5-1.8 .5 1.2 .5-.2 .5 .3 .5-1.5 .5 .7 .5-1 .5-1.1 .5 .9 .5 1.8 .5 1.5 .5-3.7 .5 2.1 .5-.5 .5-1.4 .5 .1 .5 1.1 .5 2.2 .5-2.5 .5-1.2 .5 1.5 .5 0 .5-4 .5 3.5 .5 .9 .5-1.5 .5-2.5 .5-.3 .5 6 .5-2.8 .5-1 .5-1.3 .5 2.4 .5-.1 .5-4.5 .5 1.6 .5-2 .5 2 .5 0 .5 2.3 .5-.1 .5-4 .5-1.2 .5 4.2 .5 .8 .5-2.3 .5 1.5 .5-1.5 .5 1.4 .5 .4 .5-2.1 .5 1.4 .5 1.7 .5-2.4 .5 .6 .5 1.9 .5-.7 .5 .8 .5-.3 .5-.5 .5 3.2 .5 0 .5-3.4 .5-1.2 .5-.1 .5 3.6 .5 .4 .5-.2 .5-1.8 .5 .3 .5-.5 .5-.6 .5-.9 .5 3.8 .5-3 .5 1.2 .5 2 .5 0 .5-.9 .5-1.1 .5 .3 .5 .3 .5-.1 .5-.9 .5-1.7 .5 2.1 .5-1.6 .5-1.9 .5 .8 .5-2.2 .5-1.6 .5-1.6 .5 .7 .5-3.9 .5-3.7 .5-4 .5-6.2 .5-7.8 .5-7 .5-2.5 .5-9.1 .5 .2 .5 .5 .5 7.4 .5 3.8 .5 3.3 .5 7.4 .5-.3 .5 8.1 .5-.9 .5-.7 .5 2.3 .5-1.1 .5-1.3 .5 1.9 .5 4.2 .5 2.9 .5 3.3 .5 2.5 .5 3.4 .5-2.6 .5 3.5 .5 1.3 .5 2.4 .5-1.6 .5 1.5 .5-.6 .5 1 .5 .8 .5-1.5 .5 1.1 .5 .5 .5-.8 .5 .7 .5-1 .5 2.3 .5-4 .5 2.7 .5-1.9 .5-1.8 .5 2.4 .5 1.7 .5-1.8 .5 .8 .5 1.4 .5-1.3 .5 .8 .5-.9 .5 1.3 .5-1 .5 .1 .5 2.9 .5-1.3 .5-2.9 .5 1.5 .5 .4 .5-.9 .5 2.8 .5-1.1 .5 .6 .5-2.5 .5-.2 .5 1.4 .5-1.8 .5 1 .5-.8 .5 .5 .5 1.5 .5-2 .5 2.9 .5-1.8 .5 .1 .5-1.5 .5-1.8 .5 .3 .5 2.9 .5-2.5 .5 3 .5-2.7 .5 2.3 .5-1.5 .5 .5 .5 .3 .5-.2 .5 2.5 .5-1.2 .5-1.2 .5 2 .5 .3 .5-.3 .5-2.2 .5 .3 .5-2.5 .5 4.1 .5 1.4 .5-3.9 .5 .1 .5 2.5 .5 .7 .5 .4 .5 .5 .5-5.3 .5 .1 .5 1.3 .5 1.5 .5-1.5 .5-.8 .5 2.1 .5-.7 .5 1.3 .5 .1 .5-.9 .5-1.1 .5 2.2 .5-1.7 .5 1.1 .5-.5 .5 2 .5-1.4 .5-.4 .5 1.4 .5-.6 .5 2.3 .5-3.7 .5-.6 .5 .2 .5 .6 .5-2.3 .5 1.1 .5-1.1 .5 3 .5 .3 .5 1.5 .5 .3 .5 1.2 .5-1.5 .5-2 .5 1.6 .5-1.2 .5 .2 .5-1.9 .5 1.2 .5 1.2 .5-1.6 .5 .1 .5-.7 .5 1.1 .5 1 .5-2.5 .5 .9 .5 1.6 .5 0 .5 1.5 .5-3.3 .5-.5 .5 2.7 .5 0 .5-1.6 .5-.5 .5-1.2 .5 2.5 .5-1.1 .5 1.1 .5 .7 .5 .7 .5-2.3 .5-1.6 .5 1.9 .5-.3 .5-.2 .5-2.2 .5 1.8 .5 1.4 .5 .1 .5-.4 .5 .6 .5-2.9 .5 1.9 .5-.5 .5-.2 .5 1.1 .5-2.8 .5 2.8 .5-1.6 .5 1.3 .5-2.3 .5 3.8 .5-1.9 .5-2.9 .5 3.7 .5-2.8 .5 .6 .5 .7 .5-1.3 .5 2.3 .5-1.1 .5-.4 .5 1.2 .5 .2 .5-.7 .5-.6 .5-1 .5 1.5 .5-.6 .5-2.7 .5 3 .5-1.4 .5 .1 .5-.7 .5 .2 .5 .3 .5 .1 .5-1.7 .5 3.5 .5-.6 .5-2.1 .5 2.4 .5-1.7 .5-.8 .5-1.3 .5 .7 .5 1.3 .5-.1 .5 .1 .5 1.2 .5-.1 .5 1.1 .5 .2 .5-.8 .5 .3 .5-.7 .5 1.4 .5-1 .5 .9 .5-1.5 .5-.2 .5 2 .5-.4 .5-.1 .5 2.1 .5-2.6 .5 2.8 .5-2.9 .5-.3 .5 .7 .5-.1 .5 2.6 .5 .5 .5 .7 .5-.7 .5-1.5 .5-.8 .5-1.1 .5 .2 .5 3.3 .5-.5 .5-2 .5 1 .5-1 .5 2.3 .5-1.4 .5-.8 .5 .3 .5 .3 .5 .6 .5-1 .5-1 .5 1.6 .5-3.5 .5 2.6 .5-1.3 .5 2.7 .5-1 .5-.5 .5-.6 .5 .9 .5-1.6 .5 1 .5-.3 .5 .2 .5-1.1 .5 1.2 .5-.3 .5 2.7 .5-1.8 .5-.9 .5 .9 .5 .8 .5-4.2 .5 3.3 .5 .4 .5-1.7 .5-.1 .5 .3 .5 .8 .5-1 .5-1.6 .5-.7 .5 2.8 .5-1.5 .5 2.1 .5-1.4 .5-.1 .5 .1 .5-1.3 .5 .5 .5-.1 .5 .9 .5 1.9 .5 1.8 .5-4.2 .5 4.4 .5-4.2 .5 1.7 .5 .1 .5-3.8 .5 1.3 .5 .4 .5-.2 .5 2.3 .5 1.9 .5-3.8 .5 1 .5-.2 .5 .1 .5 .9 .5-1 .5 1.2 .5-.4 .5-2 .5 .1 .5 .4 .5 .4 .5-1.1 .5 .3 .5 .2 .5 1.9 .5-2.7 .5 1.4 .5-2.5 .5 1.1 .5 .4 .5-2.4 .5 1.7 .5-.2 .5 1.5 .5-.3 .5-1.4 .5-.1 .5 .8 .5-.3 .5-.2 .5 2.1 .5-3.1 .5 2.4 .5 2.2 .5-3.4 .5 .6 .5 .3 .5-.6 .5-.8 .5 3.4 .5-2.7 .5-.4 .5 .7 .5 .2 .5 4.5 .5-1.2 .5-.2 .5 .2 .5-2.9 .5 .4 .5 1.6 .5-2.2 .5 1.7 .5 1.8 .5-2.6 .5 2.6 .5-.6 .5-1.2 .5 1.1 .5 1.8 .5-1.3 .5 .7 .5-1.2 .5 .6 .5-2.5 .5 4 .5-4.4 .5 .5 .5-.8 .5 2 .5-.8 .5-.7 .5 5.3 .5-2.1 .5-3.1 .5 1.7 .5 1.8 .5-1.5 .5-.2 .5-.2 .5-1.9 .5 1.1 .5 0 .5 2.1 .5-.8 .5 3.3 .5-1.6 .5-3.1 .5 .7 .5 1.9 .5-2.5 .5 .2 .5-1.2 .5 3.1 .5-2.9 .5 4 .5-3 .5 3.1 .5-1.6 .5-2.9 .5 3.9 .5-2.9 .5 1.6 .5-1.1 .5-1.4 .5-1.4 .5 1.6 .5-.1 .5 1 .5 .9 .5-.1 .5-1.7 .5 3.6 .5-.7 .5-.8 .5 0 .5 1.1 .5-1.5 .5 .6 .5-1.6 .5 1 .5 0 .5-.3 .5-.8 .5 2 .5-1.3 .5 2.4 .5-3.5 .5 1.8 .5-2.5 .5 .7 .5-.8 .5 1.9 .5 1.4 .5 1.8 .5-1.2 .5 1 .5-3.7 .5-.5 .5-.4 .5-1.2 .5 2.4 .5 .1 .5-.1 .5-.5 .5 1.2 .5-.1 .5 3.7 .5-3.3 .5-.7 .5-.4 .5-.9 .5 2.7 .5-.6 .5-1.9 .5 2.1 .5-1.2 .5-1.1 .5 2 .5-.5 .5 .5 .5-.3 .5-.5 .5-1.1 .5 2.8 .5-.3 .5-.1 .5-.1 .5 2.1 .5-3.7 .5 3.3 .5 1.3 .5-2.6 .5-.1 .5-.8 .5-1.4 .5 .3 .5-1.4 .5 2.3 .5 .8 .5-1.5 .5-1.2 .5 3.6 .5-.9 .5 .6 .5-2.3 .5 .5 .5 .3 .5 0 .5 2 .5-4 .5 3.7 .5-.1 .5-2 .5 1.2 .5-1.5 .5-.8 .5 2 .5 1.6 .5-.5 .5-2.4 .5-.4 .5 1.3 .5 1.4 .5-2.6 .5 1.2 .5 2.2 .5-1.7 .5-1.5 .5 1.5 .5 .6 .5-1.7 .5 3 .5-3 .5 .1 .5 .4 .5 .3 .5 1.2 .5-1.4 .5 .6 .5 .4 .5 .2 .5-.8 .5 0 .5 .4 .5 .2 .5 .6 .5 .7 .5-1.8 .5-.2 .5 0 .5-1.7 .5 2.5 .5-1.8 .5 1.6 .5 .5 .5-2.4 .5 1.6 .5 0 .5-.4 .5-.6 .5 .9 .5-.6 .5 1.6 .5 .2 .5-1 .5 1.7 .5-1.6 .5 .1 .5 1.5 .5-2.2 .5-1.3 .5 .3 .5 .6 .5 1.1 .5-.8 .5 .2 .5 1.4 .5-2.7 .5-1.4 .5 1.8 .5-.3 .5 2.6 .5-1.6 .5 .4 .5-.3 .5-.6 .5-4.3 .5 2.9 .5 1.6 .5 2.1 .5-1.3 .5-.2 .5 .7 .5-1.7 .5 .6 .5 3.5 .5-3.8 .5-1.3 .5 1.2 .5-1.2 .5 1.8 .5-1.3 .5 1.6 .5-.5 .5-1 .5 .6 .5 .3 .5 .8 .5-1.7 .5 .7 .5 0 .5-2.2 .5 2 .5-.3 .5 1.7 .5-.9 .5-2.2 .5-.8 .5 0 .5 2.6 .5-1.2 .5-.1 .5 1.2 .5-2.2 .5-.6 .5 .6 .5-2.9 .5 .3 .5 .3 .5-.7 .5 0 .5-1.4 .5-4.5 .5-4.4 .5-4.7 .5-3.9 .5-11.3 .5-6.7 .5-5.6 .5-6.4 .5 .2 .5 2.1 .5 3.7 .5 3.2 .5 5.2 .5 7.5 .5 3.3 .5 2.3 .5 .4 .5 2.1 .5-1.4 .5-1.6 .5 2.9 .5 .3 .5 3.1 .5 2.6 .5 3.6 .5 1.5 .5 1.6 .5 3.7 .5 2.6 .5-1.2 .5 5.2 .5-2.5 .5 2.4 .5 0 .5 3.5 .5-1.7 .5 1.1 .5-.4 .5-.3 .5-4.1 .5 2.1 .5 1.3 .5-.4 .5-.2 .5 1.8 .5-1.9 .5 1 .5 .3 .5 .4 .5 1.2 .5-1.9 .5 1.4 .5-1.4 .5 .5 .5-.3 .5-.2 .5-.2 .5 1 .5 1.5 .5-.3 .5 0 .5-3.3 .5-2.4 .5 2.2 .5 2.1 .5-2 .5 3 .5-2.7 .5 1.6 .5-.1 .5-1 .5 1.4 .5 2 .5-3.2 .5-.8 .5-.1 .5 .7 .5-1.3 .5 1.3 .5 .9 .5-3 .5 6.5 .5-4.7 .5-1.6 .5 1.8 .5 2.3 .5-2.8 .5 3.9 .5-4.7 .5-.2 .5 2.3 .5 2 .5-3.8 .5 1.6 .5-.4 .5-1.9 .5 .8 .5 1.4 .5 .8 .5 .3 .5-2.1 .5 .8 .5-2.7 .5 4.1 .5-.8 .5 1.2 .5-2.6 .5 1.1 .5 1.6 .5-1.8 .5-.6 .5-.2 .5 .1 .5 1.8 .5 .8 .5-1.2 .5-1.3 .5-2.8 .5 3.7 .5-.6 .5 1.2 .5-3 .5 .3 .5-.5 .5 .5 .5 2 .5-1.7 .5-2.7 .5 .4 .5 1.9 .5-1 .5 .1 .5-.7 .5-2.4 .5 3.8 .5-.2 .5-1 .5-.4 .5 .1 .5 1.8 .5-1.9 .5-3.2 .5 5.2 .5 .3 .5-.9 .5 2 .5-3.9 .5 3.4 .5-1.9 .5 2.4 .5-.7 .5-.3 .5 .4 .5 .1 .5 1.9 .5-.8 .5-1.6 .5-.6 .5 0 .5 .9 .5-.7 .5 2.3 .5-.9 .5-1.4 .5 3.3 .5-3.2 .5 1.6 .5-.8 .5-2.1 .5 2.9 .5 .8 .5-1.2 .5 .8 .5-.6 .5-.8 .5 .2 .5 .7 .5 0 .5-.1 .5-2.4 .5 3.3 .5-1.3 .5-.2 .5 1.2 .5-1.2 .5 .2 .5-1.7 .5 .9 .5 .3 .5-.1 .5-.9 .5 1.1 .5-1.4 .5-.1 .5 1.5 .5-2.2 .5 5.2 .5-5.1 .5 2.9 .5-2.9 .5 .9 .5-2.9 .5-.2 .5 2.2 .5-.3 .5-1.2 .5 1.3 .5 .5 .5-1.3 .5-2 .5-1 .5 3.8 .5 .4 .5-.8 .5 .9 .5-3.1 .5 4.2 .5-2.4 .5-.2 .5 3 .5 .3 .5 .6 .5 .3 .5-.1 .5-1.9 .5 2.2 .5-.8 .5 2.5 .5-2.7 .5 1 .5 .7 .5-.5 .5 1 .5-5.1 .5 5.7 .5-1.6 .5 1.1 .5-1 .5-1 .5 .1 .5 1.7 .5-.3 .5-1.1 .5 .9 .5-.7 .5-1.1 .5-.3 .5-.3 .5 2.1 .5-.8 .5-1.8 .5 1.9 .5-2 .5 3.5 .5-2.3 .5 1.2 .5-2.9 .5 .8 .5 1 .5-2.2 .5 1.4 .5 1.1 .5 .2 .5 1.3 .5 .8 .5-2.7 .5 .7 .5 2.6 .5-2.7 .5-.9 .5 .8 .5 .6 .5 1 .5-.7 .5-.7 .5 .6 .5-.6 .5 1.3 .5-1.4 .5 1.2 .5-.3 .5 1.8 .5 1.7 .5-3.7 .5-.6 .5-.4 .5-.8 .5 3.1 .5 2 .5-2.6 .5 .1 .5 .1 .5 0 .5 .5 .5-.4 .5 1.5 .5-1.7 .5 0 .5-1.8 .5 1 .5-.7 .5 .7 .5 1.9 .5-2.5 .5 1 .5-1.2 .5 3.1 .5-1.7 .5 1.6 .5-.5 .5-1.5 .5-.6 .5 1.5 .5-.9 .5-.6 .5 2.4 .5-2.1 .5 1.1 .5-.5 .5 1.9 .5-.5 .5 0 .5 .7 .5-1 .5 0 .5 .7 .5-.9 .5-.7 .5-.1 .5-.5 .5 1.1 .5-.8 .5 .1 .5 .6 .5-.5 .5 2 .5-2.2 .5-1.8 .5 1.3 .5 2.2 .5-2.2 .5-.7 .5 .9 .5-.8 .5 0 .5 2.7 .5-1.2 .5-.1 .5-.1 .5 .4 .5-.7 .5-2.6 .5 2.6 .5-1.7 .5 4 .5-.6 .5 .5 .5-2.8 .5 1.5 .5 .7 .5-2.5 .5 .3 .5 0 .5 3.1 .5-.9 .5 .7 .5-3.5 .5 1 .5-1.2 .5 2.4 .5-1 .5-.5 .5-2 .5 3.6 .5-.2 .5-.2 .5 .3 .5-.3 .5-.7 .5 1.4 .5-1.9 .5 1.1 .5-2.3 .5 1.7 .5-.3 .5-.5 .5-.7 .5 .2 .5 2 .5-.4 .5 0 .5 0 .5-.9 .5 1 .5-.1 .5-.6 .5 0 .5-.5 .5 1.7 .5 .5 .5-2.3 .5-.1 .5 1.2 .5 1.3 .5-.3 .5-1.4 .5-.4 .5-.8 .5 2.5 .5-.8 .5-.1 .5 .2 .5 1.3 .5-3 .5 1.8 .5 .5 .5 .4 .5-1 .5 1.1 .5-3 .5 1.1 .5-.3 .5 3.7 .5-.7 .5-2.1 .5 1.5 .5-1.3 .5-.2 .5 2 .5-2.8 .5 .7 .5-.5 .5 1 .5 2 .5-1.6 .5-.6 .5 1.3 .5-1.1 .5-.2 .5-1.2 .5 2 .5-1.6 .5-.2 .5 .9 .5 2.5 .5-1.8 .5-.2 .5-1.5 .5 .6 .5 .2 .5-.4 .5 .4 .5-2.5 .5 2.3 .5 1.6 .5-2.5 .5 2.8 .5-1.1 .5 .9 .5 .1 .5-1.3 .5-.5 .5 .7 .5 2.5 .5 .1 .5-1.8 .5 .2 .5-2 .5 0 .5 .3 .5 .6 .5 .1 .5-.7 .5-.2 .5 2.3 .5-3 .5 .2 .5 1.5 .5 .7 .5-.7 .5-2.6 .5 .4 .5 2.1 .5-.7 .5 .6 .5 .8 .5-2.5 .5-.4 .5 1.2 .5 .3 .5 1.1 .5 1.1 .5-3.8 .5 2.7 .5 1.3 .5 2.4 .5-4 .5 .7 .5-.1 .5-.9 .5 .7 .5-.4 .5-2.1 .5 1.5 .5 .1 .5 .4 .5-.5 .5-.3 .5 0 .5 .1 .5-1.9 .5 2.7 .5 .5 .5-2.2 .5 .5 .5 .1 .5 1.5 .5-2 .5 1.1 .5-.7 .5 1.3 .5 .1 .5 0 .5-1.9 .5 .9 .5 1.4 .5-.2 .5-1.1 .5-.5 .5-.2 .5 0 .5 3.3 .5 1 .5-1.2 .5 .2 .5-1.3 .5 0 .5-1.3 .5 .8 .5 3.5 .5-1.5 .5-2.4 .5 .5 .5 2.3 .5-.9 .5-2.2 .5-1.5 .5 2.7 .5 .3 .5 .7 .5-1.9 .5-.7 .5 .6 .5 1.7 .5 .4 .5-3.9 .5 1.1 .5 2.7 .5-3.2 .5 1 .5-1.5 .5 1.7 .5 .6 .5-2.2 .5 1.7 .5-1.8 .5-.1 .5 3.4 .5-2.9 .5 .3 .5 .2 .5 2.3" stroke="#ff0000" stroke-width="3.6"/>
<path d="M221 998.4l.5 2.6 .5-.2 .5-1.6 .5 1.2 .5 .6 .5-2 .5 0 .5 1.9 .5-2.8 .5-2.4 .5 2.8 .5 2.2 .5-2.7 .5 .1 .5-.8 .5 1.2 .5 2 .5-4.2 .5 .9 .5-.8 .5 .8 .5-1.2 .5-1.9 .5-2.3 .5-4 .5-7.1 .5-4.7 .5-11.1 .5-9.6 .5-12 .5-7.1 .5-3.8 .5 2.9 .5 9.1 .5 7.1 .5 14.2 .5 7.6 .5 9.7 .5 3.8 .5 6.9 .5 1.6 .5-.7 .5 2.4 .5 .9 .5-.7 .5 2.6 .5 1.4 .5-1.9 .5 .7 .5-1.2 .5-1.5 .5 1.7 .5-.6 .5 .8 .5-1.3 .5 .9 .5-.8 .5 4 .5-3.3 .5-.6 .5-.6 .5 2.6 .5 1.3 .5-.9 .5-.3 .5-1.1 .5 4 .5-3.4 .5-1.2 .5 2.7 .5-.7 .5 1.4 .5-1.6 .5 1.7 .5-.3 .5 .2 .5-1.4 .5 .2 .5 .6 .5 .1 .5 .3 .5-.9 .5-.4 .5 .7 .5-1.2 .5 2.1 .5-2.9 .5 2.1 .5-2.2 .5 1.9 .5 0 .5-1.2 .5-2.4 .5 2.4 .5 .5 .5 .6 .5-.9 .5-.6 .5-1.4 .5 2.4 .5-.2 .5-.3 .5 1.6 .5-2.3 .5-.2 .5 1 .5-.4 .5 .5 .5 3.4 .5-2.9 .5-1.4 .5 .9 .5 .9 .5 .3 .5-.5 .5-1.9 .5-.3 .5-1.2 .5 4.1 .5-.7 .5 1.2 .5-.9 .5-.1 .5 .4 .5-2 .5 2.1 .5-.6 .5-.3 .5 .5 .5-1.2 .5 2.6 .5-1.1 .5-.6 .5-1.2 .5 .4 .5 .2 .5 1.3 .5-.3 .5-.5 .5 .2 .5-.2 .5 2.5 .5-2.7 .5 .3 .5-3.5 .5 2.5 .5 1.1 .5 .3 .5-2.3 .5 3.4 .5-2.4 .5-1.6 .5 1.3 .5-.4 .5 1.6 .5 .6 .5-.8 .5 .6 .5-1.9 .5 .7 .5-.1 .5 1.6 .5 .4 .5-1.5 .5 1.4 .5-2.5 .5 1.1 .5 1.3 .5-1.1 .5 1 .5 0 .5-1.7 .5 4 .5-2.1 .5-.3 .5-.5 .5 .9 .5 1.2 .5-3.6 .5 1.5 .5 .1 .5-.6 .5-.9 .5 .5 .5 1.1 .5 0 .5-3.4 .5 4.8 .5-1.7 .5-.5 .5-.5 .5 .5 .5 0 .5-.1 .5 0 .5-.5 .5-1 .5 .8 .5 1.7 .5-.1 .5-1.2 .5 2.1 .5 .3 .5 .1 .5-.1 .5-1.9 .5-2.5 .5 2 .5-1.4 .5-.4 .5 2 .5-1.2 .5 1.9 .5-1.8 .5 .1 .5 0 .5 1.3 .5 .1 .5-1.2 .5-.3 .5-.5 .5 4.6 .5-2.4 .5 .6 .5 2.1 .5-3.4 .5 1 .5-3.2 .5 1.5 .5-1.2 .5 1.1 .5-.1 .5-.7 .5 2.2 .5 1.1 .5-1.5 .5 0 .5 1.5 .5-1.2 .5 .6 .5-.7 .5 1.4 .5-3.3 .5 2.8 .5-1.4 .5 .7 .5-3.3 .5 2.7 .5-.2 .5-.8 .5 3.1 .5-2.5 .5 2.3 .5-.2 .5-2.4 .5 2.2 .5-.3 .5-2.1 .5 .2 .5 2.7 .5-.7 .5 0 .5 1.3 .5-2.1 .5 0 .5-.1 .5-.5 .5-.9 .5 1.5 .5-2 .5-.3 .5-.5 .5 1.5 .5 1.4 .5-1.3 .5 1.9 .5 1.2 .5-2.4 .5 1.1 .5 2.1 .5-1.7 .5-1 .5-.6 .5-.2 .5 1.3 .5-2 .5-.2 .5 2.5 .5-1.3 .5 3 .5-2.9 .5-1.1 .5 .7 .5-.4 .5 .2 .5-.7 .5 2.1 .5-.3 .5 2.1 .5-1 .5-1.4 .5 1 .5-2.5 .5 .7 .5 .1 .5 4.7 .5-3.5 .5-.5 .5 1.7 .5-1.6 .5 1.3 .5-1.2 .5 1.4 .5-1.6 .5-.4 .5 1.3 .5-2.6 .5 .8 .5 2.1 .5 1.3 .5-1.5 .5 .5 .5-1.3 .5-.6 .5 3.3 .5-.5 .5-3.5 .5 1.6 .5 1.4 .5-.8 .5-1.7 .5 .3 .5 1.2 .5 .3 .5 1.2 .5-.1 .5-.7 .5-.1 .5-1.6 .5 1.3 .5-1.8 .5 1.3 .5 1.2 .5 1.1 .5-3.2 .5 1.5 .5 0 .5-3.8 .5 4.9 .5 0 .5-1.2 .5 .9 .5-1.6 .5-.9 .5 .4 .5-.9 .5 1.7 .5 .4 .5-1.7 .5 .2 .5 1.7 .5-1.5 .5 .9 .5 3.4 .5-3.4 .5 .1 .5-3.6 .5 3.2 .5-.4 .5 .6 .5 1.5 .5-.8 .5-2.1 .5-.6 .5 2.6 .5-2.4 .5 2.8 .5-3.5 .5 1.4 .5 .7 .5-2.4 .5 1.2 .5-1.3 .5 1.3 .5 1.3 .5 1.2 .5 .1 .5-2.4 .5 1.7 .5 0 .5-.5 .5-1.5 .5 .2 .5 1.5 .5 .8 .5-2.2 .5-.2 .5 1.5 .5-1.3 .5 4.9 .5-1.9 .5 .5 .5-3.5 .5 1.4 .5-1.3 .5 1 .5-1.7 .5 .8 .5-.8 .5 .2 .5 3.6 .5-.9 .5-2.5 .5 3.1 .5-4.2 .5 2.7 .5-.8 .5 1.5 .5-1.7 .5-2.4 .5 2.8 .5 .5 .5 .1 .5 .1 .5-2.2 .5 1.9 .5 1.5 .5-2.9 .5 .7 .5 .6 .5 .4 .5-1.2 .5 1.2 .5-1.5 .5-.9 .5-1.5 .5-.7 .5-.6 .5 0 .5 1.6 .5 .7 .5-1.4 .5-3.8 .5-.4 .5-.6 .5-5.4 .5-4 .5-2 .5-3 .5-7 .5-2.5 .5-1.8 .5-1.4 .5-.5 .5 3.8 .5 4.2 .5 4.2 .5 2.7 .5 5.2 .5 2.2 .5 3.4 .5 .3 .5 6 .5-.1 .5-1 .5 1.5 .5 2.2 .5-.8 .5-.2 .5 .4 .5 1.6 .5-1.1 .5-.1 .5-.2 .5 1.7 .5-.9 .5 2.5 .5-4.9 .5 2.7 .5-3 .5 2.5 .5 .6 .5 1.8 .5-2.3 .5 1.2 .5-.3 .5-.7 .5-1.6 .5 3.5 .5-3.1 .5-1.3 .5 1.1 .5 5.6 .5-3.7 .5 1.6 .5-.5 .5-1.8 .5 2 .5-.9 .5-1.2 .5-.2 .5 1.1 .5 .6 .5-1.5 .5-.2 .5 2.1 .5-1.1 .5 1.1 .5 .5 .5-.4 .5 .2 .5-.3 .5-1.5 .5 2.4 .5-1.2 .5-.6 .5-.8 .5-2.6 .5 2 .5 .4 .5-1.5 .5-4 .5-.7 .5 1.1 .5-.1 .5-3 .5-.7 .5 1.6 .5 4 .5-.5 .5 .6 .5 2.2 .5-1.7 .5 2.4 .5 1.6 .5-.2 .5 .4 .5 .9 .5-.3 .5-.4 .5-.1 .5 .1 .5-.5 .5-.2 .5 .1 .5-2.5 .5 2.4 .5-2 .5 1 .5 2 .5 .6 .5 .7 .5-4.1 .5 2.2 .5-3 .5 2.3 .5 1.3 .5-1.2 .5-1.3 .5 3 .5 .2 .5-1 .5 .2 .5-.8 .5 2.2 .5-2.4 .5 .9 .5-1.6 .5 .5 .5 .3 .5 1.6 .5-.2 .5-1.5 .5 3.1 .5-3 .5-.5 .5 1.3 .5-.5 .5 .8 .5-1.3 .5-.3 .5 2.1 .5 1.1 .5-.6 .5-.1 .5-2 .5 1.2 .5 2.9 .5-2.8 .5 1.9 .5-2.4 .5-1 .5 3 .5-2.1 .5-.6 .5 2.8 .5-.9 .5 .1 .5-.3 .5-.5 .5-1.4 .5-.2 .5-.2 .5 1.8 .5-.8 .5 3 .5-3.7 .5 1.3 .5-1.5 .5-1.1 .5 1 .5 1.6 .5-1.6 .5 2.7 .5-3.3 .5 .6 .5 .8 .5-.4 .5 .6 .5 1 .5 .3 .5-2.7 .5 2.7 .5-2.1 .5 2.1 .5-.3 .5-2.9 .5 2 .5 .7 .5 5.4 .5-6.1 .5-.9 .5-.1 .5 1.2 .5-2.3 .5-.4 .5 1.8 .5 .8 .5 .4 .5-1.8 .5 2.7 .5-2.4 .5 4.8 .5-3.3 .5-2 .5 1.9 .5-2.4 .5 3.4 .5-2.6 .5 .7 .5 .8 .5 .1 .5-1.1 .5 2 .5 .4 .5-2.9 .5 .5 .5-.2 .5-.6 .5 2.2 .5-2 .5 2.2 .5 .6 .5 .1 .5-1.8 .5-.3 .5 .6 .5-.3 .5 .7 .5-.8 .5-.8 .5-.4 .5-.1 .5 1.5 .5-.9 .5 1.9 .5 .1 .5 .3 .5-2.2 .5-1.4 .5 3.7 .5-1.9 .5-.1 .5-1.5 .5 2.4 .5-.8 .5 1.1 .5 .6 .5 .2 .5 .9 .5 1.8 .5-2.6 .5-2.8 .5-.4 .5 2.5 .5 1.1 .5-1.7 .5 .2 .5 1.7 .5 .6 .5-.3 .5-1.8 .5-1.1 .5 .9 .5-1.8 .5-.7 .5 2.6 .5 .3 .5 1.2 .5-3.1 .5 0 .5 1.2 .5 1.4 .5 .6 .5 .6 .5-4 .5 .9 .5 .9 .5 .2 .5-.7 .5 .5 .5-.4 .5 .1 .5 1.4 .5-2.4 .5 1.6 .5-1.5 .5 .7 .5 4 .5-3.2 .5 0 .5-.5 .5 .2 .5 1.5 .5 .7 .5-3.9 .5 1.6 .5-2.3 .5 4 .5 .3 .5-2.9 .5 1.3 .5-1.4 .5 1.2 .5-3.1 .5 1.3 .5 1.7 .5-3.2 .5 2.2 .5 1.9 .5 .2 .5-.1 .5-2.6 .5 2 .5-.3 .5-1.8 .5 .4 .5 2.2 .5-2.7 .5 2.2 .5 .7 .5-3.9 .5 1.5 .5-.8 .5 2.6 .5-1.4 .5-2.3 .5 .1 .5 2 .5 .3 .5-2.7 .5 2.4 .5 .5 .5-1.3 .5 3.4 .5-1.2 .5-1.7 .5-.2 .5 1.8 .5-2.2 .5 .9 .5 1.9 .5-.7 .5-1.6 .5 1.4 .5-.9 .5-.3 .5-.9 .5 1.8 .5-1.6 .5 1.2 .5-1.2 .5 .9 .5 1.1 .5-2.1 .5 2.2 .5-.9 .5 1 .5-2.6 .5-1.1 .5 1.3 .5 1.9 .5-2.4 .5 .8 .5 1.2 .5 .4 .5 2 .5-.4 .5-2.7 .5 1.6 .5 .3 .5-.8 .5 .1 .5 .8 .5 1.2 .5-1.2 .5-.4 .5 .4 .5-2.1 .5 .8 .5-1.1 .5 .8 .5-2.1 .5 3.1 .5-1.1 .5 .1 .5-1 .5 1.7 .5-.4 .5 2.4 .5-3.3 .5-.4 .5-1.3 .5 4.1 .5-1.6 .5 1.3 .5-.3 .5 .1 .5 .6 .5 1.2 .5 1.4 .5-3.2 .5 1.8 .5-.3 .5-2.7 .5-2.9 .5-.8 .5 1.4 .5 .6 .5 2.5 .5-.7 .5-.4 .5-.5 .5-1.9 .5-.6 .5 5.7 .5-3.6 .5-.6 .5 1.3 .5-2.5 .5 1.6 .5-1.5 .5 1.2 .5-5.4 .5 .5 .5-3.3 .5-2.2 .5-4.3 .5-1.1 .5-.8 .5 .3 .5 3.8 .5-.9 .5 .3 .5 3.2 .5 3.2 .5 1.8 .5 .8 .5-1 .5 1.3 .5 1 .5 0 .5-.1 .5 .3 .5 1.9 .5-.9 .5-1.9 .5 2.2 .5-2.5 .5-.5 .5-1.6 .5-1 .5-.9 .5 0 .5-4.8 .5-5.3 .5-6.7 .5-9.6 .5-19.2 .5-26.1 .5-39.9 .5-45 .5-45.4 .5-36.2 .5-2.8 .5 31.2 .5 45.9 .5 48.1 .5 37.3 .5 29.2 .5 19.3 .5 12.1 .5 8.7 .5 2.5 .5 3.7 .5 5.2 .5-2.8 .5 2.3 .5-1.7 .5 2.8 .5 3.4 .5 .5 .5-1.5 .5-1.4 .5-.3 .5-1 .5 2.7 .5 .6 .5-3 .5 1.9 .5-2 .5 .8 .5 1 .5-1.9 .5 1.5 .5-.1 .5 0 .5 1.2 .5 .2 .5 .4 .5 1.8 .5-2.5 .5 3.2 .5 1.6 .5-1.6 .5-1.2 .5 .8 .5-2.3 .5 1.9 .5 .4 .5 .6 .5-.3 .5 0 .5 .5 .5 .1 .5 0 .5 .6 .5-.4 .5 .5 .5-.6 .5 0 .5 .5 .5-.6 .5 1.8 .5-1.2 .5 1.7 .5 1.3 .5-2.5 .5 1.2 .5 1.1 .5-3.1 .5 .2 .5-.4 .5 1.9 .5-4.7 .5 3.8 .5-1.4 .5 1 .5-.1 .5 .3 .5 .6 .5-.8 .5 .1 .5 1.9 .5-2.2 .5 .8 .5-1.4 .5 2.1 .5 .6 .5 .7 .5-3.9 .5 3.4 .5-.2 .5-1.1 .5-2 .5 2.3 .5-.7 .5 .4 .5-2 .5 2.2 .5-2.3 .5 2.4 .5-2 .5 .1 .5-.7 .5 3.1 .5-.3 .5 0 .5-2.6 .5 2.5 .5 .6 .5-1.8 .5 0 .5 1.2 .5-2.5 .5 1.2 .5 .1 .5-.4 .5 .7 .5-1.2 .5-1.8 .5 2.3 .5-.6 .5 2.5 .5-2.2 .5 .4 .5 1.2 .5 .7 .5 1.9 .5-1.9 .5 .6 .5-.6 .5 1.2 .5-1.8 .5 .8 .5-1.3 .5 1.7 .5-3.4 .5 .7 .5-1.7 .5 4.7 .5-2.3 .5 .3 .5 .9 .5-.9 .5-.8 .5 1.5 .5-.7 .5-1.7 .5 2.1 .5-3.7 .5 2.9 .5 .6 .5 1.1 .5-2.4 .5 2 .5-2.5 .5 .9 .5 0 .5 1.6 .5-.4 .5 .1 .5-.7 .5-.6 .5 .2 .5-1.1 .5 .3 .5-.6 .5-4 .5-1.5 .5-3.6 .5-4.9 .5 .8 .5 .6 .5-2.3 .5 .1 .5 0 .5 5.9 .5 3.3 .5 1.2 .5 .6 .5 2 .5 .5 .5 2.2 .5 .6 .5-.8 .5 .4 .5-.4 .5 .1 .5 2.8 .5-1.5 .5-2.8 .5 .9 .5-1.2 .5 1.2 .5-.2 .5 0 .5 0 .5 .6 .5-2.8 .5 1.9 .5-2.5 .5 .1 .5-3 .5 2.4 .5-3.5 .5 1.9 .5 .3 .5 1.1 .5 .9 .5-.5 .5-.7 .5 1.9 .5-.6 .5 1.7 .5-.6 .5 3.1 .5-.6 .5-.5 .5-.4 .5-.3 .5-1.8 .5 .1 .5 2.5 .5-2.7 .5-3.1 .5 3.9 .5-.5 .5 .4 .5-1.6 .5-.9 .5-.1 .5 3.2 .5 .7 .5 .4 .5 .5 .5-1.7 .5 1.5 .5 .3 .5 1.5 .5-3.1 .5 .3 .5-1.7 .5 1.9 .5-.2 .5 1.1 .5 1 .5-.8 .5 2.3 .5-2.9 .5 .9 .5-.9 .5 .4 .5 2 .5-2 .5-.6 .5 1.7 .5-1.4 .5 1.8 .5-1.9 .5-.6 .5 1.9 .5-1.7 .5 2.1 .5-1.1 .5-.3 .5 0 .5-1.6 .5 2.3 .5 0 .5-4.4 .5 2.1 .5 .5 .5-2.7 .5 1.8 .5-1 .5-.7 .5 1 .5 1.2 .5-.3 .5-3.2 .5 .4 .5 1.2 .5-.1 .5 .7 .5-1.2 .5-2.9 .5-.2 .5-2.5 .5 1.9 .5-3.5 .5-1.7 .5 1.1 .5-3.2 .5-4.5 .5 1.4 .5-4.6 .5-5.5 .5-5.5 .5-7.7 .5-11.9 .5-21 .5-34.1 .5-61.1 .5-81 .5-111.2 .5-128.8 .5-119.3 .5-64.4 .5 28.6 .5 104.5 .5 128 .5 120.2 .5 98.5 .5 63 .5 43 .5 29.1 .5 16.8 .5 5.7 .5 7.3 .5 5.6 .5 5.1 .5-.4 .5 4.4 .5 .4 .5 2.6 .5 2.7 .5-.2 .5 3.4 .5-1.9 .5 1.4 .5 1.4 .5-.9 .5 1.2 .5 .1 .5 1.4 .5 1.8 .5-2.7 .5 1.3 .5-1.1 .5 3.5 .5-1.1 .5-1.1 .5 .8 .5 .8 .5 2.9 .5-2.1 .5-2.7 .5 4.1 .5 1.3 .5-1.4 .5 .6 .5-2 .5 .3 .5-2.3 .5 3.5 .5-3 .5 4.1 .5-.6 .5-3.4 .5 1.7 .5-.8 .5 1.1 .5 2.5 .5-.8 .5-1.6 .5-.6 .5 2.2 .5-.2 .5-2.6 .5 1.9 .5 .5 .5-2.2 .5 3.5 .5-2.4 .5-1.4 .5 .8 .5 1.9 .5-3.8 .5 3 .5-.4 .5 .3 .5-1.5 .5-1.3 .5 4 .5-1.2 .5 1.7 .5-1.5 .5 2.5 .5-1.9 .5-1.4 .5 2.6 .5-2 .5 .8 .5 1.5 .5-3.2 .5-.6 .5 2 .5-1.5 .5-.6 .5 1.4 .5 .5 .5 .1 .5-2.1 .5 .1 .5 .3 .5-.2 .5 3.7 .5-2.5 .5-1 .5-1 .5-.6 .5 2.4 .5 0 .5-1.4 .5 .9 .5 .4 .5-.6 .5-.9 .5-2 .5-1 .5-1.2 .5-2.7 .5-2.4 .5-3.7 .5-3.1 .5-5.1 .5-2 .5-6 .5-2.7 .5-4.6 .5 .2 .5 .8 .5 3 .5 5.5 .5 3 .5 5.3 .5 3 .5 3.4 .5 3 .5 2.2 .5 3.5 .5 1.3 .5-.8 .5 4.5 .5-1.6 .5 .1 .5-1.6 .5 3.5 .5-.6 .5 .1 .5 1.5 .5-.9 .5-1.3 .5 1.3 .5 2.4 .5-3.6 .5 2.1 .5-1.7 .5 .5 .5-1.7 .5 1.9 .5-.2 .5 .8 .5-1.8 .5 2 .5-1.6 .5-1 .5 1.3 .5-2.8 .5 2.4 .5-1 .5-1.3 .5-1.7 .5 1.5 .5-.4 .5-1.4 .5-.9 .5 .8 .5-.3 .5-1 .5-1.1 .5 2.2 .5-1 .5 2.7 .5-3.6 .5 4.2 .5 1.1 .5 .2 .5 1.3 .5 .4 .5 1.2 .5-1 .5-2.5 .5 2.7 .5 1.8 .5-.7 .5 .8 .5-.5 .5-.5 .5-1.2 .5 1.2 .5-.1 .5 .2 .5-2.8 .5-.7 .5 2.8 .5 .7 .5 1.1 .5-1.1 .5-.2 .5 4.1 .5-3.3 .5 0 .5-1.3 .5 2.2 .5-2.6 .5 2.6 .5-1.1 .5 2.1 .5 .7 .5-3.2 .5-3 .5 .2 .5 3 .5 1.1 .5-1 .5-.7 .5-1.6 .5 .2 .5 2 .5-.1 .5 .2 .5 .5 .5-2.2 .5 .3 .5 .3 .5 .2 .5-.1 .5 .7 .5-2.5 .5 2.5 .5 2.8 .5-3 .5 .9 .5-.1 .5-.3 .5 3 .5-2.5 .5 .3 .5-3 .5 .6 .5 1 .5 2.1 .5-1.6 .5-.6 .5-.6 .5 .6 .5-.3 .5 .1 .5 1.6 .5-1.2 .5 .8 .5 .5 .5-.8 .5-.4 .5 .9 .5-.9 .5-4 .5 2.3 .5 3.1 .5-.8 .5-1.4 .5 1.5 .5 1.2 .5-3 .5 1.8 .5-2.4 .5 3 .5-.5 .5-2 .5 .8 .5 1.1 .5-.9 .5 .2 .5 .4 .5-2.2 .5 3.7 .5-1.8 .5-.6 .5 2.7 .5-2 .5 .3 .5 1.5 .5-.9 .5-3.2 .5 .9 .5 1.7 .5 .4 .5 0 .5-1.4 .5 1.5 .5-2.8 .5-.3 .5 3.3 .5 .3 .5-1.9 .5-1.9 .5 2.1 .5 1 .5-3 .5 3.5 .5 1 .5-2.4 .5 .6 .5 1.4 .5 .4 .5-1.1 .5-1.1 .5-1 .5 .4 .5 4.2 .5-4 .5 2.7 .5-5.3 .5 4.2 .5 .4 .5-.4 .5 1.4 .5-.1 .5-3.7 .5 .3 .5 1.7 .5-1.3 .5 .6 .5 .9 .5-4.4 .5-.4 .5 2.5 .5 2.2 .5-2.7 .5-.3 .5 3 .5-2 .5 1.9 .5-.6 .5 .1 .5-3.3 .5 1.8 .5 .9 .5 1.2 .5-.1 .5-3.1 .5 2.1 .5 .5 .5-1.1 .5 .6 .5 .2 .5 .8 .5-1.6 .5 3.3 .5-1.5 .5-.5 .5 1 .5-1.7 .5 1.7 .5 2.8 .5-5.9 .5 1.3 .5-1.7 .5 2.9 .5 .1 .5 1.2 .5-3.5 .5-.1 .5 .6 .5 1.7 .5-4.4 .5 2.2 .5 1.9 .5 .2 .5-.5 .5-1.1 .5 2.5 .5-4.3 .5 3.4 .5-2.1 .5 1.4 .5-.3 .5 0 .5-.5 .5 1.6 .5-1 .5 1.1 .5-1.1 .5 1.9 .5-.3 .5-.3 .5 1.3 .5-2.4 .5 2.4 .5-2.2 .5-1.5 .5 1.2 .5-.3 .5 1.1 .5-.6 .5 2.2 .5-4 .5 1.2 .5 .1 .5 .1 .5 .3 .5-1.1 .5 2.1 .5-1.6 .5 1.7 .5-1.5 .5-1.8 .5 .7 .5-1.1 .5 1.3 .5 1.2 .5-.3 .5 .4 .5-1.8 .5 1.4 .5-.8 .5-1.2 .5 2.4 .5 .7 .5-.8 .5 1.9 .5-1.4 .5-.2 .5 .7 .5 .1 .5 1.5 .5-4 .5 1.4 .5 1.6 .5-1.2 .5 0 .5 1.2 .5-.3 .5 .7 .5-1 .5 .1 .5-2.2 .5 3.6 .5 .4 .5-1.7 .5-1.7 .5 1.6 .5-1 .5-.6 .5 .6 .5-.4 .5 1.7 .5-1.3 .5 1.4 .5-2.4 .5 1.6 .5-2.2 .5 1.6 .5-.8 .5 .4 .5 .4 .5-.9 .5-3 .5 4.2 .5-2.7 .5 3.1 .5-1 .5 .1 .5-1.6 .5 4.3 .5 0 .5-2.2 .5-1.3 .5 1 .5 .2 .5 1.1 .5-2.4 .5 1.4 .5-1.6 .5 1 .5 .8 .5 2.2 .5-2.6 .5 .1 .5-3.3 .5 4.3 .5 1.1 .5-2.2 .5-2.1 .5 1.2 .5 1.1 .5 .9 .5-.7 .5 .8 .5-.5 .5-1.1 .5 2 .5-1.2 .5-.9 .5 .6 .5 0 .5 .7 .5-.7 .5 1.5 .5 1.3 .5-1.7 .5-.3 .5 .1 .5 1.8 .5-1.2 .5-.2 .5-4.7 .5 2 .5 4 .5-2.2 .5 1.5 .5-3 .5 2.2 .5-1.5 .5 .9 .5-.6 .5 0 .5-2.9 .5 2.6 .5 .5 .5 .4 .5-.7 .5 .7 .5-.6 .5 1.7 .5-2.2 .5 2.5 .5-4.2 .5 .5 .5 1.1 .5-.7 .5 2.1 .5-.2 .5-.9 .5 .6 .5-2.3 .5 .7 .5 1.5 .5-1.6 .5 2.3 .5 .8 .5 .6 .5 1 .5-3.7 .5 3.7 .5-3.1 .5 .4 .5-.6 .5 0 .5-1 .5 .9 .5 1.1 .5-1.4 .5-.7 .5 3.5 .5-1 .5-1.1 .5-.9 .5 .9 .5-3 .5 2.9 .5-1.3 .5 1.1 .5 2.7 .5-.7 .5-1.2 .5-1.6 .5-.3 .5 .2 .5 1 .5-.8 .5-.1 .5 1 .5 2.7 .5-1.8 .5-.4 .5-.5 .5-.1 .5-.6 .5 1.6 .5-2.2 .5 1.7 .5 .6 .5-1.5 .5 1.6 .5-2.1 .5 .8 .5-1.3 .5 1.9 .5-.9 .5-2 .5 .8 .5-.4 .5-.1 .5 .9 .5-.5 .5-1.9 .5 .1 .5-1.8 .5 .9 .5 3.2 .5-2 .5 1 .5 .5 .5-2.4 .5 1.9 .5 .1 .5-1.5 .5 1 .5-.1 .5 2 .5-1 .5 0 .5 .8 .5 1.3 .5-.8 .5 1.3 .5-.4 .5-1.3 .5 1 .5 1.7 .5-3.4 .5 .9 .5-.8 .5 2.9 .5-.4 .5 .1 .5-.1 .5-1.9 .5 1.3 .5-1.7 .5 2.1 .5-1 .5 1.4 .5 .8 .5-4.2 .5 1.6 .5 2 .5-.3 .5-2.3 .5 .4 .5-.2 .5 2.7 .5-.6 .5-.3 .5 .2 .5-.6 .5-1 .5 .3 .5 .2 .5-1.4 .5 1.9 .5 .2 .5-.7 .5-.2 .5 .2 .5 2.5 .5-3 .5 1.9 .5-1.5 .5-.3 .5-1.5 .5 3.8 .5-1.7 .5-1.3 .5 2.5 .5-.3 .5-2.3 .5 2.2 .5 .1 .5-2.5 .5 .3 .5 3.3 .5 2.3 .5-3.5 .5-.3 .5-.5 .5-1.9 .5 0 .5 1.6 .5 2.9 .5-1.1 .5-1.6 .5-.2 .5 1.5 .5-.5 .5-2.5 .5-.1 .5-1.5 .5 1.8 .5 1.9 .5-.4 .5-.2 .5 1.1 .5-.3 .5-1.5 .5 3.3 .5-1.4 .5 0 .5 1.2 .5-1 .5-1.5 .5-.5 .5 .9 .5 1.2 .5-3.3 .5 3.2 .5-1.7 .5 1.9 .5 .3 .5-1.5 .5 0 .5-1.5 .5 2.3 .5 .5 .5-1.5 .5-1.6 .5-.1 .5 3.4 .5-1.4 .5-1.8 .5 1.1 .5 1.6 .5-3.1 .5 2 .5-.8 .5-.4 .5-1.1 .5 2.3 .5-.8 .5 2.1 .5-2.3 .5-.1 .5 3.3 .5-3 .5 1.1 .5-1.7 .5 2 .5-1.5 .5-.8 .5 1.4 .5 .7 .5 .6 .5-1.8 .5 1.4 .5 .4 .5-2.6 .5 3.2 .5 .7 .5-2.1 .5-.6 .5 .4 .5-.9 .5 .4 .5-.6 .5 3.3 .5-2.9 .5 .3 .5-.7 .5 3.2 .5-1.2 .5-.6 .5-.6 .5 1.9 .5-.6 .5-1 .5 1 .5 .2 .5 .2 .5 0 .5-.4 .5-1.1 .5 1.9 .5 .3 .5-.8 .5-2.8 .5 2 .5-1.7 .5-.4 .5 .1 .5 2.3 .5-.3 .5 .4 .5 1.6 .5-3 .5-1 .5 .3 .5 1.5 .5-.7 .5 .2 .5-.9 .5 1.7 .5 1.8 .5-1.8 .5-.3 .5-1.2 .5-.6 .5 .5 .5 2.5 .5-2.6 .5 1.3 .5-.9 .5 0 .5-.7 .5 1.9 .5-1.7 .5-.3 .5-1.7 .5 1.5 .5 2 .5-2.1 .5 1.2 .5-2.1 .5 3 .5-2.3 .5 3.6 .5-3.7 .5 2.3 .5-1.8 .5 1.7 .5-.7 .5 .2 .5 1.8 .5-1.2 .5 .1 .5 .1 .5-.9 .5-1.4 .5-.2 .5 1.1 .5-.5 .5-.3 .5 1.9 .5 .3 .5 0 .5-.1 .5 0 .5-1.9 .5 3.2 .5-1.3 .5-.6 .5-.3 .5-1.1 .5 3.9 .5-3.3 .5 1 .5 .2 .5 .1 .5 .5 .5-1.8 .5 1.5 .5 .3 .5 .5 .5-.4 .5-1.6 .5 .3 .5-.2 .5 .4 .5 2.5 .5-1 .5-.7 .5-.4 .5 1 .5-.3 .5-3.1 .5 5.4 .5-3.3 .5 .4 .5 0 .5-.4 .5-.7 .5 2.2 .5 1.9 .5-4.1 .5 .1 .5-.5 .5 .9 .5-1.1 .5-.7 .5 1.8 .5 2.7 .5 .7 .5-1.9 .5-.2 .5 .8 .5-1.2 .5-1.5 .5 .2 .5 1.3 .5 1.7 .5-.5 .5-1.9 .5 1.4 .5-2.7 .5 1.7 .5-1.5 .5 1.3 .5-.7 .5 2.7 .5-.8 .5-1.9 .5-.6 .5 .3 .5-3.2 .5 2.3 .5 1.5 .5 1.7 .5 0 .5 0 .5-3.8 .5 .4 .5 5.3 .5-4.2 .5 .7 .5-1.5 .5-1.2 .5-3.3 .5 3.4 .5 .4 .5 1.1 .5-1 .5 3 .5-3.2 .5 1.9 .5-2.1 .5 2.3 .5-.2 .5-3.6 .5 1.8 .5-.1 .5 .8 .5-1 .5-.6 .5 1.5 .5 .1 .5-.9 .5 .3 .5-1.2 .5-2.2 .5 2.3 .5-.7 .5-1.5 .5 .3 .5-.8 .5-1.5 .5 2 .5 0 .5 .4 .5-.8 .5 1.3 .5-.2 .5-2.2 .5-.1 .5-.5 .5-.5 .5 2.1 .5-.9 .5 2.3 .5-2.3 .5-.7 .5-1 .5-1.1 .5-1 .5 .1 .5-.3 .5-1.8 .5 0 .5-1.2 .5-2.5 .5-1.2 .5-2.4 .5-1.1 .5-3 .5-1.5 .5-4.5 .5-3.2 .5-7.2 .5-3.3 .5-8.8 .5-7.2 .5-10.3 .5-18.4 .5-23.4 .5-37.5 .5-63.2 .5-105.4 .5-151.3 .5-209.3 .5-193.2 .5 0 .5 0 .5 0 .5 0 .5 0 .5 191.9 .5 170.8 .5 99.5 .5 36.1 .5-8.5 .5-22.4 .5-11.7 .5 26 .5 62.2 .5 74.4 .5 68.8 .5 51.4 .5 35.7 .5 24.5 .5 17.6 .5 9.5 .5 5.3 .5 6.6 .5 5.7 .5 2.8 .5 2.1 .5 2.8 .5 2.3 .5 2.2 .5 1.8 .5 1.8 .5-.1 .5-.8 .5 3.3 .5-1.2 .5 2.2 .5 1.5 .5-.5 .5-.4 .5 1.3 .5-.1 .5 2.5 .5 .7 .5-.1 .5-2.3 .5 1.6 .5 .1 .5-1.7 .5 4.7 .5 .9 .5-4.3 .5 2.6 .5-.2 .5-.5 .5 .4 .5 .8 .5-1.3 .5 2.9 .5-2.2 .5-1.3 .5 2.2 .5-.3 .5-3.9 .5 4.5 .5 .3 .5-.9 .5-1.1 .5 .3 .5 3.2 .5-1.1 .5 .7 .5-1.4 .5-.1 .5 .9 .5-1.4 .5 1.7 .5-2 .5-1.8 .5 3.9 .5 .7 .5-.8 .5 .2 .5-1.6 .5-1.9 .5 4.3 .5 .2 .5-2 .5 1.4 .5-3.6 .5 4.8 .5-4.1 .5 1.3 .5 .5 .5 2.7 .5-.9 .5-2.7 .5-.3 .5-.7 .5 .2 .5 1.7 .5-1.1 .5 2.4 .5 0 .5 2.5 .5-2.9 .5-1.5 .5 1.4 .5-1.3 .5 .4 .5 .9 .5 .1 .5-1 .5 2.6 .5 .2 .5-.3 .5-2.4 .5 .8 .5 4.1 .5-4.6 .5-.1 .5 1.5 .5-1.1 .5 3.4 .5-3.8 .5 .8 .5-.9 .5 .2 .5 .6 .5-.8 .5 3.7 .5-2.4 .5 1.1 .5-1.6 .5-.1 .5 .3 .5 .6 .5-2.4 .5 1 .5 .2 .5-1 .5 2.8 .5-.9 .5-3.6 .5 3.6 .5-1.3 .5 2.7 .5-.6 .5-1.1 .5 1.3 .5 .3 .5-.5 .5-.1 .5 0 .5 1.2 .5 .3 .5-1.3 .5-.8 .5 3.2 .5-2.1 .5 1.4 .5-1.9 .5 1.4 .5-2.4 .5-1.1 .5 1.3 .5-2.1 .5 4.3 .5-2.6 .5 1.4 .5 1.2 .5-3.8 .5 .9 .5-.5 .5 2.3 .5-1.8 .5 1.1 .5-.6 .5 1.8 .5-3 .5 1.7 .5 .2 .5-2.7 .5 1.9 .5-1.9 .5-.3 .5 3.3 .5-1.1 .5 .7 .5 .8 .5-.2 .5 .2 .5 .7 .5-.3 .5-2.5 .5 .4 .5 .8 .5 .4 .5-.7 .5 2.4 .5-2 .5-2.4 .5 .8 .5 2.8 .5-2.8 .5 2.6 .5-.2 .5-3.7 .5 2.8 .5 0 .5-1 .5 2.8 .5-.4 .5 1.4 .5-2.3 .5 2.7 .5-4.6 .5 3 .5-3.7 .5 3.9 .5 .5 .5-3 .5 2.9 .5 .4 .5-1 .5 .1 .5-2.1 .5 1.9 .5 .7 .5-3.2 .5-1.9 .5 4.1 .5-1.2 .5-1.2 .5-1.5 .5 4 .5-2.2 .5 .6 .5-.3 .5-.7 .5 .1 .5 0 .5 1 .5 1.3 .5-1.2 .5 2.3 .5-.6 .5-1.7 .5 2 .5-.8 .5-2.7 .5 1.6 .5 2.4 .5-2.5 .5 .4 .5-1.3 .5 .6 .5 1.1 .5-.6 .5 1.3 .5 .8 .5 .4 .5-2.6 .5 1.9 .5-1.1 .5 .4 .5-1.2 .5 .9 .5-.4 .5 1.3 .5-.6 .5-.3 .5-2.3 .5 2 .5-.4 .5-.1 .5 0 .5-.1 .5-.3 .5-1.5 .5-1 .5 5.3 .5-4.5 .5 3.5 .5-1.1 .5-1 .5 1.1 .5-1.7 .5 2.8 .5-1.3 .5 1.4 .5-2.4 .5-.4 .5 3.2 .5-2.6 .5 0 .5 .9 .5 1.1 .5-1.9 .5-1.6 .5 1.2 .5 1 .5 1 .5 .5 .5-1.3 .5 .3 .5-1 .5-.2 .5 2.3 .5-3.6 .5 1.8 .5-.2 .5-.7 .5 .6 .5-.2 .5-1.9 .5 2 .5 .7 .5-1 .5-.1 .5 1.1 .5-2.5 .5 2.2 .5 .6 .5 1.8 .5-1.5 .5 1 .5 .1 .5-3.4 .5 2.1 .5-.7 .5 1.3 .5 .3 .5 0 .5 .2 .5-.9 .5-2.2 .5 3 .5 .1 .5-1.1 .5-1.4 .5 1.9 .5-.6 .5 .3 .5-.4 .5 .2 .5 .8 .5-.4 .5-2.3 .5 2.7 .5-1.6 .5-.1 .5 .7 .5-1.1 .5 1.9 .5-1.5 .5-.6 .5-1 .5 1.3 .5-.3 .5 1.3 .5-.5 .5 1.1 .5 .3 .5-.4 .5-.2 .5 .1 .5-2.4 .5 3.9 .5-2.5 .5 1 .5-.7 .5-1.6 .5 .5 .5 1.3 .5-1.5 .5 .9 .5 .1 .5-2.3 .5 2.4 .5 .1 .5-1.1 .5 .8 .5 1.7 .5-.1 .5 .1 .5-1.1 .5-.8 .5-1 .5 .9 .5 1.2 .5-1.1 .5 1.2 .5-2.8 .5 1.6 .5 .4 .5-.4 .5 1.4 .5-1.5 .5-.7 .5 1.1 .5 0 .5 2.4 .5-1.8 .5 1.6 .5-.5 .5-3 .5 2.1 .5 .8 .5 1.5 .5-.4 .5-1.4 .5 .4 .5-.8 .5-1.4 .5-.5 .5 2.9 .5-2.9 .5-.5 .5 4 .5-1.8 .5-.9 .5 .2 .5-1.3 .5 1.6 .5-.3 .5 .2 .5-1.5 .5 1.7 .5 1.1 .5-1.8 .5 1.2 .5-4.1 .5 1.3 .5 2.2 .5 1.5 .5-1.7 .5 .4 .5-.5 .5 1.2 .5-3.7 .5 1.6 .5-.8 .5 4.6 .5-4.8 .5 2.7 .5-1.9 .5 2.7 .5-.2 .5-.6 .5-3.5 .5 4.4 .5-1.8 .5 .3 .5-1.3 .5-.6 .5 .7 .5 0 .5 1.2 .5-.7 .5 1.7 .5-.9 .5-3.2 .5 3 .5-1.8 .5 1.7 .5 2.4 .5-3.3 .5 1.4 .5-1 .5-.8 .5 1 .5 1.8 .5-2.7 .5-.9 .5 2.6 .5-.6 .5 .8 .5-.5 .5-1.1 .5 2.7 .5 .6 .5-3.3 .5 1.3 .5-1.1 .5-.2 .5 3.1 .5-1.7 .5-2.3 .5 3.4 .5-.3 .5-.6 .5 .1 .5-1.5 .5 .8 .5-1.8 .5 1.9 .5-.7 .5 2.7 .5-1.1 .5-3.4 .5 2.9 .5 0 .5-3.5 .5 2.7 .5 .8 .5-1.6 .5 3.2 .5-1.7 .5 .4 .5-1.9 .5 1.9 .5 .1 .5 .4 .5 .7 .5-1.7 .5 .6 .5-1.9 .5 2.4 .5-.2 .5-1.5 .5 1.1 .5 1.2 .5-2.3 .5 .9 .5-.5 .5 .3 .5 .7 .5 1.5 .5-2.6 .5-.7 .5 .6 .5 2 .5-2 .5 3 .5-4.1 .5 3.8 .5-.9 .5-.8 .5-3.2 .5 .8 .5 1.3 .5 1.5 .5-.9 .5-2 .5 2.1 .5-2.3 .5 2.2 .5-1.2 .5 3 .5-1.2 .5-.6 .5-.8 .5 .4 .5-1.7 .5 2 .5-.9 .5 1.6 .5 .5 .5-1.6 .5 .9 .5 1 .5-.9 .5 .7 .5-1.6 .5 .4 .5 .1 .5-1.8 .5 1.7 .5-1.1 .5 .1 .5-.3 .5-.8 .5 1.9 .5-.5 .5 .4 .5 1.6 .5-.8 .5 .2 .5-1.9 .5 1 .5-.6 .5 1.2 .5 .7 .5 .7 .5-3.2 .5 1.4 .5 0 .5-1.3 .5-.7 .5 .5 .5-1.9 .5 1.5 .5 1.9 .5-.3 .5-2 .5-2.2 .5 3 .5-1.6 .5-.9 .5 0 .5 1.6 .5-1.3 .5 2.7 .5-2.3 .5 1.9 .5-3.2 .5 5.1 .5-2 .5 1.1 .5-.8 .5-1.9 .5 2.4 .5-5.3 .5 2.6 .5-.4 .5 4 .5-1.9 .5-1.7 .5-.6 .5 1.4 .5-1.4 .5 .8 .5-2.2 .5 1.3 .5 .1 .5-2.4 .5 .4 .5-1.5 .5 .6 .5-2.7 .5-1.6 .5 1.1 .5-.5 .5-5.1 .5-1.2 .5-3.8 .5-6.4 .5-10.8 .5-11.7 .5-23.4 .5-25.3 .5-43.2 .5-44.7 .5-47.2 .5-36.7 .5-8.6 .5 14.3 .5 38.4 .5 38 .5 29.9 .5 24.9 .5 13.1 .5-2.7 .5-1.6 .5-3.8 .5 .5 .5 11.5 .5 14.9 .5 17.1 .5 17.8 .5 14.6 .5 13.2 .5 9.1 .5 6 .5 6.7 .5 3.5 .5-.1 .5 2.3 .5 2.3 .5 .5 .5 .5 .5 1.5 .5-.3 .5 1.2 .5 1.3 .5-.7 .5 1.4 .5-1.1 .5 .8 .5 1.7 .5-.5 .5 .6 .5 1.1 .5-1.3 .5-2.7 .5 1.9 .5-.6 .5 .2 .5 3.7 .5 1.7 .5-3.8 .5 .1 .5-2.4 .5 1.7 .5 1.4 .5-.4 .5 2.7 .5-3.8 .5 2.2 .5-1.2 .5 1.5 .5-2 .5 1.7 .5-3.6 .5 1.9 .5-.3 .5-1.7 .5 3.1 .5 .8 .5-1.3 .5 .7 .5-.4 .5-1.2 .5 1.7 .5 0 .5 .2 .5-.1 .5 1.2 .5 0 .5-1.7 .5 2.6 .5-1.4 .5-.8 .5-1.8 .5-.2 .5 1 .5-.1 .5 2.2 .5-1.1 .5 .2 .5-.6 .5-1.1 .5 3.4 .5-1.6 .5 .7 .5-.2 .5-.7 .5-2.2 .5 4.1 .5-2.2 .5-.4 .5 0 .5 0 .5-.1 .5 3 .5-4.5 .5 2.3 .5 .2 .5-.8 .5 1.5 .5 .3 .5-1.1 .5 .2 .5 1.6 .5-4 .5 .1 .5 1.8 .5-1.8 .5 1.7 .5-.5 .5 2.1 .5-1 .5-.1 .5-1.4 .5 4.3 .5-2.9 .5 .7 .5-2.8 .5 4.6 .5-3.7 .5 2.6 .5-3.6 .5 5.4 .5-4.7 .5 1.1 .5 2.2 .5 .5 .5-1.7 .5 .6 .5-2.8 .5 1.6 .5 0 .5-2.4 .5 3.2 .5-.5 .5-.1 .5 2.2 .5 0 .5 .8 .5-.9 .5-3.4 .5 2.4 .5-2 .5 2.7 .5-5.5 .5 2.3 .5 1.4 .5-1.3 .5 1.1 .5 1.3 .5 .4 .5 2.8 .5-4.3 .5-1.6 .5 1 .5-.8 .5 1.5 .5-1.5 .5-.3 .5 .9 .5 2.5 .5-.1 .5-.4 .5 2.1 .5-3.6 .5-.5 .5 1.6 .5-1 .5-.2 .5 .8 .5-1.7 .5 3.2 .5-1.2 .5 .1 .5 0 .5 .8 .5-.3 .5-2.2 .5 0 .5-.6 .5 .9 .5 .2 .5-2.8 .5 3.7 .5 2.2 .5-1.5 .5 2.2 .5-3.1 .5-2.9 .5 2.7 .5-1.2 .5-.8 .5 1.5 .5 .5 .5-.8 .5-.7 .5-2 .5 1.7 .5-3.5 .5 2 .5-1.7 .5 2.2 .5-.3 .5-1.3 .5-1.1 .5-.4 .5-.3 .5-.4 .5 .9 .5 1.3 .5 .2 .5 .8 .5 .6 .5 1.3 .5 .5 .5-2.5 .5 .5 .5 1.4 .5-1.6 .5 2.3 .5-2.4 .5 .9 .5 .4 .5 .2 .5 1.7 .5 .1 .5-1 .5 1.1 .5-.2 .5 1.7 .5 .1 .5-.7 .5-1.8 .5 1.4 .5-1.4 .5 2.4 .5-2 .5-.5 .5 1.6 .5-.2 .5-.5 .5 1.5 .5-.6 .5-.3 .5-.2 .5 2 .5-2.6 .5-2.1 .5 3.3 .5 2.2 .5-2.2 .5 .3 .5-1.4 .5-.8 .5 4 .5-2.8 .5 .3 .5 1.5 .5-3.7 .5-.7 .5 .8 .5 1.5 .5-.5 .5 .3 .5-.8 .5 .6 .5-.6 .5 .8 .5-1.4 .5 1.8 .5 .8 .5 .2 .5-3.2 .5 1.8 .5 1.6 .5-1.7 .5 1.1 .5-1.5 .5 1.4 .5-1.2 .5 .2 .5 .7 .5 .3 .5 .6 .5-.3 .5-3.2 .5 3.2 .5 2 .5-.3 .5-1 .5 .8 .5-3 .5 .2 .5 1.3 .5-3.8 .5 .2 .5 2.6 .5 .4 .5-.8 .5-.5 .5-2 .5 1.7 .5 .6 .5 .3 .5-1 .5 1 .5 .6 .5-2.4 .5-.5 .5 3.4 .5-1.7 .5-.5 .5 3.6 .5-1.9 .5 1.6 .5-1.5 .5 1.3 .5-.9 .5-2.9 .5 3 .5 .4 .5-1.1 .5-.1 .5 2 .5-1.2 .5-.2 .5 2.1 .5-1.7 .5 2.1 .5-5 .5 1.1 .5-.6 .5 .9 .5 3.2 .5-3.9 .5 2.4 .5 .9 .5-1.1 .5-1.1 .5 .1 .5 .4 .5-1.4 .5-.2 .5 .2 .5 1.1 .5-.2 .5 2.8 .5-3.1 .5 1 .5 .3 .5 .7 .5-2.2 .5-.1 .5 .1 .5 2.1 .5 1.3 .5-3.6 .5 1.9 .5-2.1 .5-.9 .5 3.3 .5-1.8 .5 1.3 .5 .9 .5-1.8 .5-.2 .5-.8 .5 2.7 .5-.1 .5-.9 .5-1 .5-.6 .5 1.4 .5-.8 .5 .5 .5-1.6 .5 .8 .5-1.1 .5-1.2 .5 3 .5 .8 .5 1 .5-2 .5-2.1 .5 1.6 .5 .3 .5-2.4 .5 3 .5-1.2 .5 .1 .5 0 .5 1.3 .5 .3 .5 .3 .5-.6 .5 2.7 .5-4.9 .5-.2 .5-.2 .5 .8 .5 .1 .5 .2 .5 .4 .5 .8 .5-.9 .5 3.6 .5-2.3 .5-2.7 .5 2.1 .5 3.5 .5-3.7 .5 1.1 .5-.8 .5 .3 .5 .8 .5 .4 .5-1.2 .5 1.6 .5-1.2 .5-.4 .5-.1 .5-.1 .5-.1 .5 .2 .5 .2 .5 3.6 .5-5 .5 2.6 .5 1.1 .5 .3 .5-4.5 .5 2.7 .5-1.7 .5 .3 .5 1.6 .5-1.9 .5 .7 .5-1 .5-.2 .5 2.6 .5-2.7 .5 .8 .5 2.2 .5-3.8 .5 1.7 .5 1.1 .5-.6 .5-1.6 .5-.1 .5 4.7 .5-3.7 .5 .7 .5-1.1 .5-.7 .5 .6 .5 .7 .5 1.1 .5-1.9 .5 .4 .5 1.5 .5-.6 .5 1.5 .5-2.2 .5-.3 .5 1.1 .5 2.3 .5-2.4 .5-1.6 .5-1.2 .5 1.6 .5 3.6 .5-1.1 .5-1.4 .5-1.7 .5 .2 .5 .3 .5-.1 .5 2 .5-1.9 .5 1.6 .5 1.2 .5 .3 .5-1.7 .5-1.4 .5 2.1 .5-1.9 .5 1.7 .5 0 .5-.4 .5-1.3 .5-.3 .5 1.5 .5-.6 .5 1.2 .5 1 .5-2.6 .5 1 .5-1 .5-.1 .5 1.7 .5-2 .5 .1 .5 .4 .5-.5 .5 1.8 .5-.3 .5 1 .5-1 .5 .7 .5-3.5 .5 3.5 .5-.3 .5 2.6 .5-2.4 .5-1.8 .5 1.7 .5-.8 .5 .7 .5-1.6 .5 .9 .5 .8 .5-1.3 .5-.1 .5-1.5 .5 4.7 .5-.9 .5-1.2 .5-1.9 .5 2.5 .5-.1 .5-1.6 .5 3.6 .5-.3 .5-3.5 .5-.9 .5 1.7 .5-3.2 .5-.3 .5 3.1 .5-.5 .5-.7 .5-1.9 .5 3 .5-1.8 .5 2.5 .5 .3 .5-1.1 .5 .6 .5-.8 .5-.4 .5 1.6 .5 .7 .5 .3 .5-2.2 .5 2.7 .5-3.7 .5-1.7 .5 2.3 .5 .8 .5 3.1" stroke="#0000ff" stroke-width="3.6"/>
<path d="M221 888.3l.5 .3 .5 .2 .5-2.9 .5 1.3 .5-.9 .5-.4 .5 1.9 .5-.4 .5-.4 .5-.1 .5 1.1 .5-1.2 .5-1.1 .5 1.3 .5-.1 .5-1.5 .5-1.1 .5 4.5 .5-2.3 .5-.4 .5-.8 .5 .3 .5-1.1 .5-1.4 .5-2.4 .5 2.3 .5-4.5 .5-2.4 .5-6.8 .5-6.3 .5-7 .5-6.8 .5-9 .5-5.9 .5 0 .5 3 .5 8.3 .5 9 .5 7.7 .5 7.6 .5 5.7 .5 2.5 .5 2.1 .5 1.6 .5 .5 .5 2.1 .5-1.1 .5 2.5 .5-1.2 .5 1.5 .5-.5 .5 1.6 .5-.6 .5 .1 .5 .6 .5 .5 .5-2.2 .5 .2 .5 .7 .5-.8 .5-1.1 .5 3 .5 .7 .5-.8 .5-1.4 .5 0 .5 1.6 .5-.5 .5-.9 .5 .5 .5 1.8 .5-.2 .5 .1 .5-1.5 .5 3.6 .5-2.1 .5 .1 .5-2.9 .5 1.4 .5-.9 .5 1.9 .5-.7 .5 1.7 .5-3.4 .5 .9 .5-1.9 .5 2.2 .5 1.2 .5-1.5 .5 1.8 .5 .6 .5-1.3 .5-.9 .5 1 .5-1.6 .5 2.9 .5-1 .5 .9 .5-2 .5-.6 .5 2.5 .5-1.1 .5-.7 .5 .9 .5 1.4 .5-1.1 .5 1 .5-2.2 .5 1.1 .5-.9 .5-.7 .5 3.6 .5-1.2 .5-1.5 .5-.6 .5 2 .5 .2 .5-4.4 .5 2.5 .5-.6 .5 1.4 .5-2.6 .5 3.6 .5-1.4 .5-.5 .5-1.3 .5 1.8 .5 1.4 .5-1 .5-1 .5 2.6 .5-2.4 .5 1.5 .5-1.7 .5-.5 .5 1.4 .5-1.4 .5 1.6 .5 .3 .5-2.1 .5 1.4 .5-.2 .5 0 .5 .5 .5 1.5 .5-3.2 .5 3.2 .5-3.1 .5 2 .5 .3 .5-.9 .5-3.3 .5 5.2 .5-1.9 .5-.4 .5 .8 .5-.9 .5 1.3 .5-.4 .5 .9 .5-1.8 .5 3.3 .5-4.2 .5 1.3 .5 1.8 .5-2.1 .5-1.3 .5 2.1 .5-1.2 .5 1.5 .5-2.4 .5 4.2 .5-2.7 .5 1.2 .5-2.3 .5 .2 .5-1.5 .5 2 .5 2 .5-2 .5-1 .5 2 .5-1.2 .5 .8 .5-1.4 .5 1.6 .5-1.3 .5 1.9 .5-.9 .5 1.7 .5-.8 .5-1.6 .5 .4 .5 .5 .5-1.7 .5 .8 .5 3.9 .5-2.1 .5-.1 .5-.5 .5 2 .5-.2 .5-1.6 .5-1.5 .5 1.6 .5-2.8 .5 2.2 .5 1.2 .5-2.3 .5-.7 .5 3.4 .5-2.3 .5 2.3 .5-.5 .5-1.4 .5-.3 .5-1.5 .5 .7 .5 .1 .5 1.3 .5-1.4 .5 1.4 .5 1.4 .5-2.2 .5 1.5 .5-.9 .5 3.6 .5-3.7 .5-1.7 .5 1.4 .5 2.5 .5-1.6 .5-.8 .5 .7 .5-1.2 .5 2.5 .5-3 .5 1.4 .5 .5 .5 1.5 .5-2.9 .5-1.8 .5 1.8 .5 .4 .5 1.6 .5-1.1 .5-.4 .5 .9 .5 0 .5-.2 .5-2.9 .5 4.5 .5-.9 .5-1.2 .5 .4 .5 1.8 .5-1.5 .5 1.2 .5-1.9 .5 .6 .5-3.3 .5 1.7 .5 .2 .5-.5 .5 .8 .5-.1 .5 .2 .5 2.5 .5-3.5 .5 .5 .5 2.2 .5-3 .5 .5 .5 .1 .5 1 .5 .9 .5 2.2 .5-2.6 .5 1.4 .5-1 .5-1.8 .5-.2 .5 1 .5 2.7 .5-2.1 .5-2.8 .5 2.3 .5 3.4 .5-2.8 .5-1 .5-.4 .5-1.1 .5-.5 .5 3.1 .5-1.6 .5 .7 .5-.8 .5 1.7 .5-1.5 .5 1.8 .5-3.5 .5 3.2 .5-.8 .5 .8 .5 .5 .5 .4 .5-1.8 .5-1 .5 2.7 .5-2.8 .5 1.8 .5-1.1 .5-1.8 .5 2.1 .5 .9 .5-.4 .5 1.1 .5-.1 .5 1.4 .5-.6 .5-1.8 .5-.4 .5-2.6 .5 4.2 .5-1.3 .5-1.1 .5-.6 .5 .7 .5-2.6 .5 4.4 .5 1.1 .5-1.7 .5-1 .5-.7 .5 2.1 .5-1.3 .5-1.1 .5 1 .5 1.4 .5-1.2 .5 .5 .5-1 .5 1.8 .5-2.3 .5 2.7 .5-.1 .5-2 .5-.5 .5 .1 .5 1.5 .5-2.6 .5 2 .5-1.1 .5 .9 .5-1.1 .5 3 .5-3.3 .5 1 .5-.1 .5 .3 .5 1.6 .5-1.2 .5 .9 .5 3.1 .5-2.8 .5-2.7 .5 5.5 .5-1.3 .5-3.5 .5 2.5 .5-1.8 .5 2.3 .5-.8 .5-1 .5 .4 .5 3.1 .5-4.4 .5 .9 .5-.9 .5 2.4 .5-3.4 .5 1.8 .5 1 .5-2.4 .5 4 .5-2.7 .5-1.1 .5 1.9 .5-.2 .5-1.7 .5-.1 .5-.4 .5 .6 .5 1.1 .5 .7 .5-2 .5 1 .5-.4 .5 1.8 .5-.6 .5-.8 .5 .3 .5-1.1 .5 .7 .5-1.1 .5 2.8 .5-3.5 .5 1.3 .5 .9 .5 1 .5 1.8 .5-2.9 .5 .2 .5-.7 .5 1.4 .5-.7 .5 1.9 .5-.7 .5 0 .5 .7 .5-1.9 .5 0 .5-.4 .5 2.3 .5-2.7 .5 1.3 .5-1 .5 .5 .5 1.7 .5-.7 .5 .7 .5 .8 .5-.1 .5-2.2 .5 .7 .5 1.4 .5-1.5 .5-1.7 .5 1.2 .5-.9 .5 1.3 .5-2.9 .5 3.8 .5-2.3 .5-.4 .5 0 .5 2.1 .5-5.9 .5 .3 .5-.1 .5-1.2 .5-.2 .5-2 .5 .3 .5-1 .5-2.7 .5-.9 .5 .8 .5 .3 .5 1.8 .5-1.4 .5 3.4 .5 .7 .5-1.2 .5 1.2 .5 .6 .5 1.9 .5 1.6 .5-.7 .5 2.3 .5-.3 .5-.1 .5 1 .5-1.6 .5 2.6 .5-.9 .5-.6 .5 1.5 .5 1 .5-1.5 .5 .9 .5-1.3 .5 .9 .5-.3 .5-1 .5 .8 .5-1.2 .5 1.3 .5-.8 .5 .7 .5-1.2 .5 .6 .5 0 .5 1 .5-.4 .5-1.5 .5 .4 .5 1.3 .5 1.5 .5-3.1 .5 .7 .5-1 .5 2 .5 .9 .5-2.6 .5 1.6 .5-3 .5 4 .5-1 .5-.6 .5 2.1 .5-1.8 .5-1.6 .5 1.4 .5-.2 .5-1.5 .5 2.4 .5-.9 .5 .6 .5 2.2 .5-1.8 .5 .5 .5-.1 .5 2.1 .5-1.4 .5-.6 .5-3 .5 1.7 .5 1.3 .5-.7 .5-.4 .5 1 .5 .4 .5 .9 .5-1.3 .5 1.8 .5 .4 .5-1.7 .5 .7 .5-.6 .5 1.9 .5-1.4 .5-.4 .5-2.1 .5 0 .5 1.6 .5-2.5 .5 1.1 .5 1.7 .5-1.9 .5-.2 .5 .5 .5 1.7 .5-.3 .5-1 .5-.4 .5-1.4 .5 4.3 .5-1.3 .5 1.1 .5-1.4 .5 3.4 .5-2.3 .5-1.3 .5-.4 .5 .5 .5 1 .5-1.3 .5 1.8 .5-.8 .5-.5 .5 .2 .5-.9 .5 1.8 .5-.6 .5 .1 .5 .6 .5-2.6 .5 1.9 .5-1.2 .5 .9 .5-1.8 .5 1.6 .5 1.3 .5-2 .5-.3 .5 1.5 .5-1.8 .5 1.7 .5-.9 .5-1.7 .5 .8 .5 1.4 .5-1.4 .5 1.1 .5-.4 .5 .1 .5-.7 .5 .7 .5-1.1 .5 .9 .5 .7 .5-1 .5 1.5 .5-.7 .5-.1 .5 1.2 .5-.3 .5 1.3 .5-3.3 .5 1.1 .5 0 .5-1.1 .5-.9 .5-.2 .5 1 .5 .2 .5 1.7 .5-1.3 .5 .5 .5-2.1 .5 1.9 .5-2.1 .5 1.5 .5 1.5 .5-.1 .5 .2 .5-3 .5 3.6 .5-.3 .5-1.6 .5 .4 .5 .8 .5 .6 .5-1 .5-2.4 .5 2.6 .5 1.1 .5-2.3 .5 1.3 .5-1.7 .5 1.9 .5-.6 .5 .9 .5-.1 .5-.8 .5 1.3 .5 .8 .5-4.3 .5 1.8 .5 1.3 .5-1.1 .5-.3 .5-.2 .5-.5 .5 1.4 .5-1.2 .5 2.6 .5-3 .5 1.7 .5 .2 .5-1.8 .5 2.8 .5-1 .5-.7 .5-1.5 .5 1.6 .5 1.1 .5-.6 .5-.2 .5 .1 .5-1.9 .5 3.1 .5-.5 .5-2 .5 1 .5-.2 .5-.4 .5-1.2 .5 1.5 .5 .2 .5 .1 .5 .3 .5-.4 .5-.4 .5-.3 .5 1.9 .5-1.9 .5 .2 .5 1.4 .5 .7 .5-3.5 .5-.8 .5 .2 .5 .7 .5 3.5 .5-1.1 .5 .2 .5-1.4 .5 .7 .5-.6 .5 1.8 .5-2 .5 .8 .5 .2 .5-1 .5 2.2 .5 .4 .5-1.3 .5 1.5 .5-2.4 .5-.8 .5 1.4 .5-1.7 .5 2.7 .5-.7 .5 2.1 .5-2.3 .5 .7 .5 .3 .5-2.2 .5 1.6 .5-.6 .5 0 .5-.7 .5-2.2 .5 2.1 .5-1.1 .5-.6 .5 1 .5 3.2 .5-4.2 .5-.9 .5 3.2 .5-.7 .5-.6 .5-.8 .5 1.1 .5-3 .5 1.2 .5 2.2 .5 1.8 .5-.7 .5 .9 .5-3.8 .5 3.6 .5-3 .5 1 .5 1.4 .5-1.1 .5 .4 .5 1.5 .5 1.1 .5-3.7 .5-.2 .5 .1 .5 1.9 .5-.5 .5-1.4 .5 1.1 .5-.1 .5-.7 .5 .5 .5-.5 .5 2.9 .5-2.7 .5 1.4 .5 .4 .5-3.2 .5 .2 .5 2 .5-2.4 .5 2 .5 .8 .5-.4 .5-1.6 .5-.1 .5 1.7 .5 0 .5-.8 .5 1.5 .5-.5 .5-1.2 .5 1.4 .5-1.5 .5 1.6 .5 .3 .5-.3 .5-3.9 .5 2.2 .5 1.1 .5 .7 .5-1.5 .5 .2 .5 .4 .5-.4 .5 .9 .5-1.2 .5 0 .5 .3 .5 2.8 .5-2.6 .5 .5 .5-.9 .5 .3 .5 1 .5-1.7 .5 2 .5 .6 .5-.8 .5-1.3 .5 1 .5-2.9 .5 .8 .5 1.9 .5 1.3 .5-2.4 .5-.7 .5 .6 .5 1.6 .5 1.5 .5 .1 .5-2.1 .5 0 .5 1.3 .5-.9 .5 1.9 .5-3.1 .5 1 .5-2.3 .5 2.8 .5-3.4 .5 2.6 .5-.8 .5 1 .5-1.5 .5-.9 .5-1 .5 2.6 .5 .2 .5-1.2 .5-.8 .5 2.2 .5 .3 .5-.1 .5-2.5 .5 .2 .5 .7 .5-1.1 .5 2.5 .5-.1 .5-.2 .5-.7 .5-.2 .5 1 .5-1.1 .5-1.1 .5 2.6 .5-2.1 .5 .3 .5 .3 .5 .1 .5-2.5 .5 .2 .5-.4 .5-4.8 .5 1.9 .5-1.8 .5-1 .5-.6 .5-3.7 .5-2.9 .5 .1 .5-.6 .5 1.5 .5-2.1 .5 2.4 .5 .4 .5 2 .5 .7 .5 .8 .5 .8 .5-.2 .5 2 .5-1.8 .5 1.7 .5-1.2 .5-1.6 .5-.8 .5-.6 .5-4.5 .5-4 .5-6.6 .5-7.8 .5-19.6 .5-21.4 .5-37.1 .5-55 .5-70.5 .5-77.8 .5-87.7 .5-80.7 .5-52.5 .5-13.3 .5 32.3 .5 64.6 .5 83.4 .5 87.2 .5 76.9 .5 63.2 .5 45.2 .5 32.9 .5 21.9 .5 11.3 .5 6.6 .5 9.3 .5-.3 .5 4 .5 1.8 .5 .1 .5 2.3 .5 .2 .5 1.3 .5 .9 .5 .2 .5-.7 .5 .4 .5 2 .5-.4 .5 1.6 .5-.6 .5 1.4 .5 .2 .5-.9 .5-.7 .5 3.7 .5-4.4 .5 .5 .5 2.8 .5-1.3 .5 .4 .5 .7 .5 1.6 .5-.3 .5-1.3 .5-.3 .5 1.8 .5-.4 .5 .4 .5-1.4 .5 .8 .5-.6 .5 2.3 .5-3.4 .5 .8 .5-.2 .5 1.4 .5 1 .5 1 .5-.8 .5-.8 .5-1.3 .5 1.4 .5-2.3 .5 4.9 .5-.2 .5-2.3 .5 .3 .5 .5 .5 .2 .5-1 .5 .2 .5 .5 .5-.6 .5-.2 .5-1.7 .5 .2 .5 3 .5-2.6 .5-.4 .5 1.6 .5 2.2 .5-1.6 .5 1.3 .5-1.7 .5-.8 .5 .6 .5-.6 .5 1.2 .5-.9 .5 .5 .5-1.7 .5 1.1 .5 .3 .5 3.3 .5-3.6 .5 1.7 .5-1.1 .5 .5 .5-.4 .5 1.1 .5-.7 .5-.3 .5-.3 .5-.5 .5 .5 .5-.6 .5 2 .5-1.7 .5 2.5 .5-1.9 .5 .8 .5-.6 .5-.4 .5 1 .5-.6 .5-.6 .5-1.2 .5 1.5 .5 2.1 .5-.7 .5 .5 .5 .6 .5-1.7 .5-.6 .5-1.7 .5 2.3 .5-.7 .5-.3 .5 .5 .5-1.7 .5 2 .5-.2 .5-1.5 .5-.5 .5 3 .5 1.7 .5-1.9 .5-1.5 .5 1.8 .5-3.1 .5 2.3 .5-1.3 .5 .7 .5 2.2 .5-.1 .5-3.2 .5 .3 .5-.5 .5 .9 .5 1.4 .5-.3 .5 .8 .5-1.3 .5-2.3 .5 .4 .5 .5 .5 2.3 .5-1.6 .5 .1 .5 1 .5-1.9 .5 .2 .5-.4 .5 2.1 .5-2.1 .5 .6 .5-3.1 .5-1.1 .5 1 .5-1.8 .5 1.1 .5 .6 .5-5.9 .5 1.5 .5-1.2 .5 .3 .5-.4 .5-.4 .5 .2 .5 2.5 .5 .7 .5-.5 .5 .7 .5-.1 .5 .2 .5 2.9 .5 1.2 .5 1.6 .5-3.3 .5 2.8 .5-.7 .5-.4 .5 3.3 .5-2 .5-1.1 .5 1.6 .5-.1 .5 .1 .5 .1 .5-2.4 .5 2.6 .5-2.8 .5-.7 .5 3.8 .5-.8 .5 1.6 .5-1.5 .5-.7 .5 .7 .5-.7 .5 .5 .5-.6 .5 2.6 .5-2.7 .5 1.1 .5 1 .5 .5 .5-2.6 .5-.3 .5-.2 .5-.1 .5 1.8 .5 .3 .5-.2 .5-.3 .5 2 .5-2.4 .5 2 .5 .7 .5 .2 .5 0 .5-2 .5 0 .5 .9 .5-.3 .5-2.6 .5 1.2 .5 .1 .5 1 .5-1.1 .5 1 .5-.5 .5 1.8 .5 .8 .5-2.7 .5 .6 .5-.7 .5-.8 .5 2.3 .5-2.2 .5 1.4 .5-.3 .5 1.7 .5-2.5 .5 1.7 .5-2.6 .5 .2 .5 .6 .5-.3 .5 .3 .5 1.6 .5-2.9 .5 3.2 .5-2 .5-2.5 .5 2.8 .5-.5 .5 .8 .5 .6 .5-.1 .5 .7 .5-2.1 .5 .5 .5-1.3 .5 1.5 .5 1.6 .5-2.2 .5-1 .5-.3 .5-.5 .5-2.2 .5 2.4 .5 .4 .5 1.6 .5-2.8 .5-.6 .5-.6 .5-.5 .5-1.2 .5 1.3 .5 .5 .5-4 .5-.6 .5-1.5 .5-.1 .5-5.5 .5-4.9 .5-7.7 .5-13.1 .5-24.3 .5-30.7 .5-43.3 .5-54.1 .5-60.9 .5-64.3 .5-52.9 .5-28.1 .5 2.1 .5 35.5 .5 55.2 .5 63 .5 62.3 .5 51.8 .5 39.6 .5 31.7 .5 17.8 .5 14 .5 7.6 .5 4.6 .5 2.4 .5 2.2 .5-1.3 .5 4.2 .5 .1 .5 1.2 .5-.4 .5 1.2 .5 .6 .5 2.3 .5 .1 .5-.2 .5-1.5 .5 2.1 .5 .4 .5-1.2 .5 .3 .5 .6 .5 .4 .5 .4 .5 .3 .5 0 .5 1.2 .5-.1 .5-.4 .5 .2 .5-.9 .5-1.5 .5 .2 .5 2.9 .5-1.4 .5 2.7 .5-3 .5 1 .5-1.7 .5 0 .5 4.2 .5-4.5 .5 1.5 .5-1.2 .5-.3 .5 .7 .5 1.4 .5 1.2 .5-.1 .5-2.1 .5-.6 .5 3 .5 .8 .5 .8 .5-1.6 .5-.9 .5-.3 .5-1 .5 0 .5 .1 .5 .4 .5-.8 .5 1.2 .5 .3 .5 .2 .5-.2 .5 .3 .5-2.9 .5 2.8 .5 .4 .5-1.6 .5 2.5 .5-.7 .5-.2 .5 .8 .5-1.3 .5-.4 .5 2.2 .5-2.1 .5 1.1 .5 1.6 .5-.9 .5-1 .5 .7 .5-1.4 .5-1.1 .5 3.7 .5-2.9 .5-.4 .5-.9 .5 1.9 .5 .2 .5 1.2 .5-1.8 .5 .2 .5-1.3 .5 .8 .5 2 .5-.6 .5-1.7 .5 1 .5 .9 .5-2.9 .5-.2 .5 .2 .5 2.4 .5-3.3 .5-2.2 .5-1 .5 .5 .5-.2 .5-2.9 .5 .4 .5-2 .5-1.7 .5-1.8 .5-.2 .5-1.4 .5 2.3 .5-.6 .5 1.4 .5-1.5 .5 4.3 .5 .7 .5 3.2 .5-.2 .5 2.3 .5 2.3 .5-1.2 .5 1 .5-1.6 .5 .4 .5 1.7 .5-.7 .5 .3 .5 1.5 .5 2.3 .5-1.4 .5-1 .5-.7 .5 1.3 .5 .6 .5-2.3 .5 1.3 .5 1.3 .5-.9 .5 1.1 .5-3 .5 1.6 .5-.6 .5 2.5 .5-2.9 .5 .7 .5 0 .5 0 .5-1.5 .5 .8 .5 .5 .5-1 .5 .7 .5 1.3 .5-1 .5 .6 .5-.7 .5 .4 .5 2.5 .5-2.5 .5-1.9 .5 3.3 .5-1.4 .5-1.2 .5 2.2 .5-1.6 .5-.1 .5 1.2 .5-.8 .5 .1 .5 .9 .5-1.9 .5 2.5 .5 2.6 .5-3.2 .5-1.8 .5 4 .5-3.9 .5 5 .5-.8 .5-1.3 .5-.8 .5-1.8 .5-.8 .5 1.6 .5-.9 .5-.5 .5 2.9 .5 .1 .5-2 .5-.5 .5 .7 .5-1.8 .5 1 .5 0 .5 2.4 .5-.5 .5-.9 .5 1.2 .5-.8 .5-1.1 .5 1.3 .5-.5 .5-1.8 .5 2.6 .5 .8 .5-1.2 .5-1.5 .5 .9 .5 1.3 .5-1.5 .5-2.2 .5 1.6 .5 1.1 .5-1.5 .5 .4 .5 1.9 .5 0 .5-3 .5 .4 .5 .3 .5 2.1 .5-1.8 .5 .7 .5-.9 .5 2.1 .5 .6 .5 .5 .5-2.1 .5-1.4 .5 2 .5-.2 .5 2.5 .5-.6 .5-2.4 .5 .3 .5 .1 .5-1.4 .5 .7 .5 .1 .5 1.3 .5 1.9 .5-2.3 .5 2 .5-1.4 .5-1.4 .5-.3 .5 1.6 .5-1.7 .5 0 .5-1.4 .5 3.7 .5-1.2 .5-.4 .5 .8 .5-1.4 .5 1.8 .5 1.3 .5-3.2 .5 1.6 .5 .6 .5-.5 .5 .8 .5 1.7 .5-1.8 .5-1.6 .5-2.4 .5 1.8 .5 .3 .5 0 .5 1.7 .5 .2 .5-1.5 .5-.1 .5 1.2 .5-1.6 .5-.1 .5-.4 .5 .7 .5-.1 .5 1.1 .5-3.4 .5 4 .5-.6 .5-1.8 .5 .3 .5 2.1 .5 2.2 .5-4.7 .5 .3 .5 .2 .5 .5 .5 .6 .5 .5 .5-1.3 .5 .7 .5 .1 .5 1.1 .5 .5 .5 0 .5-1.4 .5-.7 .5-.3 .5-.8 .5 3.5 .5 .1 .5 0 .5-1.5 .5-1.2 .5 2 .5-.6 .5-1.4 .5-.5 .5 .7 .5 2 .5-1.6 .5 1.5 .5-3.5 .5 .8 .5-.6 .5 2.1 .5 1.3 .5-2.2 .5-1.5 .5 1.7 .5 .5 .5 1.5 .5-3.7 .5 1.4 .5 1.1 .5-2.2 .5 .1 .5 1.7 .5-.5 .5 .1 .5-.8 .5 1.5 .5 1.2 .5-.1 .5-.8 .5-.9 .5 .6 .5 1.1 .5 .3 .5-.2 .5 1.5 .5-1.6 .5-3.5 .5 2.4 .5 .5 .5-.7 .5-1.8 .5 3.3 .5-2 .5-.3 .5 2.9 .5-1 .5-.7 .5 .4 .5 .6 .5-1 .5 1.8 .5-2.8 .5 .4 .5-.1 .5 2.8 .5-.2 .5 .2 .5-.5 .5 .8 .5-1.7 .5 .5 .5-.3 .5 .3 .5-1.2 .5 .3 .5 .1 .5-1.7 .5 .7 .5-.4 .5 1 .5-1.9 .5-.6 .5 3.5 .5-1.2 .5-.8 .5-.7 .5-.3 .5 .5 .5 0 .5 1.4 .5 .8 .5-1.5 .5 .8 .5 0 .5 .9 .5-2.5 .5 .7 .5-.4 .5-.1 .5 .2 .5 3.6 .5-1.5 .5-1.3 .5 0 .5 1.2 .5-.2 .5-1.1 .5-1.2 .5 .1 .5-.3 .5-.9 .5 3.9 .5-2.2 .5-.5 .5 1 .5-.2 .5 1 .5 1.2 .5 0 .5-1.6 .5-1.8 .5-.3 .5-.3 .5 1.5 .5 1.7 .5-.6 .5-.8 .5-.8 .5 2 .5-2.5 .5-.7 .5 3.4 .5-2.6 .5 3.5 .5-1.9 .5 1.1 .5 .2 .5-.4 .5-1.4 .5 .8 .5-.9 .5-.1 .5 .2 .5 5.1 .5-.5 .5-4.8 .5 2.1 .5 1 .5-2.7 .5 3 .5-3.3 .5 1.7 .5-3.9 .5 4.2 .5-1.3 .5-.1 .5-2.1 .5 3.3 .5-3.2 .5 .5 .5-.6 .5-.4 .5 3 .5-3.5 .5 3.2 .5-.1 .5-2.4 .5-1.2 .5 1.8 .5 .9 .5-1.6 .5 .8 .5 2.4 .5-.2 .5-1 .5-.2 .5 1.9 .5-1.4 .5 3.2 .5-.7 .5-2.7 .5 3.3 .5-2.2 .5 1.7 .5-3.3 .5 3.7 .5-1.9 .5 1.1 .5-1.5 .5 2.7 .5-.8 .5-1.2 .5 .9 .5 1.6 .5-.9 .5-1.8 .5 2.7 .5-4.3 .5 1.7 .5 .9 .5-1.9 .5 2.9 .5-1.7 .5-.2 .5-2.1 .5 1.4 .5-1.5 .5 1.5 .5-.6 .5 1.6 .5-2.4 .5 1 .5 2 .5-1.7 .5 .7 .5-2.6 .5 .8 .5 2.6 .5-4.6 .5 3.3 .5 1.7 .5-.8 .5-2.1 .5-2.4 .5 3.8 .5-2.7 .5-.2 .5 3.6 .5-1.2 .5 1.2 .5-2.1 .5-1.3 .5 1.5 .5 1.2 .5 .2 .5-.5 .5 .4 .5-.7 .5 1.2 .5-.5 .5-1.2 .5 1.7 .5-3.1 .5 1.8 .5 3 .5-3.3 .5 .1 .5-.4 .5 2.2 .5 .2 .5 1 .5-2 .5-1.3 .5 1.2 .5 .2 .5 1.1 .5-1 .5 .1 .5-.1 .5-1.8 .5 1.9 .5-1.3 .5-2.3 .5 1 .5 .9 .5 .6 .5-2.6 .5 6.1 .5-.9 .5-2.1 .5 1.8 .5-.5 .5-.1 .5-.3 .5 .6 .5-3.5 .5-.2 .5-.5 .5 2.6 .5 .8 .5-.4 .5 .3 .5 2.5 .5-2.2 .5-1.4 .5 1.1 .5 2.3 .5-.6 .5-1.5 .5-2.6 .5 1.7 .5-.4 .5-.6 .5 1 .5-1.3 .5 3.6 .5-5.1 .5 3.8 .5 .3 .5-.6 .5-1 .5 1.1 .5 2.3 .5-4.7 .5-1.3 .5 4.4 .5-3.3 .5 3.1 .5-1.1 .5 .5 .5-.9 .5-.9 .5 .3 .5-1.7 .5 4.5 .5-4.6 .5 2.2 .5 1.2 .5-3.5 .5 1.9 .5 .7 .5-.7 .5 .4 .5-.3 .5 .7 .5-.7 .5-1.1 .5 3.7 .5-1.7 .5 .3 .5-1.9 .5 1 .5-.1 .5-.2 .5-.3 .5 .3 .5 .4 .5 1.2 .5 .2 .5 .4 .5-.5 .5-1.2 .5 0 .5 1 .5-2.7 .5 1 .5 2.6 .5-1.3 .5 1.5 .5-2.5 .5 .3 .5 .3 .5 .1 .5 2.3 .5-3.9 .5 2.4 .5-1.1 .5-3.1 .5 4.5 .5-2.6 .5-.9 .5 .8 .5 1.8 .5 .2 .5 0 .5-2.6 .5 1.5 .5-.9 .5 .7 .5 1.3 .5 .7 .5-2.6 .5 2 .5-2 .5 1.4 .5-.5 .5-.5 .5 3.5 .5-2.9 .5 .9 .5 .6 .5-2 .5-.4 .5 .6 .5 1.5 .5-1.6 .5-.6 .5 1.3 .5-1.5 .5 3.1 .5-1.5 .5-1.2 .5 2.8 .5-.4 .5-2 .5 .7 .5-.3 .5-.3 .5 .8 .5 0 .5-1.2 .5 .9 .5 2.2 .5-.4 .5-1.8 .5 1.3 .5-1.3 .5-1.6 .5 1.8 .5 .5 .5-1.7 .5 1.6 .5-1.8 .5 1.1 .5-.1 .5-1 .5 1.4 .5-1.5 .5 1.5 .5 1.6 .5-1.6 .5 .4 .5-2 .5-.5 .5 3.6 .5-2.4 .5 .6 .5 0 .5-2.3 .5 2.6 .5-1 .5-.5 .5 .3 .5-.5 .5 2.7 .5-.9 .5 .8 .5-2.1 .5 1.1 .5-.4 .5-.5 .5 1.3 .5-.3 .5 1 .5-.1 .5 1.6 .5-2.1 .5 1 .5 .5 .5-1.8 .5-1.3 .5-1.6 .5 2.6 .5 1.2 .5 .2 .5-1.4 .5-.6 .5 1.2 .5-.5 .5 .6 .5-.8 .5 1.2 .5-.2 .5-.3 .5 .3 .5 .2 .5-.7 .5-.1 .5-1.5 .5 2.9 .5-3.1 .5 1.9 .5 .7 .5-2.7 .5 1.6 .5 .9 .5 .2 .5-2.6 .5 1.6 .5 .2 .5-2.7 .5 4.8 .5-3 .5-.4 .5 1 .5-.4 .5 .7 .5-.8 .5-.1 .5-2.7 .5 4.6 .5-.6 .5-.5 .5 2.4 .5-2.4 .5-1.3 .5 3 .5 .8 .5-3.5 .5 1.1 .5-1.1 .5 1.6 .5 1.1 .5-1.8 .5-.5 .5 1.4 .5-.5 .5-2.4 .5 .7 .5 1.7 .5-1.2 .5 .8 .5-.3 .5-.2 .5 1.4 .5-2.1 .5 .7 .5 .7 .5-.2 .5-.4 .5 2.3 .5-3.4 .5 2.6 .5-3.9 .5 3 .5 1.6 .5-1.4 .5 0 .5-.6 .5-.7 .5 .1 .5 2.3 .5-1.3 .5-.9 .5 2.9 .5-.8 .5-2 .5 0 .5-1.3 .5 2.9 .5-.2 .5-2.2 .5 .5 .5 .9 .5 2.3 .5 .5 .5-2.3 .5-2.3 .5 2 .5-.1 .5 0 .5-.5 .5 1.5 .5-1.8 .5 .5 .5 1.4 .5-3.3 .5 2.2 .5-1.1 .5 2.2 .5-.6 .5-1.4 .5 3 .5-2.5 .5 2 .5-1.8 .5 1 .5-.3 .5-1.3 .5-1 .5-.5 .5 1.8 .5 .8 .5-.3 .5-.5 .5 1.4 .5-2 .5 1.1 .5 1.5 .5 .3 .5-1.9 .5 1.1 .5-1.2 .5 .6 .5-.5 .5-.8 .5 1 .5-.4 .5 2.2 .5-2.5 .5 1.1 .5 2.9 .5-2.6 .5 .7 .5-.7 .5 .3 .5 0 .5-2.8 .5-.1 .5-.2 .5 2.4 .5-1.2 .5 1.4 .5-1.2 .5 1.9 .5-4.3 .5 3.4 .5-1.8 .5 .5 .5 .1 .5-1.8 .5 .7 .5 2.1 .5 .3 .5-.4 .5-2.1 .5 1 .5 1.3 .5-1.5 .5-.1 .5-.1 .5 1.1 .5 1.4 .5-3.9 .5 1.5 .5 .7 .5-1.4 .5 1.1 .5-2.1 .5 3.1 .5-1.7 .5 1.1 .5-1.7 .5 .1 .5 1.1 .5 .2 .5 .1 .5 1.8 .5-1.2 .5 1.4 .5-1.4 .5-1.2 .5 3 .5-2.2 .5 1.7 .5-1.4 .5 1.5 .5-1.9 .5 0 .5 .3 .5-1.2 .5 .9 .5 .7 .5-.8 .5 0 .5-.2 .5-1.8 .5 1.7 .5-1 .5 .9 .5 1.7 .5-.9 .5-1.2 .5-1.8 .5 1 .5 .1 .5-.4 .5-.3 .5 1.4 .5-2.3 .5-1.4 .5-2.4 .5-1.5 .5-1.3 .5-7.2 .5-4.1 .5-6.4 .5-8.6 .5-9.2 .5-11.4 .5-5.3 .5-2.3 .5 .2 .5 2.7 .5 5.5 .5 5.6 .5 8.2 .5 6 .5 3.7 .5 2.1 .5 1 .5-.5 .5 2.2 .5-.2 .5 3.5 .5 2.3 .5 4.7 .5 2.7 .5 2.5 .5 2.8 .5 2.5 .5 .9 .5 2 .5 .5 .5 .7 .5-.6 .5 .3 .5 1.6 .5 1.9 .5-1.3 .5 1 .5-2.7 .5 0 .5 1.8 .5 .4 .5 1.1 .5 1.3 .5-1.9 .5 0 .5 0 .5 .7 .5-1.8 .5 1.1 .5-1.3 .5 1.7 .5-1.5 .5 2 .5-2 .5-.3 .5 .3 .5 1.8 .5 .3 .5-.2 .5 .7 .5-.2 .5-1.8 .5 .9 .5 .7 .5 1.2 .5-2.8 .5 0 .5-.1 .5 2.2 .5-1.2 .5 1 .5 .5 .5-1.5 .5 1.1 .5-.6 .5-1 .5 .4 .5 2.4 .5-1.5 .5 1.8 .5-.6 .5-2.6 .5 .6 .5 2.6 .5-2.5 .5-.4 .5 2.9 .5-1 .5 1.5 .5-1.2 .5-.2 .5 2.4 .5-4.1 .5 .4 .5-.7 .5 2 .5-.5 .5-3.2 .5 1.9 .5-.1 .5-.5 .5-.6 .5-.2 .5 3.9 .5-2.3 .5 1.3 .5-1 .5 .8 .5-2.8 .5 1.8 .5-1.2 .5 1.6 .5 1.1 .5-3.2 .5 2.2 .5-1.1 .5 2.9 .5-1.5 .5 .2 .5 1.4 .5-1 .5-2.6 .5 .6 .5 .3 .5 1.3 .5 .1 .5-1.2 .5 2 .5-1.5 .5 1.1 .5-.6 .5-.2 .5 1.2 .5-.3 .5 0 .5-1 .5 2.9 .5-3.6 .5 1 .5-.6 .5-1.6 .5 1.7 .5-.2 .5 1.6 .5-2.7 .5 1 .5 1.2 .5-1.7 .5-.5 .5 1.8 .5-1.7 .5-.1 .5 1.2 .5 0 .5 2.6 .5-.8 .5 .1 .5-.2 .5 .6 .5-.6 .5-3.1 .5-.4 .5 1.6 .5-.7 .5 .6 .5 .4 .5 1.3 .5-.9 .5 .6 .5-.6 .5-2.8 .5 2.8 .5 1.3 .5-.9 .5-1.2 .5 1.1 .5-.2 .5-.7 .5-.9 .5 .9 .5 1.5 .5-.9 .5-2.3 .5 1.9 .5-1.7 .5 .3 .5 2.4 .5-1.7 .5 .3 .5 1.7 .5-.8 .5-1.9 .5-.2 .5 2.9 .5-1.2 .5-2.5 .5 1.4 .5-.1 .5 .9 .5 .3 .5 .2 .5 .3 .5-.1 .5-.2 .5 .4 .5-.8 .5 .2 .5-1.8 .5 1.6 .5-3.2 .5 3.5 .5 2.1 .5-1.6 .5 0 .5-1.4 .5 .1 .5 2 .5-2.1 .5 .8 .5 1.1 .5-3.5 .5 .3 .5 2 .5-1 .5 1.6 .5-1.4 .5-1 .5 2.7 .5-2.3 .5 4.2 .5-3.1 .5 .9 .5-.1 .5 2.1 .5-4 .5-.3 .5 2.2 .5-1.4 .5 1.6 .5-.2 .5-.6 .5 .1 .5 .5 .5-.6 .5 .1 .5 0 .5-.1 .5 4.1 .5-3 .5 1.8 .5 .3 .5-3.6 .5 1.3 .5 .3 .5 1.5 .5-1.3 .5-1.7 .5 .3 .5 1.5 .5-1.6 .5-2.2 .5 2.9 .5 2.4 .5-3 .5-.3 .5 2.3 .5-1.8 .5 1.2 .5 .1 .5-.2 .5-.9 .5-.1 .5-1.4 .5-.3 .5 3.9 .5 .2 .5-3.7 .5 1 .5 1.4 .5-.5 .5-1.2 .5 .1 .5 .1 .5 0 .5-.3 .5 .7 .5-1 .5 .8 .5 0 .5-1.1 .5 2 .5-3.4 .5 2.2 .5-.7 .5 .7 .5-1.3 .5 2 .5-2.1 .5 3.1 .5 2.7 .5-1.4 .5-2.3 .5 .5 .5-3.6 .5 1.9 .5 1.4 .5 .6 .5-1.1 .5-.2 .5 1.2 .5 1.1 .5-.8 .5-.9 .5-.3 .5-.3 .5 .4 .5-2 .5 .8 .5 .5 .5 .3 .5-.5 .5 1.2 .5-1.7 .5-.1 .5 .6 .5 2.3 .5-.8 .5-2.1 .5 1.1 .5-.6 .5 1.3 .5-1.1 .5 .2 .5-1.4 .5 1.1 .5 .4 .5 .8 .5-.2 .5 1.2 .5-2.4 .5-.3 .5-2 .5 1.1 .5-.6 .5 3.4 .5-.3 .5 1.6 .5-3.1 .5-.7 .5 1.6 .5 .4 .5 .5 .5-2.3 .5 1.3 .5 .9 .5-1.5 .5-1.6 .5 4.9 .5-1.8 .5-1 .5 .4 .5 2.6 .5-.4 .5-1.5 .5 1 .5 .5 .5-.1 .5-1.1 .5 .7 .5-.4 .5-.8 .5 .4 .5-2.2 .5 1.1 .5-.1 .5 .7 .5-1.7 .5 2.1 .5-1.4 .5 1.8 .5-2 .5 .7 .5-1.4 .5 2.4 .5-1 .5-2.2 .5 2.2 .5-.4 .5 2.4 .5-1.6 .5 .6 .5-3.6 .5 3.8 .5-.8 .5-.1 .5-1.2 .5 1.3 .5-1.7 .5 2 .5-.7 .5-1.1 .5 .3 .5 1.2 .5 .5 .5-1.6 .5 1 .5-1.6 .5 2.8 .5-.8 .5 0 .5-2.2 .5 .8 .5 3 .5-1.6 .5 .2 .5-3.3 .5 3.4 .5-.5 .5-1.9 .5 1.7 .5-.9 .5-2.2 .5 3.6 .5-3.7 .5 3.9 .5-.6 .5-.3 .5-1.1 .5 .9 .5 0 .5 1.7 .5-2.1 .5 .2 .5-1.4 .5 3.1 .5 .5 .5-.4 .5 1.8 .5-2.6 .5-1.5 .5 1.3 .5-1.1 .5 1.6 .5-.2 .5-1.3 .5-3.2 .5 6.1 .5-1.5 .5-3 .5-.5 .5 2.5 .5 .5 .5-.8 .5 .6 .5-1.2 .5 .3 .5 1.7 .5-.7 .5-2.1 .5 1.6 .5 .6 .5 .4 .5 .6 .5-2.8 .5 .5 .5 1.7 .5-.4 .5-1.4 .5-1.1 .5 1.6 .5-.8 .5 1.1 .5-.4 .5 1.4 .5 0 .5-.4 .5-.2 .5-1.6 .5 3.1 .5-2 .5 2.6 .5-3 .5 1.7 .5-1.1 .5 .3 .5 .4 .5 1.1 .5-1.4 .5 .7 .5-.6 .5 .2 .5 1 .5-3.4 .5 1.9 .5 .3 .5-.1 .5-1.3 .5 3.3 .5-.7 .5-1.6 .5 1.2 .5-1.8 .5 1.2 .5-.4 .5-2.8 .5 1.8 .5-.8 .5 1.6 .5-.4 .5 1.1 .5 .4 .5-1.6 .5 .4 .5 2.3 .5-1.1 .5 2.1 .5 .3 .5-2.4 .5 .9 .5-1.8 .5-1.7 .5 3.8 .5-.8 .5-.1 .5-.3 .5-1.1 .5 .3 .5-.2 .5 2 .5-1.9 .5-1 .5-.1 .5 1 .5 1.3 .5-1.7 .5 .1 .5 1.3 .5-.1 .5-1.1 .5 .4 .5 1.2 .5 .4 .5-2.6 .5-1 .5 1.9 .5 .9 .5 .1 .5-2.6 .5 1.7 .5 1.2 .5-1.6 .5 1 .5 .2 .5 .1 .5-3.3 .5 .2 .5 2.8 .5 .7 .5-3 .5 1.9 .5-3.3 .5 2 .5-.1 .5 0 .5-3.4 .5 2.7 .5 2 .5-.3 .5 .8 .5 1.6 .5-2.8 .5-.6 .5 2 .5 1 .5-2.2 .5 1.3 .5-3.2 .5 1.1 .5 1.9 .5 .7 .5-2.5 .5-2.9 .5 4.2 .5-2.3 .5 1.2 .5 .4 .5 .1 .5 1.6 .5-2.9 .5 1.1 .5 .5 .5-1.4 .5 .4 .5 .5 .5-.4 .5 1 .5-2.1 .5 1 .5 .2 .5 .4 .5 3 .5-3.1 .5-.4 .5 .7 .5-.2 .5 2.7 .5-4.7 .5 1.7 .5-2.2 .5 2.3 .5 .3 .5 1 .5 .6 .5-3.1 .5 1 .5 1.5 .5-2.6 .5 2.6 .5 .5 .5-3.3 .5 1.6 .5-.6 .5 0 .5 .2 .5 .5 .5 .2 .5-.4 .5 .7 .5 .1 .5-1.8 .5-.6 .5-.7 .5-1.5 .5 .2 .5 .9 .5 1.6 .5-.4 .5-2.6 .5 1.7 .5-2 .5 1.7 .5-1.3 .5-2.3 .5-1.9 .5-5.9 .5-5.1 .5-3.4 .5-8.2 .5-5.5 .5-11.3 .5-4.8 .5-4.3 .5-1.3 .5 2.8 .5 5.4 .5 4.7 .5 5.2 .5 5.9 .5 2.9 .5 4.1 .5-3.7 .5 2.2 .5 .3 .5 .7 .5-1.7 .5 4.5 .5 5.3 .5 1.6 .5 4.7 .5 1.1 .5 2 .5 2.7 .5 1.9 .5-1.1 .5 5.7 .5-1.8 .5-.2 .5 1 .5 1.4 .5-.4 .5-.5 .5 .2 .5 3.2 .5-5.1 .5 .9 .5 4 .5-1.8 .5-.2 .5 .1 .5 1.1 .5-.5 .5-3.2 .5 3.6 .5-1.2 .5 3.2 .5-4.2 .5 3.5 .5-2.9 .5-.2 .5-1 .5 1.4 .5 1.2 .5-.6 .5 .7 .5 .5 .5-.5 .5 .2 .5 .1 .5-2.8 .5 .7 .5-.1 .5 2.2 .5-.9 .5 .8 .5-2.7 .5 3.2 .5 .4 .5-2.7 .5 1.1 .5 2.1 .5-1.2 .5-.5 .5 1 .5-.2 .5-.9 .5 1.2 .5 .9 .5 1.2 .5-1.7 .5-2.4 .5 2.1 .5 .6 .5 1.1 .5-.5 .5-1 .5-.5 .5 1.5 .5-2.4 .5 2 .5-1.5 .5-1 .5-1.3 .5-.2 .5 2.1 .5 .4 .5 .1 .5-1 .5 .8 .5-.3 .5 1.4 .5-3.6 .5 2.1 .5 1.6 .5-.7 .5-3.2 .5 2.4 .5-1.5 .5 1.4 .5-.7 .5 1.3 .5 1.6 .5-3.3 .5 .2 .5 .8 .5-1.1 .5 1 .5-.5 .5 0 .5 .9 .5-2.8 .5 2.7 .5-.9 .5 3 .5-.7 .5 .5 .5-3.8 .5 1.3 .5-.1 .5 1.1 .5-1.9 .5 1 .5-1.9 .5 1.2 .5 2.1 .5-1.6 .5-1.2 .5 .8 .5 .4 .5-.8 .5 .9 .5 .8 .5-2.3 .5 2.8 .5 .2 .5-.6 .5-3.2 .5 .2 .5 .1 .5 2.4 .5-1 .5-1 .5 1.2 .5-1.7 .5 1.8 .5 .4 .5-.2 .5 1.9 .5-.9 .5-.5 .5-.7 .5-1.1 .5 .8 .5 1.7 .5 .5 .5-1 .5 .1 .5 .1 .5-2.8 .5 1.6 .5-.6 .5 1.8 .5-1.8 .5 1.1 .5-.7 .5-.6 .5 3.4 .5-1 .5-1.2 .5-1.8 .5-.5 .5 .2 .5-.2 .5 .5 .5 1.1 .5 .8 .5-1.1 .5 .8 .5-.6 .5-.4 .5-1.4 .5-1.3 .5 1.5 .5-.6 .5 .3 .5-.8 .5-2.2 .5 3.3 .5-3.1 .5 .6 .5-.9 .5-1.1 .5 1.6 .5-3.3 .5 .4 .5-.1 .5-.6 .5 0 .5 1.3 .5-2.4 .5 2 .5-2.7 .5-1.1 .5 4.7 .5-3.2 .5 2.7 .5-1.3 .5-.3 .5 0 .5 .8 .5 2.3 .5 1.7 .5-1.2 .5 2.6 .5-1 .5-1 .5 1 .5 1.1 .5 .1 .5 1.8 .5 .3 .5-2.3 .5 2.4 .5-3.3 .5 .5 .5 1.3 .5 1.6 .5 2.5 .5-1.9 .5 1.7 .5-2.1 .5 1.3 .5-1.4 .5 .6 .5-2.8 .5 1.5 .5 2.1 .5-1.7 .5-.4 .5 1.2 .5 .9 .5 2.7 .5-1.3 .5-.4 .5-.8 .5-1.6 .5-1.6 .5 3.4 .5-1.4 .5 .5 .5-1 .5 1.4 .5-.1 .5-2.2 .5 3.2 .5-.6 .5 0 .5 .8 .5-1.6 .5-.9 .5 1.7 .5-.5 .5 .7 .5-1.3 .5 1.9 .5-2.6 .5 1 .5-1.7 .5 .2 .5 .4 .5 3.2 .5-2.6 .5 2.1 .5-1.7 .5 2.5 .5-.9 .5-1.9 .5 1.1 .5-3.6 .5 4.9 .5-1.2 .5 .3 .5-1.4 .5-1.1 .5-.2 .5 1.4 .5-.1 .5 .1 .5-.9 .5 1.2 .5 0 .5 .6 .5-1.8 .5 5.5 .5-3.7 .5 1.3 .5-1.2 .5-.9 .5 2.3 .5-1.9 .5 .8 .5-2.3 .5 3 .5-.6 .5-.9 .5 .5 .5-2.4 .5 2.5 .5-.7 .5-.8 .5 2.6 .5-1.3 .5 1.6 .5-.5 .5 .1 .5-.4 .5 .5 .5 .4 .5-2.6 .5 .5 .5 2.2 .5-2 .5 .4 .5-2.2 .5 .3 .5 .7 .5-1.3 .5 2.9 .5-1.3 .5 .7 .5 2.3 .5-3 .5-2.1 .5-.7 .5 3.8 .5-1.1 .5-2.1 .5 1.9 .5 .7 .5 .2 .5-1.3 .5 1.1 .5-.5 .5 2.1 .5-.1 .5 1.3 .5 .6 .5-2.4 .5-1 .5 .6 .5 .1 .5 .7 .5-1.4 .5-1.1 .5 .8 .5-1.8 .5 1.8 .5 .2 .5 .6 .5 .2 .5-.1 .5-1.9 .5 1.5 .5 .4 .5 0 .5 3.8 .5-3 .5-1.1 .5-.9 .5 1 .5-.5 .5-.1 .5 1.4 .5-.5 .5-2 .5-.4 .5 2.5 .5-1.6 .5 2.3 .5-2.2 .5 .7 .5 1.3 .5-1.3 .5-.7 .5-.7 .5 2.4 .5-.3 .5 0 .5-2.5 .5 2.1 .5-.4 .5 2.7 .5-2.2 .5 .1 .5 .7 .5 .3 .5-1.6 .5-.7 .5 1.2 .5 1.4 .5 0 .5-2.4 .5-1 .5 .6 .5 1.4 .5-2.7 .5 2.8 .5-1.6 .5-1.5 .5 4.4 .5-2.2 .5-1.5 .5 1.2 .5 .8 .5-.8 .5-1.3 .5 .2 .5-.1 .5 1.6 .5-.7 .5 2.9 .5 .4 .5 .4 .5-1.9 .5-.7 .5-1 .5 1.8 .5-1 .5 1.3 .5 0 .5 .5 .5-3.1 .5 3 .5-3.1 .5 1.3 .5-1.3 .5 2.5 .5-1.2 .5-1 .5-.1 .5-.2 .5 3.4 .5-1.2 .5-2.5 .5 1.3 .5 .2 .5-.3 .5-.7 .5 1.9 .5-1.5 .5 1.1 .5-.2 .5 .5 .5-.3 .5 1.9 .5-.4 .5-.6 .5-1.9 .5-.2 .5 0 .5 .6 .5-.3 .5 1 .5-.5 .5 .9 .5-.9 .5-.4 .5 .7 .5 1.6 .5-1 .5-.5 .5 2.1 .5-1.1 .5 1.4 .5-1.3 .5-1.1 .5 .1 .5-.3 .5-1.9 .5-.7 .5 2.7 .5 .4 .5-.1 .5 1.5 .5-1.3 .5 1.2 .5-.3 .5 .7 .5-.6 .5 .6 .5 0 .5-2.4 .5 1.8 .5-2.5 .5 1.6 .5 .8 .5-2.5 .5-.3 .5 1.5 .5 1.2 .5-.3 .5-.3 .5-1.7 .5 .7 .5 1.3 .5-.9 .5 .4 .5 1.4 .5 .7 .5-2.4 .5 1.4 .5 .1 .5-2.8 .5 0 .5-.7 .5 2.6 .5-1.3 .5 .5 .5-.4 .5-1.7 .5 2.2 .5-.6 .5 .6 .5 .6 .5 1.7 .5-4.5 .5 2.4 .5-.2 .5-.9 .5 .3 .5 1.8 .5-1 .5-2.5 .5 .2 .5 3 .5-.1 .5-.4 .5-.6 .5-.4 .5 2.4 .5 .4 .5-3.1 .5 .7 .5-1.8 .5 3.2 .5 1.5 .5-2 .5 .6 .5-2.4 .5 2 .5-.6 .5 2.3 .5-1 .5-1.3" stroke="#ff00ff" stroke-width="3.6"/>
</g>
<g stroke="#0a0a0a" stroke-width="5.7" stroke-dasharray="9.4 11.4" fill="none">
<line x1="669.0" y1="1353.6" x2="669.0" y2="890" stroke-dashoffset="1.6"/>
<line x1="822.3" y1="1353.6" x2="822.3" y2="890" stroke-dashoffset="1.6"/>
<line x1="1320.0" y1="1353.6" x2="1320.0" y2="890" stroke-dashoffset="1.6"/>
<line x1="1639.2" y1="1353.6" x2="1639.2" y2="890" stroke-dashoffset="1.6"/>
<line x1="1742.2" y1="1353.6" x2="1742.2" y2="890" stroke-dashoffset="1.6"/>
</g>
<rect x="219.5" y="97.3" width="1707.8" height="1255.4" fill="none" stroke="#000" stroke-width="6"/>
<g stroke="#000" stroke-width="5.6">
<line x1="341.5" y1="1352" x2="341.5" y2="1337.0"/>
<line x1="463.5" y1="1352" x2="463.5" y2="1325.0"/>
<line x1="585.5" y1="1352" x2="585.5" y2="1337.0"/>
<line x1="707.4" y1="1352" x2="707.4" y2="1325.0"/>
<line x1="829.4" y1="1352" x2="829.4" y2="1337.0"/>
<line x1="951.4" y1="1352" x2="951.4" y2="1325.0"/>
<line x1="1073.4" y1="1352" x2="1073.4" y2="1337.0"/>
<line x1="1195.4" y1="1352" x2="1195.4" y2="1325.0"/>
<line x1="1317.4" y1="1352" x2="1317.4" y2="1337.0"/>
<line x1="1439.3" y1="1352" x2="1439.3" y2="1325.0"/>
<line x1="1561.3" y1="1352" x2="1561.3" y2="1337.0"/>
<line x1="1683.3" y1="1352" x2="1683.3" y2="1325.0"/>
<line x1="1805.3" y1="1352" x2="1805.3" y2="1337.0"/>
</g>
</g>
<g font-family="'Liberation Serif', 'DejaVu Serif', serif" style="font-kerning:none" stroke="#fdfdfd" stroke-width="0.6" stroke-linejoin="round" font-size="88" letter-spacing="0.4" fill="#000" text-anchor="middle">
<text x="217.5" y="1446.8">20°</text>
<text x="461.5" y="1446.8">30°</text>
<text x="705.4" y="1446.8">40°</text>
<text x="949.4" y="1446.8">50°</text>
<text x="1193.4" y="1446.8">60°</text>
<text x="1437.3" y="1446.8">70°</text>
<text x="1681.3" y="1446.8">80°</text>
<text x="1925.3" y="1446.8">90°</text>
</g>
<text transform="translate(1040 1571.6) scale(0.84 1)" font-family="'Liberation Serif', 'DejaVu Serif', serif" style="font-kerning:none" font-size="90" font-weight="bold" font-style="italic">2</text>
<text transform="translate(1082.5 1572) skewX(-9) scale(1.13 1)" font-family="'Liberation Serif', 'DejaVu Serif', serif" style="font-kerning:none" font-size="88" font-style="italic" stroke="#000" stroke-width="0.9" stroke-linejoin="round">θ</text>
<text transform="translate(88.6 780.2) rotate(-90)" font-family="'Liberation Serif', 'DejaVu Serif', serif" style="font-kerning:none" font-size="86.6" font-weight="bold" text-anchor="middle" stroke="#fbfbfb" stroke-width="0.8" stroke-linejoin="round">Intensity(a. u.)</text>
<g font-family="'Liberation Serif', 'DejaVu Serif', serif" style="font-kerning:none" stroke="#fdfdfd" stroke-width="0.6" stroke-linejoin="round" fill="#000">
<circle cx="265.9" cy="153.4" r="13.2" fill="none" stroke="#000" stroke-width="3"/>
<text x="311.8" y="196.4" font-size="87.6">Al</text>
<text transform="translate(261.9 305.3) scale(1.08 1.02)" text-anchor="middle" font-size="72">Δ</text>
<text x="302.8" y="306.4" font-size="87.6">Al<tspan font-size="57" dy="32.5" dx="-1.5">2</tspan><tspan dy="-32.5" dx="-0.5">Cu</tspan></text>
</g>
<g font-family="'Liberation Serif', 'DejaVu Serif', serif" style="font-kerning:none" stroke="#fdfdfd" stroke-width="0.6" stroke-linejoin="round" font-size="68.4">
<text x="247.4" y="939.2" fill="#ff00ff">CMT-PADV</text>
<text x="245.4" y="1060" fill="#0000ff">CMT-P</text>
<text x="240.4" y="1173.8" fill="#ff0000">CMT-ADV</text>
<text x="242.4" y="1283" fill="#000">CMT</text>
</g>
<g font-family="'Liberation Serif', 'DejaVu Serif', serif" style="font-kerning:none" stroke="#fdfdfd" stroke-width="0.6" stroke-linejoin="round" font-size="72" fill="#000" text-anchor="middle">
<text transform="translate(239.8 822.9) scale(1.07 1.01)">Δ</text>
<text transform="translate(451 870) scale(1.07 1.01)">Δ</text>
<text transform="translate(648.4 861.2) scale(1.07 1.01)">Δ</text>
<text transform="translate(761 875.9) scale(1.07 1.01)">Δ</text>
<text transform="translate(890 875.9) scale(1.07 1.01)">Δ</text>
</g>
<g fill="none" stroke="#000" stroke-width="3.1">
<circle cx="671.8" cy="308.8" r="12"/>
<circle cx="825.1" cy="293.4" r="12"/>
<circle cx="1645.7" cy="697.0" r="12"/>
<circle cx="1751" cy="861.2" r="12"/>
</g>
<rect x="1204" y="104" width="718" height="570.5" fill="#fdfdfd"/>
<g filter="url(#soft2)">
<g clip-path="url(#ci)" fill="none" stroke-linejoin="round" stroke-linecap="round">
<path d="M1227 548.8l.6-.6 .6-1.6 .6 1.3 .6 .9 .6-1 .6 1.2 .6-.7 .6-.1 .6-.3 .6-1 .6 .6 .6 1.3 .6-1.7 .6 .4 .6 1.7 .6-.3 .6-1.2 .6 .4 .6 .8 .6-.1 .6-2.7 .6 2.2 .6 0 .6-.9 .6 .6 .6-1.8 .6 1.6 .6-.8 .6 1.5 .6 .6 .6-2.2 .6-.5 .6-.2 .6-.2 .6-1.7 .6-.1 .6 .6 .6-2 .6 .5 .6-.1 .6-2.4 .6-.3 .6 1.7 .6 1.1 .6 .1 .6-.4 .6 3.1 .6-.8 .6 1.1 .6-1.7 .6 1.9 .6 1.1 .6-1.6 .6 .4 .6 1 .6-.8 .6 .1 .6 1.6 .6-1.1 .6 .4 .6-.6 .6 .7 .6-.1 .6-1.2 .6 1.8 .6-.4 .6-.3 .6-.8 .6 1.4 .6-.5 .6-.1 .6 .4 .6-.4 .6-.4 .6 .8 .6-2.3 .6 2.2 .6 .5 .6-.9 .6 1.1 .6-1.8 .6 .9 .6 1.5 .6-1.5 .6-1 .6 1.7 .6-.6 .6-.8 .6-1.2 .6 1.5 .6 .1 .6-.2 .6-.8 .6-1.1 .6 .2 .6-2.7 .6-1.2 .6-1.2 .6-1.9 .6-1.1 .6-2.7 .6-.5 .6-1.3 .6-.6 .6-2.7 .6 1.5 .6-.3 .6 1.7 .6 1.4 .6 0 .6 3.5 .6 .3 .6 3 .6 1.1 .6 2.9 .6 1.1 .6-1.7 .6 1.6 .6 1.1 .6 .2 .6-.3 .6-.1 .6-.7 .6 1.6 .6 .5 .6-.5 .6-.9 .6 1.2 .6-.2 .6 0 .6-.1 .6-1.3 .6 2.5 .6-.5 .6-.9 .6-.4 .6-1 .6 2.5 .6-.1 .6-1 .6 .3 .6 1 .6-2.1 .6 1.7 .6 0 .6 .7 .6 .7 .6-1.8 .6-1.6 .6 1.7 .6-.4 .6 0 .6 1.3 .6-.5 .6-1.2 .6 2 .6-.8 .6-1.3 .6 1.4 .6 .3 .6-.3 .6-.5 .6-.8 .6 .9 .6-2.5 .6 2.7 .6 .7 .6-1.5 .6-.5 .6 1.5 .6 .4 .6 .3 .6 .8 .6-1.8 .6 1.3 .6-1.2 .6 0 .6-1.2 .6 2.2 .6-1 .6 .6 .6-1.4 .6 .9 .6 .1 .6-.4 .6 .1 .6-.9 .6 1.1 .6-1.4 .6 .7 .6-.4 .6 .6 .6 .3 .6-1.4 .6 1.2 .6-1.3 .6 1.3 .6 .7 .6 .7 .6 .7 .6-1.1 .6 .7 .6-1.8 .6 1.7 .6-1.8 .6 3.3 .6-2.8 .6 .3 .6 1 .6-.8 .6-.5 .6 .6 .6-.1 .6-1.7 .6 .6 .6 .3 .6 .4 .6 .2 .6-.9 .6 .8 .6-.4 .6 .1 .6 .8 .6-1.5 .6 1.9 .6-.6 .6-1.2 .6 1.4 .6-1.6 .6 1.3 .6-.4 .6 1 .6-.4 .6-2.3 .6 1.1 .6 1.9 .6-1.2 .6 .8 .6-1.3 .6 .5 .6 .3 .6 0 .6 .1 .6-.5 .6-.6 .6 .2 .6 1.7 .6-1.8 .6-.5 .6 2 .6-.5 .6-.4 .6 1 .6-2 .6 .6 .6 .7 .6-.4 .6 .4 .6 .8 .6 .2 .6-2.7 .6-.9 .6 1.9 .6-.3 .6 .4 .6 .6 .6-.7 .6 1.2 .6-1.1 .6 .3 .6 .2 .6 .5 .6-1.7 .6 2.2 .6-2.5 .6 1.2 .6-.8 .6 1.1 .6 .1 .6-.3 .6 .3 .6-.9 .6 .8 .6-.1 .6-.9 .6 1.1 .6-1.3 .6 1.7 .6-1.9 .6 1.1 .6-.3 .6 .3 .6 .1 .6-1 .6 1.1 .6 .4 .6-.1 .6-1.5 .6-.1 .6 1.8 .6-.8 .6 .5 .6-.8 .6 .1 .6 .8 .6-1.5 .6 .2 .6-.5 .6 2.1 .6-3.1 .6 .4 .6 .8 .6 .9 .6-1.9 .6 .5 .6-.7 .6 1.5 .6-.5 .6-.4 .6 .9 .6-2 .6 3.4 .6-2.7 .6 .8 .6-1.4 .6 .3 .6 .4 .6-.3 .6 2.1 .6-.7 .6-.3 .6-.2 .6-.7 .6 1.6 .6-1.1 .6 .1 .6-1.4 .6 .4 .6 2.3 .6-1.9 .6 1.3 .6-.5 .6-.4 .6 1.5 .6-.4 .6-.3 .6-.2 .6 .2 .6 1.6 .6-.5 .6 .4 .6-2.1 .6 2.2 .6 .4 .6-.8 .6-.6 .6 1.2 .6-1.3 .6 1.6 .6-1.3 .6 1.1 .6-.3 .6-.5 .6 1.3 .6-2.5 .6 .7 .6 .8 .6-.5 .6-1.7 .6 1.8 .6 .3 .6-.1 .6-1.1 .6 1.3 .6-.7 .6 .9 .6-1.7 .6 .5 .6-.3 .6 .6 .6-.1 .6-.1 .6-.5 .6 .5 .6 0 .6-1.8 .6 2.4 .6-.3 .6 0 .6 .3 .6 .6 .6-.5 .6 .1 .6-.2 .6 .2 .6-.2 .6 0 .6-1.8 .6-.3 .6 2.3 .6-.3 .6-.7 .6 1.2 .6 .6 .6-2 .6 2.2 .6-1.7 .6-.2 .6-.1 .6-.1 .6 1.5 .6-1.7 .6 .6 .6 .3 .6 1 .6-2.6 .6 1.7 .6-1.4 .6 .2 .6 1.8 .6-.9 .6 .9 .6 .8 .6-.9 .6 .2 .6 .1 .6 .1 .6-.6 .6 .4 .6 .3 .6-.7 .6 .2 .6 1.5 .6-.4 .6 .1 .6-.5 .6-1.6 .6 .6 .6-1.2 .6 .5 .6 .3 .6-.3 .6 1 .6-1.5 .6-1.2 .6 1.9 .6-1.5 .6 .4 .6-.2 .6-.5 .6-.6 .6 3.2 .6-1.7 .6 1.1 .6-1.6 .6 .4 .6-.3 .6-.2 .6-.2 .6 0 .6 .6 .6 .2 .6-1.8 .6 3.2 .6-2.2 .6 1.2 .6-.6 .6-.1 .6 .5 .6-.1 .6 .8 .6-2.1 .6 1 .6-.1 .6 .1 .6 1.7 .6-1.5 .6 .2 .6 .9 .6-1.9 .6 1.4 .6-.2 .6 .7 .6-.2 .6-.1 .6 .9 .6-.2 .6-.6 .6-1.5 .6 1 .6 .3 .6-.2 .6 0 .6 .7 .6 0 .6 .1 .6 0 .6-.4 .6-.7 .6 .6 .6-.7 .6 1 .6 .1 .6 .1 .6 1.5 .6-1.3 .6-1.1 .6 .5 .6 1.2 .6-1.7 .6 1.9 .6-.5 .6-.1 .6 .1 .6 .3 .6-1.4 .6-.4 .6 1.9 .6-1.3 .6 3 .6-3 .6 1.3 .6-2 .6 1.5 .6 .6 .6-.5 .6 .1 .6-.5 .6 1 .6-2.2 .6 .4 .6 .8 .6-.2 .6-.5 .6 .3 .6 1.1 .6-.3 .6-.2 .6-1 .6 1.5 .6-.6 .6-.3 .6 1.4 .6-1 .6-1.4 .6 .4 .6 .5 .6-.2 .6 0 .6 .5 .6 .8 .6-1 .6-.9 .6 .5 .6 .2 .6 1.5 .6-1 .6-.3 .6 .5 .6-.3 .6-2.4 .6 3 .6-1.4 .6 .8 .6-.7 .6 .9 .6 .4 .6-.9 .6 2.4 .6-1.5 .6 .8 .6-.6 .6-.7 .6-.3 .6 .4 .6 0 .6 .3 .6-.4 .6-.5 .6 1.1 .6-1.3 .6 1.3 .6-1.1 .6 1.6 .6-.4 .6-.6 .6-.3 .6-.9 .6 1.2 .6-.7 .6-.7 .6 1.3 .6-.1 .6-.3 .6-.3 .6-.1 .6 1.8 .6-.7 .6-1.5 .6 1 .6 0 .6-.4 .6 2.6 .6-1.1 .6-2.3 .6 1.6 .6 .3 .6 .4 .6-1.5 .6-.2 .6-.4 .6 2.1 .6 0 .6-.3 .6 .1 .6-1.4 .6 1 .6 0 .6-.4 .6-.4 .6-1 .6 1.9 .6 0 .6-.7 .6 .3 .6-1.3 .6 0 .6 .7 .6 .7 .6 .9 .6-1.1 .6 2.1 .6-1.9 .6-.8 .6 1.1 .6-1.3 .6 2.3 .6-1.6 .6-.2 .6 1.5 .6 .3 .6-2.3 .6 .5 .6 1.6 .6-2.8 .6 .8 .6 1.5 .6-.1 .6 1 .6-1.7 .6 .4 .6-.4 .6 2.1 .6-.5 .6-.6 .6-.4 .6-1.7 .6 2 .6-.3 .6-.4 .6-1 .6 1.3 .6 .3 .6-.7 .6 1.8 .6-.6 .6-1 .6-1.1 .6 0 .6-.1 .6-.6 .6 .6 .6-.1 .6-.7 .6 2.8 .6-1.6 .6-.5 .6 .9 .6-.2 .6 0 .6 .5 .6-1.7 .6 1.9 .6 0 .6 .4 .6 .2 .6-.7 .6-2 .6 2.2 .6-1.9 .6 1.7 .6 .9 .6-.6 .6-.3 .6-.5 .6 1.1 .6-.8 .6 1.6 .6-.4 .6-.6 .6-1.2 .6 1.5 .6-.8 .6-.5 .6 .6 .6-.5 .6-.9 .6 .8 .6 .3 .6 .1 .6-.9 .6 1.9 .6-2.6 .6 2.1 .6 .3 .6-1.5 .6 .9 .6 .9 .6-2.8 .6 1.6 .6-1.2 .6-.3 .6 1.5 .6-.2 .6 .8 .6-1.9 .6 1.2 .6-.9 .6 .4 .6 .3 .6-.9 .6 .4 .6-.2 .6 .9 .6-1.5 .6 2.2 .6-.6 .6-.2 .6 .8 .6-1.2 .6 1.1 .6-1.3 .6 .3 .6 1 .6-2.3 .6 1.5 .6-.5 .6 1 .6 1 .6 .3 .6-1.9 .6 1.4 .6-1.6 .6-.5 .6-.9 .6 .5 .6 1 .6-.5 .6 .9 .6-.9 .6-.1 .6 1 .6-.1 .6-.6 .6 0 .6 .2 .6 .2 .6 1.8 .6-2.6 .6 2.5 .6-1.1 .6-1.2 .6-1 .6-.3 .6-1.1 .6 1.3 .6-3.5 .6-1 .6-1 .6-2.3 .6-1.5 .6-2.1 .6-3.3 .6-1.8 .6-1 .6-.5 .6-.7 .6 1.7 .6 2.7 .6 1.4 .6 1 .6 1.3 .6 2.6 .6-.7 .6 .7 .6 .1 .6 .2 .6 .2 .6 .4 .6 1.2 .6 1.2 .6 .3 .6 .9 .6 .9 .6 .2 .6-.3 .6 1.6 .6 1.1 .6 1.1 .6-.3 .6-.2 .6 .7 .6 .1 .6 0 .6 1.3 .6-1.3 .6-.7 .6 2.2 .6-2.3 .6 .2 .6 1.5 .6-.5 .6-.5 .6 1.6 .6-.7 .6 .2 .6-2.1 .6 2.3 .6-1 .6-.1 .6 1.5 .6-1.5 .6 1.7 .6-1 .6 .8 .6 0 .6-1.3 .6-.2 .6 .9 .6 .7 .6-.7 .6-.5 .6 .3 .6 .9 .6-1.1 .6 .2 .6-.6 .6-.2 .6-.4 .6 1.1 .6-.7 .6 .6 .6-.2 .6 .2 .6 1.1 .6-.7 .6-.4 .6 .7 .6-1 .6-1.9 .6 2.3 .6 0 .6 .5 .6 0 .6-.4 .6-1.2 .6-.2 .6-.5 .6 2.4 .6-1.4 .6 .9 .6-1.5 .6 1.5 .6-1.7 .6 3.2 .6-1 .6 .1 .6-1.3 .6 1.2 .6-.7 .6-.4 .6 .9 .6-.9 .6-1.2 .6 2 .6-.9 .6 1.6 .6-1.1 .6-.4 .6-.9 .6 2.3 .6-1.2 .6 .5 .6-1.3 .6 .3 .6 .2 .6-1.7 .6 1.7 .6-.5 .6 0 .6-.8 .6 1.5 .6-1.6 .6-.6 .6 1 .6-.7 .6-.4 .6 1.1 .6 .2 .6-1.1 .6-.1 .6 2.6 .6-3.3 .6 1 .6-.3 .6 .7 .6-.3 .6 .8 .6-.6 .6-.1 .6-.5 .6 .1 .6 .1 .6-2 .6 1.6 .6 1.7 .6-1.3 .6 .5 .6 2.3 .6-2.1 .6-.4 .6 .5 .6 1.2 .6 .1 .6-1.1 .6-.8 .6 1.5 .6 .8 .6-1.2 .6-1.5 .6 1.1 .6 2 .6-.5 .6-.5 .6 .7 .6-.4 .6 .3 .6-.2 .6 0 .6-.2 .6 1.8 .6-2.3 .6 .9 .6 .2 .6-.7 .6 .5 .6 1.7 .6 .9 .6-1.5 .6 1.5 .6-4.3 .6-.5 .6 1.2 .6 3.7 .6-2 .6 1.4 .6-1 .6-1.2 .6 .3 .6-.5 .6 .5 .6-1 .6 .4 .6 1.9 .6 .1 .6-.8 .6-.7 .6 0 .6-.6 .6 .4 .6 1.1 .6-2.5 .6 .7 .6-.4 .6 0 .6-1.1 .6 .3 .6 1.1 .6-.1 .6-.7 .6-.3 .6-.6 .6 .2 .6-.9 .6 1.6 .6 .5 .6-.5 .6-.1 .6 .5 .6-.3 .6 1.4 .6-1.6 .6 .3 .6 .2 .6 .5 .6 .7 .6-.1 .6-.2 .6-.1 .6-1 .6 2.2 .6-.6 .6-2.6 .6 2.4 .6-1.2 .6 1.2 .6-.3 .6 1.2 .6-.6 .6 1.7 .6-.9 .6-.9 .6-.1 .6-.8 .6 1.4 .6-1 .6 .6 .6 .2 .6-.9 .6 .5 .6 0 .6 .2 .6 0 .6 .3 .6 0 .6 .2 .6-.4 .6 1.6 .6-.8 .6-.4 .6 0 .6 .9 .6 .3 .6-1.7 .6 .6 .6-1.1 .6 .9 .6-.5 .6-.1 .6-1 .6 1.2 .6-1 .6 .9 .6-.2 .6-.6 .6 1 .6-.5 .6 .4 .6 1 .6-2.2 .6 .4 .6 .2 .6 .5 .6 .4 .6 0 .6-.1 .6-1.1 .6 1.1 .6-1.4 .6 1.3 .6-.3 .6-1.3 .6 .9 .6 .4 .6-.8 .6-.1 .6 .2 .6 .7 .6-.5 .6-1.5 .6 .5 .6-.4 .6 1.8 .6 .3 .6-.7 .6-1.5 .6 2.2 .6-1.8 .6 1.4 .6 0 .6-1.3 .6 1.3 .6-.4 .6 1.5 .6-.3 .6-.1 .6-2 .6 .7 .6-1.3 .6 1.6 .6-.3 .6-1.5 .6 1 .6 0 .6 .1 .6-.5 .6 .7 .6 .4 .6-.1 .6-.3 .6-.1 .6-.8 .6 1.7 .6 0 .6 .3 .6 0 .6-2 .6 1.4 .6-1.3 .6 .4 .6-1.6 .6 2.3 .6 1" stroke="#000000" stroke-width="4.1"/>
<path d="M1227 477.6l.6 1.1 .6-.6 .6 1 .6 .7 .6 .3 .6-.8 .6-.5 .6 0 .6 .3 .6-1.7 .6 .5 .6 .1 .6-.2 .6 2.2 .6-.7 .6-.2 .6-.2 .6-.1 .6-.3 .6-.4 .6-.1 .6 1.2 .6-1.3 .6 1.1 .6-.2 .6-1.2 .6 1.7 .6-1.2 .6 .9 .6 1 .6-2.6 .6 .4 .6-1.4 .6 .1 .6 .1 .6-.1 .6 1.5 .6-1.3 .6-.5 .6 .3 .6-.7 .6 1.2 .6-.6 .6-1.4 .6 2.5 .6-2 .6-.1 .6-.1 .6 1.3 .6-.2 .6-.7 .6 1.2 .6 .4 .6 0 .6-1.2 .6 .2 .6-.9 .6 1.4 .6 .2 .6-.7 .6 .2 .6 1.2 .6 0 .6 1.5 .6-1.1 .6-1 .6 1.4 .6-1.5 .6 1.4 .6 .9 .6 .1 .6-.9 .6-1 .6-.6 .6 .9 .6-1.1 .6 1.3 .6 1.3 .6 .3 .6-1.4 .6-1.1 .6 .9 .6 .1 .6 1.3 .6-2.3 .6 .9 .6-.4 .6 .8 .6 .2 .6-1.5 .6 .6 .6 .6 .6-.2 .6 1.2 .6-2.1 .6-.9 .6 2 .6-1 .6 .8 .6-1.2 .6 .8 .6-2.4 .6 .8 .6-2.1 .6-.2 .6-2 .6-1 .6-4.4 .6-4.1 .6-4.4 .6-3.3 .6-3.8 .6-2.1 .6-3.8 .6 2.7 .6 1.8 .6 3.1 .6 1.9 .6 3.9 .6 2.2 .6 2.6 .6 1.1 .6 .2 .6-2.3 .6 .8 .6 1 .6-.6 .6 2.9 .6 1.9 .6 1.5 .6 2.1 .6 1.8 .6 2.3 .6-.3 .6-1.6 .6 1.8 .6 .4 .6 2.3 .6-1.2 .6 1.2 .6-.8 .6 .7 .6 .9 .6-2.5 .6 1.5 .6-.9 .6 1 .6 .8 .6-1.4 .6-.3 .6-1 .6 2.3 .6 1 .6-.2 .6-1 .6-1 .6 1.2 .6 1 .6-1.4 .6 .2 .6 .1 .6-.5 .6 .8 .6 .9 .6-1.8 .6 1.2 .6-1.6 .6 .7 .6 1.4 .6-2.1 .6 .5 .6 2.1 .6-.8 .6 .1 .6 .1 .6 .8 .6-2.6 .6 .5 .6-1.3 .6 1.2 .6-.1 .6 0 .6-.9 .6 1.4 .6-.2 .6 0 .6 .2 .6 .4 .6-.4 .6 1 .6-2.1 .6 .1 .6-.3 .6 2.2 .6-1.6 .6 .6 .6-1.5 .6 .3 .6 1.2 .6-.4 .6-.3 .6 .3 .6 1.2 .6-.8 .6-.2 .6 .8 .6-.7 .6 1.1 .6 .2 .6-2.4 .6-.2 .6 1 .6 1.2 .6-2.7 .6 3.5 .6-1.5 .6-.3 .6 .3 .6-.2 .6 .3 .6-.3 .6 .7 .6-1.6 .6 .3 .6-.1 .6 1 .6 .9 .6-.3 .6-1.4 .6 .4 .6 .7 .6-.2 .6-1 .6 1.4 .6 1.2 .6-.8 .6 .4 .6-1 .6-.5 .6-.1 .6-.2 .6 .3 .6 0 .6 .4 .6-.3 .6 .4 .6 .2 .6-1.5 .6 2.7 .6-.4 .6-.3 .6-.4 .6-.4 .6-.2 .6 1.1 .6-.4 .6 .3 .6-1.4 .6-.5 .6 .5 .6 .5 .6 1 .6 .3 .6-.1 .6 .3 .6-1.6 .6 .5 .6-.8 .6 .1 .6-.7 .6-.5 .6 1.1 .6 .6 .6-1.6 .6 1.4 .6-1.2 .6 .7 .6 1.4 .6-.2 .6-.2 .6-.5 .6-1.9 .6 1.8 .6 .4 .6-2.6 .6 2.5 .6 1.4 .6-.9 .6-.1 .6 0 .6-.7 .6 .3 .6-.2 .6-.3 .6-.3 .6-.5 .6 .4 .6 1.5 .6-1.6 .6 1 .6-.4 .6 .5 .6-.3 .6-.3 .6-.2 .6 1.2 .6 .2 .6-.7 .6-.6 .6 1.2 .6-.2 .6-.8 .6-.9 .6-.1 .6 .1 .6 .5 .6-.5 .6-.1 .6-.8 .6 2.4 .6-.9 .6-.3 .6 .8 .6-2.7 .6 .9 .6-.3 .6 1.2 .6-2.3 .6 1.6 .6-.3 .6 .9 .6-1 .6-1 .6 1 .6-1.2 .6 1.5 .6 1.6 .6 .5 .6-1.2 .6-.1 .6-.1 .6-.8 .6 .1 .6-.4 .6 1.5 .6 .1 .6-.4 .6-1 .6-.6 .6 1.9 .6-1.3 .6 .4 .6-.3 .6 2 .6-1.3 .6-.1 .6 1 .6 .3 .6-.4 .6-.4 .6-.6 .6 .2 .6 1.1 .6-1.8 .6 1.1 .6-.5 .6 1.4 .6-1.1 .6 .9 .6-.3 .6-1.1 .6 1.6 .6 .4 .6-1.3 .6 2.5 .6-.8 .6-.6 .6-.8 .6-.8 .6 1.7 .6 .3 .6-1 .6 .1 .6 2 .6-2.3 .6 .8 .6-.4 .6-.7 .6 1.5 .6-.1 .6 .3 .6-1.4 .6 .6 .6 .2 .6 0 .6-1.8 .6 0 .6 1.3 .6-.5 .6 1.9 .6-1.8 .6 1.3 .6-.6 .6 .1 .6-1.4 .6 .3 .6 1.9 .6-.5 .6-.4 .6-2 .6 2.4 .6-.9 .6-.6 .6-.1 .6 .7 .6 .4 .6-.2 .6-.3 .6-.7 .6 1.6 .6-.6 .6 1.2 .6-.9 .6-1.4 .6 .9 .6-.6 .6 1.3 .6 1.3 .6-1.2 .6-.9 .6 1.1 .6-1.1 .6 2.3 .6-1.2 .6 .2 .6-1.8 .6 .7 .6 1.4 .6-1.3 .6-.8 .6 .2 .6 .5 .6 .6 .6-1.7 .6 1.7 .6 .5 .6-2.1 .6 .1 .6 .2 .6 1.4 .6-1.2 .6-.3 .6-1.3 .6 1.4 .6 .5 .6 .2 .6-.9 .6-1.4 .6 0 .6 .1 .6 2.1 .6 .1 .6-2.1 .6 1 .6-.9 .6-.2 .6 .7 .6-1.3 .6-.2 .6 1.4 .6-1.8 .6 1.4 .6 .8 .6-2.3 .6 1.6 .6 .3 .6-.8 .6 .8 .6-.5 .6-.2 .6 1.6 .6-.3 .6-.7 .6 1 .6-.8 .6 .4 .6 .4 .6-1.6 .6 1.1 .6 2.4 .6-.8 .6-1 .6-.5 .6 .8 .6-.3 .6-1.2 .6 1 .6 1.5 .6 .8 .6-2.3 .6 2.1 .6-2.4 .6 1.3 .6 .5 .6-.6 .6 .1 .6 .7 .6 0 .6-1.9 .6 1.4 .6-.1 .6-2.2 .6 1 .6 1 .6 0 .6 0 .6 .2 .6-.3 .6 .2 .6 1 .6-1.3 .6 .7 .6 .2 .6-.5 .6 .3 .6 .4 .6-.5 .6 .8 .6-1.5 .6 .9 .6-.4 .6 .2 .6-1.3 .6 1 .6 .2 .6-.5 .6-.3 .6-.3 .6-.4 .6 1.4 .6 .6 .6 .5 .6-1.7 .6-1.4 .6 1.7 .6-.1 .6 .9 .6-.2 .6 1 .6-1.2 .6-1.2 .6 .6 .6 1.2 .6-1.3 .6 .1 .6 0 .6 1.4 .6-.3 .6-.8 .6 .9 .6-.7 .6 .2 .6 2 .6-.8 .6-1.8 .6 1 .6-.5 .6 1.9 .6-3 .6 1.2 .6 0 .6 1.4 .6-.9 .6 .8 .6-1.9 .6-.3 .6 1.3 .6-1.9 .6 1.6 .6-.4 .6-.9 .6 .8 .6 .7 .6-.3 .6-.9 .6 .3 .6 .7 .6 0 .6 .2 .6 1.1 .6-1.2 .6-.3 .6 1.4 .6-2.6 .6 2.1 .6-.1 .6-1.5 .6 1.4 .6-.3 .6 1 .6-.1 .6-1.2 .6 .5 .6-.1 .6 .5 .6-.4 .6-.4 .6-1.7 .6 1.2 .6 .4 .6 .2 .6-1.8 .6 1.3 .6 .8 .6-.1 .6-1.1 .6 1.7 .6-1.2 .6-1.7 .6 0 .6 1.7 .6-.1 .6 1.2 .6-1.6 .6 0 .6 .6 .6 .2 .6-.7 .6-.2 .6 .8 .6-1.5 .6 .3 .6 .9 .6-.4 .6 .3 .6 .6 .6-.3 .6-.1 .6-1.8 .6 1.2 .6 .7 .6-.1 .6 .4 .6 .2 .6-1.5 .6-.2 .6 1.3 .6-.3 .6-.9 .6 1.2 .6-.9 .6 1.3 .6-1.4 .6 1.3 .6-1 .6 .2 .6 .5 .6 0 .6 .2 .6-.8 .6 .9 .6-1.3 .6 1.4 .6-.2 .6 0 .6 .4 .6-2.1 .6 .8 .6-.9 .6 .7 .6-.1 .6 1.7 .6-.1 .6-1.6 .6 1.5 .6 .2 .6-.6 .6-.4 .6-.9 .6 2.2 .6-.8 .6-1.2 .6 1.8 .6-.1 .6-.9 .6 1.5 .6-1.5 .6 1.5 .6-2.7 .6 .9 .6 .5 .6 .7 .6-.1 .6-.9 .6 .4 .6-.4 .6 .5 .6-.5 .6-.6 .6 .7 .6 .7 .6 .6 .6-2.1 .6 1.1 .6-.2 .6-.2 .6-.1 .6-1 .6 .6 .6 1.2 .6-1.2 .6 1.1 .6-2 .6 2.1 .6-1.1 .6-1.3 .6 1.9 .6 .5 .6-.9 .6 .1 .6-1.2 .6 .8 .6-.8 .6 1.5 .6-.9 .6 .8 .6-.4 .6-1.9 .6 2.8 .6 .3 .6-.1 .6-1.2 .6-.2 .6 1.2 .6-1.4 .6 1 .6 1.1 .6-.6 .6-1.9 .6 1.1 .6-.6 .6 .9 .6 1.9 .6-1.7 .6 1 .6-2.7 .6 1.1 .6 .2 .6-.4 .6-1 .6 .4 .6 .1 .6-.2 .6 .9 .6 .8 .6-1 .6-1 .6-.8 .6 1.2 .6-.7 .6 .7 .6-.8 .6 1.1 .6 .3 .6 .1 .6 1.5 .6-.4 .6-1.3 .6-.3 .6 .2 .6 .7 .6-2.2 .6 1.4 .6-1.2 .6 .2 .6-1.8 .6-.4 .6-.4 .6-.9 .6-2.1 .6-2.3 .6-3.4 .6-3.4 .6-5.2 .6-2.8 .6-5.4 .6-2.3 .6-1.9 .6 0 .6 .5 .6 4 .6 3.9 .6 2.9 .6 3.1 .6 2.8 .6 1.4 .6-.9 .6 1.7 .6-1.8 .6-1.2 .6 2 .6-1.2 .6 2.7 .6 0 .6 3.8 .6 1.3 .6 2.8 .6 .6 .6 1.3 .6 .3 .6 0 .6 1.7 .6 .3 .6 1.7 .6-.9 .6-1.2 .6 1.2 .6-1.3 .6 1.5 .6 .1 .6-.8 .6 1.4 .6-.4 .6 1.6 .6-.9 .6-1.2 .6 1.1 .6-.8 .6 .8 .6 .3 .6-1.1 .6 .5 .6 1 .6-.9 .6-.8 .6 .6 .6 .1 .6-.3 .6 .7 .6-1.9 .6 .4 .6-.3 .6 2.1 .6 .6 .6-1.3 .6 .7 .6 1.8 .6-2.5 .6-.3 .6 1.2 .6-.2 .6-1.1 .6 .3 .6 .3 .6 1.4 .6-1 .6 1 .6-.2 .6 .3 .6-.7 .6-1.9 .6 1.6 .6 0 .6-.5 .6-.5 .6-.2 .6 1.5 .6-.8 .6-.4 .6-.4 .6 .7 .6 .5 .6-.6 .6 .1 .6 1 .6 .8 .6-1.1 .6-.7 .6 .4 .6-.9 .6 .9 .6-.2 .6 .2 .6-.6 .6-1.3 .6 .7 .6 1.6 .6-.5 .6-.2 .6-1 .6-.4 .6 .3 .6 .5 .6-.3 .6 .9 .6-.2 .6 .2 .6-1.4 .6-.6 .6-.3 .6 .4 .6 .7 .6 .3 .6-.6 .6 .5 .6-.1 .6-.6 .6-.1 .6-.4 .6 1.3 .6-1.1 .6 1.6 .6-.6 .6-.5 .6 .5 .6 0 .6-.8 .6 .4 .6-1.9 .6 .5 .6 .6 .6 .9 .6-.5 .6 .1 .6 .8 .6-1.5 .6 1.9 .6-.5 .6 0 .6 .2 .6 0 .6-1.6 .6 1.2 .6 .3 .6 1 .6 .4 .6 .6 .6-1 .6-1.4 .6 2.2 .6-1.9 .6 .6 .6 .8 .6 .5 .6-1.2 .6-.3 .6 .4 .6 1 .6-.5 .6 .5 .6-1 .6-.4 .6 .2 .6 1.2 .6-.7 .6 .9 .6 .2 .6-1 .6-1.4 .6 .2 .6 1.2 .6-1.9 .6 .2 .6-.1 .6 1.5 .6 .3 .6 .6 .6 .9 .6-.1 .6-2.7 .6 3 .6-1.7 .6 .9 .6-.3 .6-1.5 .6 .1 .6-.1 .6 1.5 .6-.5 .6-.7 .6 .4 .6-.2 .6-.7 .6 1.1 .6-1.4 .6 0 .6 0 .6 .4 .6-1.4 .6-.7 .6 0 .6 1.1 .6-.1 .6 .5 .6-1.3 .6-.3 .6-1.3 .6 2.1 .6-.9 .6 1.8 .6-2.1 .6 .3 .6 .3 .6 .1 .6 0 .6 1.3 .6 .2 .6 .1 .6 .9 .6-1 .6 .1 .6 .1 .6 .6 .6 0 .6 .5 .6-1.3 .6 1.4 .6-.2 .6 .9 .6-1.3 .6 .6 .6-1 .6-.7 .6 .8 .6 .5 .6-.2 .6 .7 .6-.2 .6 .4 .6-1.7 .6 2.4 .6-1.5 .6-.3 .6 .4 .6 .7 .6 1.2 .6 0 .6 .4 .6-1.1 .6-.8 .6 .8 .6-1.6 .6-.6 .6 1.6 .6-.3 .6 1.3 .6-2.2 .6 2.4 .6-.6 .6 .1 .6-1.4 .6 .5 .6-.6 .6 1.1 .6 .3 .6-.5 .6-1.8 .6 1.4 .6-1.7 .6 2 .6 .2 .6-.4 .6 .2 .6-.9 .6 .1 .6 .3 .6 1.3 .6-1.4 .6-.3 .6 1.1 .6 .6 .6-1.7 .6-.6 .6 .8 .6 .1 .6 1.2 .6-1.1 .6 .4 .6-1.1 .6 1.3 .6-.1 .6-1 .6 .8 .6 1.8 .6-2.4 .6 0 .6 1.2 .6 0 .6 .8 .6-.7 .6-1.1 .6 1.6 .6-1.4 .6 .6 .6 1.3 .6-1.8 .6 .9 .6-.7 .6-1.3 .6 1.4 .6-.4 .6 1.1 .6-.4 .6 .4 .6-1.1 .6 .5 .6-.5 .6-.9 .6 0 .6 .8 .6 .7 .6 1.3 .6-2.3 .6 2.8 .6-1.2 .6 .6 .6 .1 .6-1.6 .6-.1 .6 1.1 .6-1.3 .6-.7 .6 .8" stroke="#ff0000" stroke-width="3.9"/>
<path d="M1227 404.4l.6-.1 .6 .7 .6 1.4 .6-.5 .6-.9 .6-1.7 .6 2.5 .6-1.6 .6 1.2 .6-.1 .6 0 .6 1.1 .6-1.2 .6 .9 .6 .2 .6-1.6 .6 .1 .6 1.4 .6-.2 .6-.8 .6 .4 .6-1.1 .6 1.7 .6-.4 .6-.8 .6 .5 .6-1 .6-.4 .6 .1 .6 .5 .6 0 .6 .2 .6 1.7 .6-1.2 .6 .1 .6-.7 .6-.4 .6 .7 .6 .7 .6-.7 .6 .2 .6-.5 .6 .5 .6-.4 .6 .7 .6 .7 .6-1 .6-1.1 .6 1.5 .6-1.6 .6-.3 .6 1.3 .6 0 .6-.6 .6-.9 .6 1.1 .6-1.3 .6 2 .6-2.7 .6 .2 .6 .6 .6-1.2 .6-.4 .6-2 .6 2.8 .6 .1 .6 .7 .6-.8 .6-.9 .6 1.1 .6-1.7 .6 2 .6-1.6 .6 1.4 .6-1.8 .6 1.2 .6-1 .6 .6 .6-1.2 .6-2.6 .6 .4 .6 .6 .6 0 .6-.4 .6-1.9 .6 .7 .6-1.2 .6-.5 .6-2.6 .6-1.1 .6 .1 .6-1.4 .6-3.5 .6-.9 .6-1.6 .6-3.5 .6-2.9 .6-3.2 .6-5.2 .6-6.4 .6-6.9 .6-12.1 .6-18.2 .6-28.7 .6-46.4 .6-71.8 .6-69.6 .6 0 .6 0 .6 0 .6 0 .6 0 .6 0 .6 0 .6 0 .6 0 .6 30.7 .6 28.5 .6 1.8 .6-13.9 .6-13 .6 7.2 .6 28 .6 42.7 .6 44 .6 37 .6 27 .6 20.3 .6 13.2 .6 7.6 .6 7.8 .6 3.1 .6 4 .6 1.5 .6 3.2 .6 .3 .6 .8 .6 2.7 .6 2 .6 .1 .6 .2 .6 1.6 .6-1.5 .6 1.5 .6 .1 .6 .2 .6 1.9 .6-.2 .6-.5 .6 .7 .6 .9 .6-.8 .6 1.1 .6 1.2 .6-1.1 .6 .5 .6-.9 .6 .2 .6 .5 .6 1.7 .6-.6 .6-.7 .6 .9 .6-.4 .6-2 .6 1.2 .6 .1 .6-.7 .6 1 .6-.6 .6 1.7 .6-.8 .6 1.3 .6-.4 .6-.6 .6 1.2 .6 .1 .6-.5 .6 .8 .6 .2 .6 .4 .6-2.2 .6 .6 .6 .7 .6 .6 .6-.6 .6 .1 .6 .6 .6 .8 .6 .3 .6 .6 .6-.6 .6-2.2 .6-.1 .6-.3 .6 1.6 .6 .8 .6-1.3 .6-.6 .6 .7 .6 0 .6-1.2 .6 .4 .6 2 .6-1.3 .6-.5 .6 .2 .6-.3 .6 1.4 .6-.4 .6 1.3 .6-1.8 .6 .6 .6-.2 .6 .5 .6-1.5 .6 1.8 .6 .5 .6-1.1 .6 .7 .6-1.6 .6 1.1 .6-.2 .6 .7 .6-.5 .6-.9 .6 .7 .6 .1 .6 .4 .6-1 .6 .8 .6 .7 .6-1.5 .6 .5 .6 1.1 .6-.1 .6-.7 .6 1 .6-2.7 .6 1.5 .6 .8 .6-.5 .6-.5 .6 1.1 .6-.8 .6-.7 .6 1.2 .6 1.2 .6-.9 .6-.9 .6 .2 .6 .9 .6-1.5 .6-.7 .6 0 .6 2 .6-1.2 .6-.1 .6 .1 .6 .7 .6-1.8 .6 1.7 .6 .3 .6-.8 .6-.4 .6 2 .6-.9 .6-1.3 .6-.3 .6 1.2 .6 1.4 .6-1.1 .6-.5 .6 1.6 .6-.5 .6-2.2 .6 1.3 .6 1.3 .6-1.1 .6-.7 .6 0 .6 1.2 .6 0 .6 .3 .6-1.1 .6-.5 .6 1.2 .6 .3 .6-.2 .6-.1 .6-.3 .6 .7 .6-.1 .6 .6 .6-.5 .6-.4 .6-1.3 .6 0 .6 0 .6 1.1 .6-1 .6 .7 .6 0 .6 .9 .6-1 .6 .6 .6 .7 .6-.4 .6-1.3 .6 .4 .6 .3 .6-.4 .6 1.3 .6-.1 .6-1.2 .6 .4 .6-.9 .6 .5 .6 .5 .6 .4 .6 0 .6 .1 .6-2.6 .6 1.6 .6 1.3 .6-.8 .6 1.1 .6 0 .6-1.8 .6-.5 .6 1.7 .6-1.4 .6 1 .6-.9 .6-.1 .6-.3 .6 2.2 .6-1.1 .6 .6 .6-2 .6 .5 .6-.1 .6-.4 .6 1.2 .6 .6 .6 .1 .6-1.4 .6 2 .6-1.1 .6 .9 .6-.7 .6 1.2 .6-.8 .6-.5 .6-1.2 .6 1 .6-.1 .6 1.3 .6-1.1 .6-.5 .6 .4 .6 1.1 .6-.8 .6-.7 .6 1.7 .6-2.2 .6 .5 .6 .2 .6-1 .6 1.7 .6-.6 .6 1.2 .6-2.1 .6 1.7 .6-.3 .6 .2 .6-1 .6-.3 .6 1.7 .6-1.1 .6 .9 .6 0 .6-.4 .6-1.1 .6 1.9 .6-1 .6-.6 .6 .3 .6-.6 .6 1 .6-.9 .6 .1 .6 1.7 .6-.7 .6 .4 .6-.3 .6 0 .6 1 .6-1.4 .6-.4 .6-.6 .6 .6 .6-1.1 .6 2.4 .6-2.2 .6 1.8 .6-.3 .6-1.4 .6 2 .6 .5 .6-2 .6 2 .6-.9 .6 1.3 .6-1.3 .6-.4 .6 .2 .6 2.2 .6-3 .6 1 .6-.5 .6 0 .6 .4 .6 .8 .6-.9 .6 .7 .6 .1 .6 1 .6-2.3 .6 1 .6-.2 .6-.1 .6-.1 .6 .5 .6-.6 .6-.4 .6-.1 .6 1.6 .6-.5 .6-.6 .6 0 .6-.6 .6 .4 .6 .8 .6 .2 .6-1.2 .6 .1 .6-1.4 .6 1.6 .6-.4 .6-.6 .6 1.2 .6 1.1 .6-.2 .6 .5 .6-1.3 .6-.3 .6-.3 .6-.2 .6 1.4 .6 .2 .6-1.3 .6 .9 .6-1.7 .6 .9 .6 0 .6 .2 .6 .5 .6-.1 .6 1.1 .6-2.1 .6 .2 .6 0 .6-1.6 .6 .1 .6 2.1 .6-1.1 .6 .4 .6 .6 .6-1.5 .6 1.5 .6-.6 .6 .9 .6 1.2 .6-.6 .6-1 .6 .4 .6 0 .6-.9 .6-.4 .6-1.1 .6 1.8 .6-.5 .6-.5 .6 .9 .6 1.2 .6-.9 .6-.8 .6 1.9 .6-1.2 .6-.3 .6 1.5 .6-.6 .6-.5 .6-.6 .6 .1 .6 .3 .6 .6 .6-1.3 .6 1.4 .6 .5 .6-.5 .6-.7 .6 .3 .6-.4 .6-.3 .6-.3 .6-.2 .6-.3 .6-.3 .6 .6 .6 2 .6-.8 .6 0 .6 .6 .6-.6 .6-.4 .6 .9 .6 .1 .6-.3 .6-1 .6 1.9 .6-.7 .6 1.3 .6-1.7 .6-1.5 .6 3.1 .6-2.7 .6 1.7 .6-.2 .6 .4 .6-1.7 .6 .8 .6 .5 .6-.1 .6-.3 .6 .9 .6-2.5 .6 1.6 .6-.6 .6 .9 .6-1.8 .6 2.1 .6 1.3 .6-.6 .6-1 .6 2.1 .6-.2 .6-1.8 .6-1.1 .6-.3 .6 .4 .6 .7 .6-.7 .6 1.2 .6 .5 .6-1 .6-.2 .6 1.5 .6-.4 .6-1.5 .6 1 .6-.3 .6-1.1 .6 1.7 .6-1 .6-.2 .6 .2 .6-1 .6 .6 .6-.1 .6 2 .6 .3 .6-1.2 .6-.5 .6 .4 .6-.6 .6 .6 .6-1.7 .6 .1 .6 .4 .6 1.1 .6-1.1 .6 .1 .6 0 .6-.6 .6 .6 .6 1.5 .6 .1 .6-3 .6 2.1 .6-1.4 .6 2.4 .6 0 .6-.3 .6-1.2 .6 .7 .6-.2 .6 .4 .6-.1 .6-1.2 .6 2.2 .6-2 .6 0 .6 .8 .6-.5 .6-1.4 .6 2.3 .6 .2 .6-.4 .6-1.4 .6 .4 .6 0 .6 1.1 .6-.7 .6 1.4 .6-2.1 .6 .4 .6 1.5 .6 .4 .6-1.6 .6-.2 .6 0 .6-.9 .6-.2 .6 1.2 .6-.2 .6-.4 .6 1 .6-.5 .6 .1 .6-1.1 .6 .6 .6-.3 .6 1.6 .6-1.2 .6 .3 .6-.8 .6 1 .6-.1 .6 .4 .6 1.4 .6-1.7 .6 1.6 .6-2.6 .6 .7 .6 .2 .6 .1 .6 1.1 .6-1.1 .6 .1 .6-1.2 .6 .3 .6 2 .6-.1 .6 0 .6-.5 .6-1.2 .6-.4 .6 1.3 .6 1.2 .6-2.2 .6 1.5 .6-1.1 .6 .5 .6-1.1 .6 .3 .6 .9 .6-1.2 .6-.1 .6 1.6 .6-1.2 .6 2.6 .6-1 .6-.7 .6-.2 .6 .5 .6-.3 .6 0 .6-1.9 .6 .4 .6 2 .6-1.8 .6 .7 .6 .2 .6-.2 .6-.9 .6 .3 .6-.4 .6 1.3 .6-.2 .6-.2 .6 1.1 .6 .7 .6-1.9 .6 1.8 .6-1.8 .6-.2 .6-1.6 .6 1.3 .6 .6 .6 .2 .6 .3 .6-.1 .6 .5 .6-.4 .6 .1 .6-.7 .6 .3 .6-.1 .6-.3 .6 .5 .6 1.3 .6-2.1 .6-.2 .6 1.6 .6 .8 .6-1.4 .6 .3 .6 .9 .6-1.6 .6 .2 .6 .2 .6-1.4 .6 .7 .6 .9 .6-.6 .6-.6 .6 .7 .6-.6 .6 1.3 .6-.5 .6-.6 .6-1.4 .6 2 .6-1.6 .6 .7 .6 1 .6-.6 .6 0 .6-1 .6 .4 .6 .7 .6-.3 .6-.3 .6-.4 .6 0 .6-2.1 .6 1.1 .6-1 .6 1.8 .6-1.5 .6 .9 .6-.4 .6 .8 .6-2.8 .6 .3 .6 .2 .6-1.8 .6 .8 .6-2.3 .6-.7 .6 1 .6-1.5 .6 .7 .6-1.7 .6-2.8 .6-4 .6-7.6 .6-7 .6-12.8 .6-17.7 .6-23.4 .6-27.5 .6-28.2 .6-22 .6-13.3 .6 6.3 .6 17.6 .6 22.8 .6 22.7 .6 16.9 .6 11.1 .6 2.9 .6-1.8 .6-1 .6-.9 .6-.1 .6 7.2 .6 9.6 .6 10.8 .6 10.8 .6 7.5 .6 7.6 .6 5.9 .6 5.8 .6 2.8 .6 2.3 .6 2.6 .6 1.8 .6-1.3 .6 .8 .6 1.6 .6-.2 .6 2.1 .6-.5 .6 .1 .6-1.1 .6 1.7 .6 0 .6-.1 .6 0 .6-.4 .6-.8 .6 1.9 .6-.6 .6 1 .6-1.3 .6-.8 .6 1.8 .6 .4 .6 .1 .6 1.5 .6-3.5 .6 1.2 .6 0 .6 1.9 .6-.5 .6-.2 .6-1.2 .6 2.1 .6-.9 .6-.1 .6-.4 .6 .5 .6 .2 .6 .5 .6-1 .6-.6 .6-.3 .6 1.9 .6-.7 .6-.6 .6 1.8 .6-2.3 .6 .8 .6 1 .6-.8 .6-2.4 .6 3 .6-1.3 .6 1.2 .6 .5 .6-.6 .6-1.3 .6 .4 .6 .5 .6 .6 .6 .4 .6-.8 .6-.8 .6 .9 .6 1.9 .6-1.2 .6-1.2 .6-.4 .6 .7 .6-.4 .6 .4 .6 .3 .6 .9 .6-.1 .6-.7 .6-2 .6 1.5 .6 .9 .6-.4 .6 .7 .6-1.4 .6 1.2 .6 1 .6-1.3 .6 .2 .6-.4 .6 .5 .6-1 .6 .4 .6-.6 .6 .9 .6 1 .6-1.7 .6-.3 .6-.8 .6 1.4 .6-.2 .6 .1 .6 .6 .6-.5 .6 .2 .6-.1 .6 .1 .6-.7 .6-.3 .6 1.4 .6 .6 .6-1.7 .6 1.7 .6 .4 .6-2.6 .6 .1 .6 .8 .6 .2 .6 .4 .6-.9 .6 0 .6 .1 .6 1.9 .6-.8 .6 1 .6-1.5 .6 1.6 .6-1.2 .6 .2 .6 .1 .6-1.2 .6 0 .6 0 .6 2 .6-2.3 .6-.1 .6 .1 .6 1.3 .6-.1 .6-1.1 .6 1.5 .6-.7 .6 .6 .6-.6 .6 .3 .6 .1 .6-1.4 .6 1.1 .6-.2 .6 .1 .6-2 .6 1.5 .6 0 .6-.4 .6 .9 .6 .2 .6 .3 .6-1.4 .6 1.1 .6 .3 .6 1 .6-2.1 .6 1.8 .6-2 .6 .3 .6 0 .6 1.1 .6-.5 .6 .5 .6-1.3 .6-1 .6 2.6 .6-1.2 .6 1.2 .6-1.1 .6-.4 .6-.1 .6 .3 .6 .3 .6 0 .6 .2 .6-.1 .6 1.3 .6-1.7 .6-1.3 .6-.3 .6 .5 .6-.5 .6 .5 .6 .8 .6-.7 .6-.8 .6 .1 .6-.2 .6 .1 .6 .7 .6-.8 .6 0 .6-1.3 .6 .5 .6 1.2 .6-1.4 .6 .3 .6-.6 .6 1.3 .6-.6 .6 .5 .6 0 .6 .2 .6-.7 .6 .2 .6 2.6 .6-.4 .6 .9 .6-.6 .6-1.2 .6 .7 .6-.9 .6 .8 .6 .4 .6-1.3 .6 1 .6-.5 .6-.8 .6 1 .6 0 .6 .2 .6-.1 .6 .6 .6 .2 .6 .6 .6-1.9 .6 1.7 .6-1.3 .6 1.4 .6-1.4 .6 1.2 .6 .6 .6 .5 .6-.9 .6 1.4 .6-2 .6 1.2 .6-.2 .6-1.8 .6 .7 .6 .6 .6-.6 .6 1.4 .6-1.3 .6 .6 .6-.5 .6-.8 .6 .8 .6-1.2 .6 .4 .6-1 .6 2.1 .6 .8 .6-.2 .6-.5 .6-.5 .6 .1 .6 .4 .6 .3 .6-.9 .6 0 .6 .4 .6-1.5 .6 1.2 .6-.9 .6 1.2 .6 .9 .6-1.4 .6 .7 .6 2 .6-1.2 .6-1.6 .6 0 .6 1.5 .6-.7 .6-.7 .6 .4 .6-.1 .6-.5 .6 .7 .6-.3 .6-1 .6 1.4 .6 .5 .6-.5 .6-.7 .6 .3 .6 1.2 .6-.8 .6-.5 .6 1.1 .6-1.5 .6 .3 .6 0 .6 .6 .6-2.1 .6 2.1 .6 .8 .6-.8 .6-.4 .6 0 .6-.6 .6 .2 .6 .9 .6 1.1 .6-1.2 .6 .1 .6 2.3 .6-2.7 .6 .6 .6-.5 .6 1.2 .6-2.2" stroke="#0000ff" stroke-width="3.9"/>
<path d="M1227 336.1l.6 .2 .6-.3 .6 .4 .6 .6 .6-2.5 .6 2.8 .6-2.3 .6 1 .6-.5 .6 .8 .6-.6 .6-1.4 .6 1.2 .6-.6 .6 1.3 .6-1.3 .6-.2 .6 1.2 .6-.7 .6-.4 .6-.1 .6 1.1 .6-1.3 .6 .1 .6-.1 .6 1.6 .6-.6 .6-1.1 .6 0 .6 .5 .6 2.2 .6-.9 .6-1.2 .6 .8 .6-.6 .6 .7 .6 .4 .6 .2 .6-.1 .6 .3 .6-.1 .6-1.7 .6 1.1 .6-.5 .6-.1 .6 .7 .6-.7 .6 .1 .6 .9 .6-.4 .6-.5 .6-.1 .6 0 .6 1.7 .6-2.3 .6 .5 .6 1.3 .6-.9 .6 .2 .6-.5 .6-1.8 .6 2.4 .6-1.3 .6 .4 .6-.1 .6-.2 .6 .1 .6 .1 .6 .2 .6 1.7 .6-1.3 .6-.9 .6 .4 .6-1.3 .6 1 .6 1.1 .6-1.2 .6 1 .6-.4 .6 1.5 .6-1.5 .6-1.1 .6 .5 .6 .7 .6-.5 .6 .2 .6-.8 .6 1.9 .6-1.4 .6 .7 .6-1.3 .6 .3 .6-1.1 .6 1.4 .6-.3 .6 .7 .6-.6 .6 .3 .6-1.7 .6-.9 .6 .7 .6-.5 .6-.6 .6-1.3 .6-.6 .6-3.4 .6-2.7 .6-3.7 .6-4.4 .6-3.7 .6-5.9 .6-3.7 .6-5.1 .6-1.6 .6-1.5 .6 3.4 .6 2.5 .6 4.1 .6 4.3 .6 3.8 .6 2.1 .6 2.4 .6 1.5 .6-1.8 .6 .5 .6-.2 .6 1.4 .6 1.2 .6 2.4 .6 2 .6 3.6 .6 1.5 .6-.2 .6 1.9 .6 1.6 .6 1.1 .6 .7 .6-.6 .6-1.7 .6 2 .6 .6 .6 .4 .6-1 .6 1.5 .6 1.1 .6-1.9 .6 .8 .6 .1 .6-1 .6 .9 .6 0 .6 0 .6-.1 .6-.4 .6 2.2 .6-.8 .6-1.6 .6 1.1 .6 .3 .6-.3 .6 1.6 .6-2.1 .6 1.2 .6-1.8 .6-.1 .6-.4 .6 .7 .6 .3 .6-.3 .6-.1 .6 .2 .6 .3 .6 .6 .6 0 .6-.4 .6-.3 .6 1 .6-.9 .6-1.3 .6 1.1 .6-.3 .6 1.1 .6 0 .6 .4 .6 .8 .6-.4 .6-.6 .6 .3 .6-1.9 .6 1.6 .6-.1 .6-.9 .6 .2 .6 1.2 .6-.2 .6 .2 .6-.6 .6-.8 .6 1.1 .6 .8 .6-.2 .6-.9 .6-.8 .6 .5 .6 .1 .6 .2 .6 .3 .6 .1 .6-1.6 .6-.4 .6 2 .6-1.6 .6-.3 .6 .3 .6 1.1 .6-.6 .6 1 .6-1 .6 0 .6-1.1 .6 1.8 .6-.6 .6 .9 .6-.3 .6-.2 .6-.5 .6 1.7 .6-1.5 .6 .8 .6 .7 .6-1.8 .6 2.5 .6-1 .6-.7 .6-.6 .6-.3 .6 .8 .6-.2 .6-.3 .6 .4 .6-.5 .6-.3 .6 .1 .6-.2 .6 2.1 .6-.2 .6-1.4 .6 .5 .6-.1 .6-2 .6 1.6 .6-.4 .6-.4 .6 1.4 .6-.9 .6 .3 .6-.3 .6 .6 .6 .7 .6-1 .6 .3 .6-.9 .6-.3 .6 2.3 .6-1.2 .6 .1 .6 .1 .6-.8 .6 1.6 .6-2.5 .6 3 .6-1.1 .6 0 .6-.8 .6 1.1 .6 .8 .6-.7 .6-1.7 .6 .8 .6 .5 .6-.6 .6-.3 .6 .7 .6 .1 .6 1.4 .6-2.2 .6 1.1 .6-.3 .6 .3 .6 .4 .6 .1 .6-2 .6 .5 .6-1.2 .6-.5 .6 1.9 .6-.7 .6 1.5 .6-.9 .6 1.1 .6-2.1 .6 1.1 .6-.1 .6 .6 .6 0 .6 1 .6-1.2 .6 1.5 .6-.7 .6-.7 .6-1.3 .6 1.4 .6-.6 .6 0 .6 1.9 .6-1.9 .6 0 .6 .9 .6 .3 .6-.6 .6 .3 .6-1.4 .6 .4 .6 .7 .6-.1 .6 .1 .6 .4 .6-1.1 .6 .5 .6-.3 .6 .3 .6-.6 .6 1.3 .6-.2 .6 .3 .6 0 .6-1.7 .6 1.5 .6-.8 .6-.2 .6 .5 .6-.6 .6 1.6 .6 .2 .6-1.1 .6-.3 .6 .5 .6 .9 .6-.9 .6-.9 .6-.5 .6 .2 .6 1.5 .6 .1 .6 .1 .6-.8 .6 1 .6-2 .6 1.3 .6-1.6 .6 1.9 .6-.1 .6-2.1 .6 1.7 .6-.5 .6 .4 .6 .8 .6-1.9 .6 1.1 .6 .2 .6-.8 .6-.1 .6 1.2 .6-.8 .6 1.8 .6-.8 .6-.2 .6-1.8 .6 1.3 .6-1 .6-.5 .6 1.3 .6-.1 .6 .2 .6 .1 .6 .8 .6-1.1 .6 .3 .6 .9 .6-1.3 .6-.3 .6 0 .6 .3 .6 1.1 .6-.4 .6-.3 .6 .2 .6 1.1 .6-.2 .6-1.4 .6 0 .6 .4 .6 1.6 .6-1.5 .6 .8 .6-.9 .6 .5 .6-.5 .6 .9 .6-2.3 .6 1.9 .6-1 .6-.4 .6 1 .6-.7 .6 .7 .6 .5 .6-.3 .6 .4 .6 .4 .6-2.8 .6 2.3 .6-1 .6 1.3 .6-.2 .6-1.2 .6 .1 .6 1.9 .6-.9 .6-1.2 .6 1.4 .6-.9 .6 .3 .6-1.3 .6-.7 .6-.1 .6 .9 .6 .3 .6 .8 .6 .1 .6-1.4 .6 .7 .6 1.2 .6-1.5 .6 1 .6-1 .6 .1 .6 .8 .6-.2 .6 0 .6 .8 .6 1.1 .6-1.3 .6 .5 .6 .1 .6-1.4 .6 .7 .6 0 .6-.4 .6-.5 .6 1.3 .6-.7 .6 0 .6 1.1 .6-1.3 .6-.8 .6 2.2 .6-2.3 .6 2.1 .6-.4 .6-.2 .6-.1 .6 .5 .6-1.4 .6 1.5 .6-1.3 .6 .1 .6-.2 .6 .7 .6 .1 .6 .3 .6-.3 .6-1.8 .6 2.1 .6 .2 .6-.8 .6-.2 .6 .5 .6-.7 .6-.3 .6 1 .6 0 .6-.7 .6 .7 .6 .2 .6-.3 .6 0 .6 0 .6-.1 .6 .7 .6-.4 .6-.2 .6 .8 .6-.8 .6 0 .6 .9 .6-1.4 .6 .7 .6 1.3 .6-1.5 .6-1.3 .6 1 .6-.8 .6 .6 .6-1.1 .6 1.4 .6 .7 .6-.2 .6 .3 .6-.2 .6-2.3 .6 2.2 .6-1.3 .6 .2 .6 1.2 .6-1.3 .6-.1 .6-.7 .6 2 .6 .1 .6-2.1 .6 2.4 .6-1 .6-1.5 .6 1.4 .6 1.1 .6 .4 .6-3.1 .6 .4 .6 .3 .6 0 .6 1 .6-.1 .6-.3 .6 1.3 .6-.5 .6-.7 .6 .8 .6-.6 .6-.4 .6 .5 .6 1.5 .6-2.3 .6 .7 .6 .8 .6-1.3 .6-.4 .6-.1 .6 .6 .6-.4 .6 .9 .6 1.7 .6-2.2 .6 1.2 .6-.8 .6 .8 .6 .1 .6-1.3 .6 .8 .6 .8 .6 .2 .6-.7 .6-.4 .6 .5 .6-1.1 .6 .6 .6-.8 .6 .8 .6 0 .6 1.1 .6-1 .6 .1 .6-1.6 .6 1.2 .6 .5 .6 .2 .6-.1 .6-.4 .6 .7 .6 .9 .6-1.1 .6 .6 .6-.8 .6 .4 .6-1 .6 1.4 .6-.6 .6-.4 .6-.7 .6 .6 .6 .7 .6-.2 .6-1.9 .6 2.1 .6-1.4 .6-.6 .6 2 .6-1.5 .6 2.7 .6-2.3 .6-.1 .6-1.2 .6 2 .6-.2 .6 .8 .6 .2 .6-.1 .6-.4 .6 .2 .6 .5 .6-1.6 .6-.2 .6 0 .6 1.9 .6-1 .6-.2 .6 .7 .6-.9 .6 .6 .6-1 .6 .7 .6-.9 .6 0 .6 1.5 .6-.3 .6 1.5 .6-1.1 .6 0 .6 1.3 .6-1.2 .6-1.7 .6-.3 .6 .1 .6 1.4 .6-.8 .6-.8 .6 .2 .6-1.6 .6 2.1 .6-.3 .6 0 .6-.1 .6 0 .6-.1 .6 1.6 .6-1.5 .6 .6 .6-.1 .6 .5 .6-.8 .6 .1 .6 1.3 .6-1 .6-.4 .6-1.4 .6 .5 .6 .4 .6 1 .6-.4 .6 .5 .6-.2 .6-1.2 .6 1.1 .6 .2 .6-.3 .6 .4 .6 .4 .6-1.2 .6 .7 .6-.9 .6 1.3 .6-.9 .6-1.5 .6 2.4 .6-.3 .6-.6 .6-.1 .6 .8 .6 .3 .6 0 .6-.8 .6-.6 .6 1 .6 1 .6-2.2 .6 .8 .6 1.1 .6-.3 .6-.1 .6-1.4 .6-.7 .6 2.1 .6-1.3 .6 1 .6 .5 .6-1.1 .6 .3 .6-.3 .6 1.9 .6-1.6 .6 .7 .6 .1 .6-1 .6 1.1 .6-.6 .6-1 .6-.9 .6 3.2 .6-.9 .6 .9 .6-.3 .6-.4 .6-1 .6 2 .6-1.1 .6 .1 .6-.2 .6-.8 .6 .2 .6-.8 .6 .4 .6 .9 .6 .2 .6-.2 .6-.8 .6 1 .6-1.9 .6 1.3 .6 .4 .6-.1 .6 0 .6-.7 .6-.3 .6-.6 .6 1.3 .6 0 .6-1 .6 1.5 .6 0 .6-.6 .6 .5 .6-1.2 .6 2.4 .6-2.3 .6 1.2 .6 .6 .6-2.1 .6-.7 .6 .4 .6 2.1 .6-1.3 .6-.1 .6 .6 .6 .6 .6 0 .6-1.5 .6 .4 .6 .2 .6-.4 .6-.2 .6-1.7 .6 2 .6-.1 .6-.9 .6 .3 .6-.8 .6-.5 .6-.2 .6-.9 .6 .2 .6-.9 .6-2.6 .6-.8 .6-3.2 .6-4.2 .6-3.5 .6-4.4 .6-4.6 .6-5 .6-1.4 .6-2 .6 1.5 .6 1.8 .6 2.9 .6 2.6 .6 3.8 .6 3.8 .6 .7 .6-.5 .6 .1 .6 1.6 .6-.7 .6-.3 .6 1.9 .6 .5 .6 2.2 .6 2.1 .6 1.6 .6 .3 .6 3.6 .6 .1 .6 1.8 .6 1.1 .6-.6 .6-.1 .6 2 .6 .6 .6 .9 .6 .2 .6-.3 .6-.7 .6 1.2 .6 .2 .6-.7 .6 .3 .6 .5 .6 0 .6 .1 .6-.1 .6-.6 .6 1.1 .6-1.1 .6 1.1 .6-.9 .6 .3 .6-1.1 .6 .4 .6 1.3 .6-.2 .6-.1 .6-.3 .6 .9 .6-2 .6 .9 .6 .4 .6 .3 .6 .5 .6-.4 .6 .4 .6-1.1 .6 .6 .6 .6 .6-.9 .6 .2 .6-.9 .6-.2 .6 1.3 .6-.8 .6 .2 .6 1.1 .6-.9 .6 .8 .6-.9 .6-.6 .6 .7 .6-.2 .6-.8 .6-.1 .6 .8 .6 .3 .6 .3 .6-.7 .6 .1 .6 .6 .6-1.5 .6 .1 .6 .9 .6-1.5 .6 .3 .6 0 .6 1.5 .6-.2 .6 .3 .6-.2 .6 .2 .6-.4 .6-.5 .6 1.5 .6-.8 .6-.2 .6 .2 .6 .3 .6 .5 .6-1.6 .6 2.7 .6-2.5 .6 1.4 .6 .3 .6-.7 .6-.1 .6-1 .6 .7 .6 .4 .6-.4 .6 .2 .6-.2 .6 1.4 .6-1.9 .6 0 .6 1.4 .6-.8 .6 .2 .6-.2 .6 1.1 .6-.4 .6-.5 .6 1.7 .6-3.7 .6 2.3 .6-.2 .6 .1 .6 .3 .6-.7 .6 0 .6-1.6 .6 1.7 .6 .6 .6-.5 .6-2.2 .6 1.9 .6-.2 .6 1.2 .6 .2 .6-.3 .6-.5 .6-.9 .6 1.5 .6-1.2 .6-.1 .6 .6 .6 .2 .6 .5 .6-.4 .6-.5 .6-1 .6 1.3 .6-.7 .6 .5 .6 .8 .6-1.7 .6 .2 .6 .5 .6-.4 .6 1.4 .6 .3 .6-.3 .6 .2 .6-.9 .6 0 .6 .6 .6-1.1 .6 1.8 .6-1.3 .6 .3 .6 .1 .6-2.8 .6 2.1 .6-.8 .6 .8 .6 .7 .6 .6 .6-.6 .6-.5 .6 1.8 .6-3.5 .6 2.8 .6-3 .6 .4 .6 1.5 .6-2.3 .6 2.1 .6-1.1 .6-.3 .6 0 .6-.4 .6-.1 .6-.6 .6 .2 .6-.1 .6 1.6 .6-1.6 .6 .9 .6-2.6 .6 2 .6-1.2 .6 1.1 .6-.9 .6-1.6 .6 .9 .6-.4 .6 .2 .6-1.2 .6 .3 .6 2.5 .6-1.1 .6-1.5 .6 .6 .6-2 .6 0 .6 1.4 .6 .6 .6-.7 .6-1.1 .6 1.5 .6-1.1 .6 1.2 .6 .7 .6-1.2 .6 3.5 .6-2.1 .6 .4 .6-.4 .6-.3 .6 2.1 .6-1.2 .6 1.2 .6-1.1 .6 3 .6-1.4 .6 0 .6-1.4 .6 1.5 .6 .5 .6 1 .6-1 .6 0 .6 1.9 .6-2.7 .6 .2 .6 1.5 .6 .3 .6 .2 .6 .8 .6-1.9 .6 .6 .6-.6 .6 .1 .6 .4 .6-.1 .6 .3 .6-.6 .6 .4 .6-.6 .6 .7 .6 1 .6-.2 .6-1.9 .6 2.3 .6 .2 .6-.9 .6-.9 .6 .4 .6 .7 .6 .3 .6 .2 .6-1.4 .6-.7 .6 1.9 .6-1.2 .6 .4 .6-.6 .6 1.6 .6-1.1 .6 .3 .6 1.8 .6-.1 .6-.7 .6-2.1 .6 .8 .6 .9 .6-1.5 .6-.2 .6 .4 .6 .5 .6 1 .6-1.9 .6 2.3 .6-1.7 .6-.1 .6 1.1 .6-1.1 .6 .5 .6-1.1 .6 1 .6 .4 .6-.5 .6-.3 .6 1.9 .6 .1 .6-1.3 .6-.1 .6 .7 .6-.7 .6 .1 .6-.1 .6-.3 .6-.4 .6 .2 .6 .5 .6 .8 .6 1.5 .6-2.2 .6 .6 .6-.6 .6 1.3 .6-1.2 .6 1.2 .6-1.3 .6-.3 .6-.8 .6-.8 .6 1 .6-1" stroke="#ff00ff" stroke-width="3.9"/>
</g>
<g stroke="#0a0a0a" stroke-width="4.6" stroke-dasharray="8 7.9" fill="none">
<line x1="1290.2" y1="625.2" x2="1290.2" y2="336"/>
<line x1="1692.6" y1="625.2" x2="1692.6" y2="336"/>
<line x1="1822.3" y1="625.2" x2="1822.3" y2="330"/>
</g>
<rect x="1226.5" y="126.5" width="674.5" height="497" fill="none" stroke="#646464" stroke-width="3.6"/>
<g stroke="#646464" stroke-width="2.6">
<line x1="1284.9" y1="623" x2="1284.9" y2="618"/>
<line x1="1438.7" y1="623" x2="1438.7" y2="614"/>
<line x1="1592.4" y1="623" x2="1592.4" y2="618"/>
<line x1="1746.2" y1="623" x2="1746.2" y2="614"/>
<line x1="1899.9" y1="623" x2="1899.9" y2="618"/>
</g>
</g>
<g font-family="'Liberation Serif', 'DejaVu Serif', serif" style="font-kerning:none" font-size="46.5" fill="#1c1c1c" text-anchor="middle" filter="url(#soft3)">
<text x="1440.2" y="669.8">70°</text>
<text x="1747.7" y="669.8">80°</text>
</g>
<g filter="url(#sh)" fill="none" stroke="#000" stroke-width="9">
<ellipse cx="1526" cy="1041" rx="240" ry="321.5" stroke-dasharray="29 10.4" stroke-dashoffset="4"/>
<path d="M1734.6 843 L1813 683.5"/>
<path d="M1787.4 702 L1813.8 682.2 L1814.3 715.2" stroke-linejoin="miter" stroke-miterlimit="10"/>
</g>
</g>
</svg>
</body></html>
